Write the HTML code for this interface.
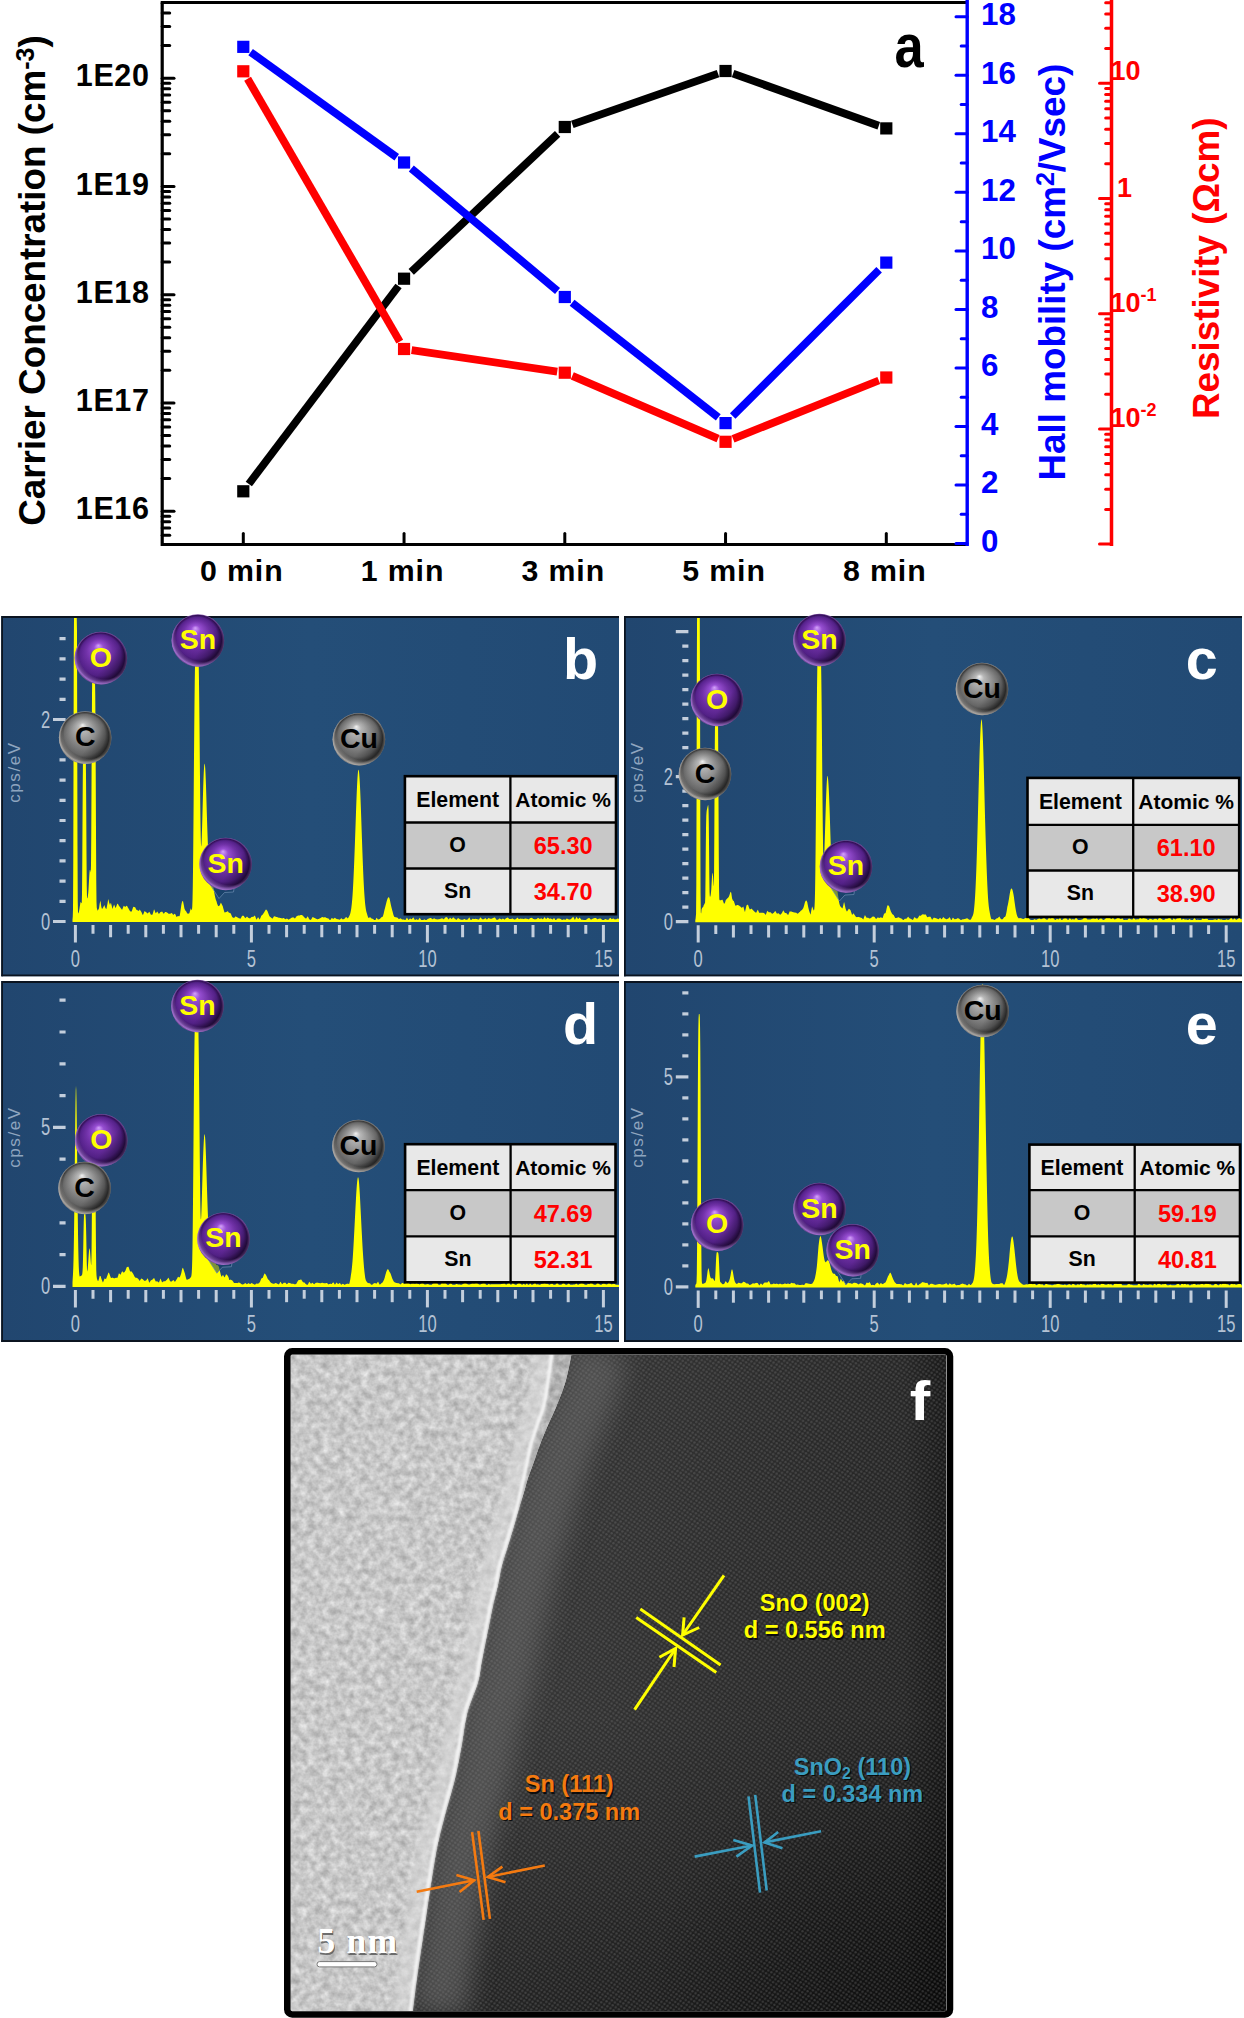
<!DOCTYPE html>
<html><head><meta charset="utf-8"><style>
html,body{margin:0;padding:0;background:#fff;overflow:hidden;}
svg{display:block;font-family:"Liberation Sans",sans-serif;}
</style></head><body>
<svg width="1244" height="2018" viewBox="0 0 1244 2018">
<defs>
<radialGradient id="gp" cx="0.5" cy="0.5" r="0.5" fx="0.45" fy="0.26">
 <stop offset="0" stop-color="#d8a4ff"/>
 <stop offset="0.18" stop-color="#9a50d6"/>
 <stop offset="0.5" stop-color="#7232aa"/>
 <stop offset="0.78" stop-color="#56228c"/>
 <stop offset="0.91" stop-color="#331058"/>
 <stop offset="1" stop-color="#8656ac"/>
</radialGradient>
<radialGradient id="gg" cx="0.5" cy="0.5" r="0.5" fx="0.45" fy="0.26">
 <stop offset="0" stop-color="#f6f6f6"/>
 <stop offset="0.16" stop-color="#bcbcbc"/>
 <stop offset="0.5" stop-color="#8e8e8e"/>
 <stop offset="0.78" stop-color="#6a6a6a"/>
 <stop offset="0.91" stop-color="#3c3c3c"/>
 <stop offset="1" stop-color="#9c9894"/>
</radialGradient>
<linearGradient id="gshade" x1="0.25" y1="0.2" x2="1" y2="0.75">
 <stop offset="0" stop-color="#000" stop-opacity="0"/>
 <stop offset="0.55" stop-color="#000" stop-opacity="0.05"/>
 <stop offset="1" stop-color="#000" stop-opacity="0.5"/>
</linearGradient>
<radialGradient id="grimp" cx="0.58" cy="0.4" r="0.62">
 <stop offset="0.8" stop-color="#b07ee0" stop-opacity="0"/>
 <stop offset="0.97" stop-color="#b07ee0" stop-opacity="0.75"/>
 <stop offset="1" stop-color="#b07ee0" stop-opacity="0"/>
</radialGradient>
<radialGradient id="grimg" cx="0.58" cy="0.4" r="0.62">
 <stop offset="0.8" stop-color="#c0bcb8" stop-opacity="0"/>
 <stop offset="0.97" stop-color="#c0bcb8" stop-opacity="0.7"/>
 <stop offset="1" stop-color="#c0bcb8" stop-opacity="0"/>
</radialGradient>
<linearGradient id="gbg" x1="0" y1="0" x2="1" y2="0">
 <stop offset="0" stop-color="#21466f"/>
 <stop offset="0.5" stop-color="#244e78"/>
 <stop offset="1" stop-color="#224a74"/>
</linearGradient>
<linearGradient id="gdark" gradientUnits="userSpaceOnUse" x1="420" y1="0" x2="946" y2="0">
 <stop offset="0" stop-color="#404040"/>
 <stop offset="0.3" stop-color="#353535"/>
 <stop offset="0.6" stop-color="#2d2d2d"/>
 <stop offset="0.92" stop-color="#262626"/>
 <stop offset="1" stop-color="#181818"/>
</linearGradient>
<linearGradient id="gdark2" gradientUnits="userSpaceOnUse" x1="0" y1="1354" x2="0" y2="2011">
 <stop offset="0" stop-color="#000" stop-opacity="0"/>
 <stop offset="0.55" stop-color="#000" stop-opacity="0.06"/>
 <stop offset="0.8" stop-color="#000" stop-opacity="0.25"/>
 <stop offset="1" stop-color="#000" stop-opacity="0.42"/>
</linearGradient>
<radialGradient id="gcorner" gradientUnits="userSpaceOnUse" cx="946" cy="2011" r="300">
 <stop offset="0" stop-color="#000" stop-opacity="0.45"/>
 <stop offset="1" stop-color="#000" stop-opacity="0"/>
</radialGradient>
<filter id="blur2" x="-50%" y="-50%" width="200%" height="200%"><feGaussianBlur stdDeviation="2.5"/></filter>
<filter id="blur3" x="-50%" y="-50%" width="200%" height="200%"><feGaussianBlur stdDeviation="3"/></filter>
<pattern id="lat" patternUnits="userSpaceOnUse" width="5.4" height="5.0" patternTransform="rotate(-10)">
 <circle cx="1.35" cy="1.25" r="1.2" fill="#8c8c8c"/><circle cx="4.05" cy="3.75" r="1.2" fill="#8c8c8c"/>
</pattern>
<filter id="blur07" x="-20%" y="-20%" width="140%" height="140%"><feGaussianBlur stdDeviation="0.8"/></filter>
<filter id="blur12" x="-50%" y="-50%" width="200%" height="200%"><feGaussianBlur stdDeviation="12"/></filter>
<filter id="noise" x="0" y="0" width="100%" height="100%" color-interpolation-filters="sRGB">
 <feTurbulence type="fractalNoise" baseFrequency="0.13" numOctaves="3" seed="7" result="t"/>
 <feColorMatrix in="t" type="matrix" values="1 0 0 0 0  1 0 0 0 0  1 0 0 0 0  0 0 0 0 1" result="g"/>
 <feComponentTransfer in="g" result="g2">
  <feFuncR type="linear" slope="0.34" intercept="0.615"/>
  <feFuncG type="linear" slope="0.34" intercept="0.615"/>
  <feFuncB type="linear" slope="0.34" intercept="0.615"/>
 </feComponentTransfer>
 <feComposite in="g2" in2="SourceGraphic" operator="in"/>
</filter>
<clipPath id="cp_tem"><rect x="290.5" y="1354.5" width="656" height="656.5"/></clipPath><clipPath id="cp_b"><rect x="1.2" y="616" width="617.8" height="360.5"/></clipPath><clipPath id="cp_c"><rect x="624" y="616" width="618" height="360.5"/></clipPath><clipPath id="cp_d"><rect x="1.2" y="981" width="617.8" height="361"/></clipPath><clipPath id="cp_e"><rect x="624" y="981" width="618" height="361"/></clipPath>
</defs>
<path d="M162.2,2.5 L162.2,544.5 L967.2,544.5" fill="none" stroke="#000" stroke-width="3.2"/>
<line x1="160.7" y1="2.5" x2="967.2" y2="2.5" stroke="#000" stroke-width="3.2"/>
<line x1="162.2" y1="535.22" x2="169.7" y2="535.22" stroke="#000" stroke-width="3" stroke-linecap="round"/>
<line x1="162.2" y1="527.97" x2="169.7" y2="527.97" stroke="#000" stroke-width="3" stroke-linecap="round"/>
<line x1="162.2" y1="521.69" x2="169.7" y2="521.69" stroke="#000" stroke-width="3" stroke-linecap="round"/>
<line x1="162.2" y1="516.15" x2="169.7" y2="516.15" stroke="#000" stroke-width="3" stroke-linecap="round"/>
<line x1="162.2" y1="511.2" x2="174" y2="511.2" stroke="#000" stroke-width="3" stroke-linecap="round"/>
<line x1="162.2" y1="478.61" x2="169.7" y2="478.61" stroke="#000" stroke-width="3" stroke-linecap="round"/>
<line x1="162.2" y1="459.55" x2="169.7" y2="459.55" stroke="#000" stroke-width="3" stroke-linecap="round"/>
<line x1="162.2" y1="446.03" x2="169.7" y2="446.03" stroke="#000" stroke-width="3" stroke-linecap="round"/>
<line x1="162.2" y1="435.54" x2="169.7" y2="435.54" stroke="#000" stroke-width="3" stroke-linecap="round"/>
<line x1="162.2" y1="426.97" x2="169.7" y2="426.97" stroke="#000" stroke-width="3" stroke-linecap="round"/>
<line x1="162.2" y1="419.72" x2="169.7" y2="419.72" stroke="#000" stroke-width="3" stroke-linecap="round"/>
<line x1="162.2" y1="413.44" x2="169.7" y2="413.44" stroke="#000" stroke-width="3" stroke-linecap="round"/>
<line x1="162.2" y1="407.9" x2="169.7" y2="407.9" stroke="#000" stroke-width="3" stroke-linecap="round"/>
<line x1="162.2" y1="402.95" x2="174" y2="402.95" stroke="#000" stroke-width="3" stroke-linecap="round"/>
<line x1="162.2" y1="370.36" x2="169.7" y2="370.36" stroke="#000" stroke-width="3" stroke-linecap="round"/>
<line x1="162.2" y1="351.3" x2="169.7" y2="351.3" stroke="#000" stroke-width="3" stroke-linecap="round"/>
<line x1="162.2" y1="337.78" x2="169.7" y2="337.78" stroke="#000" stroke-width="3" stroke-linecap="round"/>
<line x1="162.2" y1="327.29" x2="169.7" y2="327.29" stroke="#000" stroke-width="3" stroke-linecap="round"/>
<line x1="162.2" y1="318.72" x2="169.7" y2="318.72" stroke="#000" stroke-width="3" stroke-linecap="round"/>
<line x1="162.2" y1="311.47" x2="169.7" y2="311.47" stroke="#000" stroke-width="3" stroke-linecap="round"/>
<line x1="162.2" y1="305.19" x2="169.7" y2="305.19" stroke="#000" stroke-width="3" stroke-linecap="round"/>
<line x1="162.2" y1="299.65" x2="169.7" y2="299.65" stroke="#000" stroke-width="3" stroke-linecap="round"/>
<line x1="162.2" y1="294.7" x2="174" y2="294.7" stroke="#000" stroke-width="3" stroke-linecap="round"/>
<line x1="162.2" y1="262.11" x2="169.7" y2="262.11" stroke="#000" stroke-width="3" stroke-linecap="round"/>
<line x1="162.2" y1="243.05" x2="169.7" y2="243.05" stroke="#000" stroke-width="3" stroke-linecap="round"/>
<line x1="162.2" y1="229.53" x2="169.7" y2="229.53" stroke="#000" stroke-width="3" stroke-linecap="round"/>
<line x1="162.2" y1="219.04" x2="169.7" y2="219.04" stroke="#000" stroke-width="3" stroke-linecap="round"/>
<line x1="162.2" y1="210.47" x2="169.7" y2="210.47" stroke="#000" stroke-width="3" stroke-linecap="round"/>
<line x1="162.2" y1="203.22" x2="169.7" y2="203.22" stroke="#000" stroke-width="3" stroke-linecap="round"/>
<line x1="162.2" y1="196.94" x2="169.7" y2="196.94" stroke="#000" stroke-width="3" stroke-linecap="round"/>
<line x1="162.2" y1="191.4" x2="169.7" y2="191.4" stroke="#000" stroke-width="3" stroke-linecap="round"/>
<line x1="162.2" y1="186.45" x2="174" y2="186.45" stroke="#000" stroke-width="3" stroke-linecap="round"/>
<line x1="162.2" y1="153.86" x2="169.7" y2="153.86" stroke="#000" stroke-width="3" stroke-linecap="round"/>
<line x1="162.2" y1="134.8" x2="169.7" y2="134.8" stroke="#000" stroke-width="3" stroke-linecap="round"/>
<line x1="162.2" y1="121.28" x2="169.7" y2="121.28" stroke="#000" stroke-width="3" stroke-linecap="round"/>
<line x1="162.2" y1="110.79" x2="169.7" y2="110.79" stroke="#000" stroke-width="3" stroke-linecap="round"/>
<line x1="162.2" y1="102.22" x2="169.7" y2="102.22" stroke="#000" stroke-width="3" stroke-linecap="round"/>
<line x1="162.2" y1="94.97" x2="169.7" y2="94.97" stroke="#000" stroke-width="3" stroke-linecap="round"/>
<line x1="162.2" y1="88.69" x2="169.7" y2="88.69" stroke="#000" stroke-width="3" stroke-linecap="round"/>
<line x1="162.2" y1="83.15" x2="169.7" y2="83.15" stroke="#000" stroke-width="3" stroke-linecap="round"/>
<line x1="162.2" y1="78.2" x2="174" y2="78.2" stroke="#000" stroke-width="3" stroke-linecap="round"/>
<line x1="162.2" y1="45.61" x2="169.7" y2="45.61" stroke="#000" stroke-width="3" stroke-linecap="round"/>
<line x1="162.2" y1="26.55" x2="169.7" y2="26.55" stroke="#000" stroke-width="3" stroke-linecap="round"/>
<line x1="162.2" y1="13.03" x2="169.7" y2="13.03" stroke="#000" stroke-width="3" stroke-linecap="round"/>
<text x="149.5" y="519.4" font-size="30.5" font-weight="bold" text-anchor="end" letter-spacing="0.6">1E16</text>
<text x="149.5" y="411.15" font-size="30.5" font-weight="bold" text-anchor="end" letter-spacing="0.6">1E17</text>
<text x="149.5" y="302.9" font-size="30.5" font-weight="bold" text-anchor="end" letter-spacing="0.6">1E18</text>
<text x="149.5" y="194.65" font-size="30.5" font-weight="bold" text-anchor="end" letter-spacing="0.6">1E19</text>
<text x="149.5" y="86.4" font-size="30.5" font-weight="bold" text-anchor="end" letter-spacing="0.6">1E20</text>
<line x1="243.3" y1="544.5" x2="243.3" y2="533.5" stroke="#000" stroke-width="3" stroke-linecap="round"/>
<text x="241.8" y="580.6" font-size="30.3" font-weight="bold" text-anchor="middle" letter-spacing="0.9">0 min</text>
<line x1="404.05" y1="544.5" x2="404.05" y2="533.5" stroke="#000" stroke-width="3" stroke-linecap="round"/>
<text x="402.55" y="580.6" font-size="30.3" font-weight="bold" text-anchor="middle" letter-spacing="0.9">1 min</text>
<line x1="564.8" y1="544.5" x2="564.8" y2="533.5" stroke="#000" stroke-width="3" stroke-linecap="round"/>
<text x="563.3" y="580.6" font-size="30.3" font-weight="bold" text-anchor="middle" letter-spacing="0.9">3 min</text>
<line x1="725.55" y1="544.5" x2="725.55" y2="533.5" stroke="#000" stroke-width="3" stroke-linecap="round"/>
<text x="724.05" y="580.6" font-size="30.3" font-weight="bold" text-anchor="middle" letter-spacing="0.9">5 min</text>
<line x1="886.3" y1="544.5" x2="886.3" y2="533.5" stroke="#000" stroke-width="3" stroke-linecap="round"/>
<text x="884.8" y="580.6" font-size="30.3" font-weight="bold" text-anchor="middle" letter-spacing="0.9">8 min</text>
<line x1="967.2" y1="0" x2="967.2" y2="546.0" stroke="#0000ff" stroke-width="3.4"/>
<line x1="967.2" y1="543.6" x2="956" y2="543.6" stroke="#0000ff" stroke-width="3" stroke-linecap="round"/>
<text x="981" y="552" font-size="31.3" font-weight="bold" fill="#0000ff">0</text>
<line x1="967.2" y1="514.33" x2="961.2" y2="514.33" stroke="#0000ff" stroke-width="3" stroke-linecap="round"/>
<line x1="967.2" y1="485.06" x2="956" y2="485.06" stroke="#0000ff" stroke-width="3" stroke-linecap="round"/>
<text x="981" y="493.46" font-size="31.3" font-weight="bold" fill="#0000ff">2</text>
<line x1="967.2" y1="455.79" x2="961.2" y2="455.79" stroke="#0000ff" stroke-width="3" stroke-linecap="round"/>
<line x1="967.2" y1="426.52" x2="956" y2="426.52" stroke="#0000ff" stroke-width="3" stroke-linecap="round"/>
<text x="981" y="434.92" font-size="31.3" font-weight="bold" fill="#0000ff">4</text>
<line x1="967.2" y1="397.25" x2="961.2" y2="397.25" stroke="#0000ff" stroke-width="3" stroke-linecap="round"/>
<line x1="967.2" y1="367.98" x2="956" y2="367.98" stroke="#0000ff" stroke-width="3" stroke-linecap="round"/>
<text x="981" y="376.38" font-size="31.3" font-weight="bold" fill="#0000ff">6</text>
<line x1="967.2" y1="338.71" x2="961.2" y2="338.71" stroke="#0000ff" stroke-width="3" stroke-linecap="round"/>
<line x1="967.2" y1="309.44" x2="956" y2="309.44" stroke="#0000ff" stroke-width="3" stroke-linecap="round"/>
<text x="981" y="317.84" font-size="31.3" font-weight="bold" fill="#0000ff">8</text>
<line x1="967.2" y1="280.17" x2="961.2" y2="280.17" stroke="#0000ff" stroke-width="3" stroke-linecap="round"/>
<line x1="967.2" y1="250.9" x2="956" y2="250.9" stroke="#0000ff" stroke-width="3" stroke-linecap="round"/>
<text x="981" y="259.3" font-size="31.3" font-weight="bold" fill="#0000ff">10</text>
<line x1="967.2" y1="221.63" x2="961.2" y2="221.63" stroke="#0000ff" stroke-width="3" stroke-linecap="round"/>
<line x1="967.2" y1="192.36" x2="956" y2="192.36" stroke="#0000ff" stroke-width="3" stroke-linecap="round"/>
<text x="981" y="200.76" font-size="31.3" font-weight="bold" fill="#0000ff">12</text>
<line x1="967.2" y1="163.09" x2="961.2" y2="163.09" stroke="#0000ff" stroke-width="3" stroke-linecap="round"/>
<line x1="967.2" y1="133.82" x2="956" y2="133.82" stroke="#0000ff" stroke-width="3" stroke-linecap="round"/>
<text x="981" y="142.22" font-size="31.3" font-weight="bold" fill="#0000ff">14</text>
<line x1="967.2" y1="104.55" x2="961.2" y2="104.55" stroke="#0000ff" stroke-width="3" stroke-linecap="round"/>
<line x1="967.2" y1="75.28" x2="956" y2="75.28" stroke="#0000ff" stroke-width="3" stroke-linecap="round"/>
<text x="981" y="83.68" font-size="31.3" font-weight="bold" fill="#0000ff">16</text>
<line x1="967.2" y1="46.01" x2="961.2" y2="46.01" stroke="#0000ff" stroke-width="3" stroke-linecap="round"/>
<line x1="967.2" y1="16.74" x2="956" y2="16.74" stroke="#0000ff" stroke-width="3" stroke-linecap="round"/>
<text x="981" y="25.14" font-size="31.3" font-weight="bold" fill="#0000ff">18</text>
<line x1="1111.5" y1="0" x2="1111.5" y2="546.0" stroke="#ff0000" stroke-width="3.5"/>
<line x1="1111.5" y1="544.1" x2="1099.5" y2="544.1" stroke="#ff0000" stroke-width="3" stroke-linecap="round"/>
<line x1="1111.5" y1="509.42" x2="1105.7" y2="509.42" stroke="#ff0000" stroke-width="3" stroke-linecap="round"/>
<line x1="1111.5" y1="489.14" x2="1105.7" y2="489.14" stroke="#ff0000" stroke-width="3" stroke-linecap="round"/>
<line x1="1111.5" y1="474.74" x2="1105.7" y2="474.74" stroke="#ff0000" stroke-width="3" stroke-linecap="round"/>
<line x1="1111.5" y1="463.58" x2="1105.7" y2="463.58" stroke="#ff0000" stroke-width="3" stroke-linecap="round"/>
<line x1="1111.5" y1="454.46" x2="1105.7" y2="454.46" stroke="#ff0000" stroke-width="3" stroke-linecap="round"/>
<line x1="1111.5" y1="446.74" x2="1105.7" y2="446.74" stroke="#ff0000" stroke-width="3" stroke-linecap="round"/>
<line x1="1111.5" y1="440.06" x2="1105.7" y2="440.06" stroke="#ff0000" stroke-width="3" stroke-linecap="round"/>
<line x1="1111.5" y1="434.17" x2="1105.7" y2="434.17" stroke="#ff0000" stroke-width="3" stroke-linecap="round"/>
<line x1="1111.5" y1="428.9" x2="1099.5" y2="428.9" stroke="#ff0000" stroke-width="3" stroke-linecap="round"/>
<line x1="1111.5" y1="394.22" x2="1105.7" y2="394.22" stroke="#ff0000" stroke-width="3" stroke-linecap="round"/>
<line x1="1111.5" y1="373.94" x2="1105.7" y2="373.94" stroke="#ff0000" stroke-width="3" stroke-linecap="round"/>
<line x1="1111.5" y1="359.54" x2="1105.7" y2="359.54" stroke="#ff0000" stroke-width="3" stroke-linecap="round"/>
<line x1="1111.5" y1="348.38" x2="1105.7" y2="348.38" stroke="#ff0000" stroke-width="3" stroke-linecap="round"/>
<line x1="1111.5" y1="339.26" x2="1105.7" y2="339.26" stroke="#ff0000" stroke-width="3" stroke-linecap="round"/>
<line x1="1111.5" y1="331.54" x2="1105.7" y2="331.54" stroke="#ff0000" stroke-width="3" stroke-linecap="round"/>
<line x1="1111.5" y1="324.86" x2="1105.7" y2="324.86" stroke="#ff0000" stroke-width="3" stroke-linecap="round"/>
<line x1="1111.5" y1="318.97" x2="1105.7" y2="318.97" stroke="#ff0000" stroke-width="3" stroke-linecap="round"/>
<line x1="1111.5" y1="313.7" x2="1099.5" y2="313.7" stroke="#ff0000" stroke-width="3" stroke-linecap="round"/>
<line x1="1111.5" y1="279.02" x2="1105.7" y2="279.02" stroke="#ff0000" stroke-width="3" stroke-linecap="round"/>
<line x1="1111.5" y1="258.74" x2="1105.7" y2="258.74" stroke="#ff0000" stroke-width="3" stroke-linecap="round"/>
<line x1="1111.5" y1="244.34" x2="1105.7" y2="244.34" stroke="#ff0000" stroke-width="3" stroke-linecap="round"/>
<line x1="1111.5" y1="233.18" x2="1105.7" y2="233.18" stroke="#ff0000" stroke-width="3" stroke-linecap="round"/>
<line x1="1111.5" y1="224.06" x2="1105.7" y2="224.06" stroke="#ff0000" stroke-width="3" stroke-linecap="round"/>
<line x1="1111.5" y1="216.34" x2="1105.7" y2="216.34" stroke="#ff0000" stroke-width="3" stroke-linecap="round"/>
<line x1="1111.5" y1="209.66" x2="1105.7" y2="209.66" stroke="#ff0000" stroke-width="3" stroke-linecap="round"/>
<line x1="1111.5" y1="203.77" x2="1105.7" y2="203.77" stroke="#ff0000" stroke-width="3" stroke-linecap="round"/>
<line x1="1111.5" y1="198.5" x2="1099.5" y2="198.5" stroke="#ff0000" stroke-width="3" stroke-linecap="round"/>
<line x1="1111.5" y1="163.82" x2="1105.7" y2="163.82" stroke="#ff0000" stroke-width="3" stroke-linecap="round"/>
<line x1="1111.5" y1="143.54" x2="1105.7" y2="143.54" stroke="#ff0000" stroke-width="3" stroke-linecap="round"/>
<line x1="1111.5" y1="129.14" x2="1105.7" y2="129.14" stroke="#ff0000" stroke-width="3" stroke-linecap="round"/>
<line x1="1111.5" y1="117.98" x2="1105.7" y2="117.98" stroke="#ff0000" stroke-width="3" stroke-linecap="round"/>
<line x1="1111.5" y1="108.86" x2="1105.7" y2="108.86" stroke="#ff0000" stroke-width="3" stroke-linecap="round"/>
<line x1="1111.5" y1="101.14" x2="1105.7" y2="101.14" stroke="#ff0000" stroke-width="3" stroke-linecap="round"/>
<line x1="1111.5" y1="94.46" x2="1105.7" y2="94.46" stroke="#ff0000" stroke-width="3" stroke-linecap="round"/>
<line x1="1111.5" y1="88.57" x2="1105.7" y2="88.57" stroke="#ff0000" stroke-width="3" stroke-linecap="round"/>
<line x1="1111.5" y1="83.3" x2="1099.5" y2="83.3" stroke="#ff0000" stroke-width="3" stroke-linecap="round"/>
<line x1="1111.5" y1="48.62" x2="1105.7" y2="48.62" stroke="#ff0000" stroke-width="3" stroke-linecap="round"/>
<line x1="1111.5" y1="28.34" x2="1105.7" y2="28.34" stroke="#ff0000" stroke-width="3" stroke-linecap="round"/>
<line x1="1111.5" y1="13.94" x2="1105.7" y2="13.94" stroke="#ff0000" stroke-width="3" stroke-linecap="round"/>
<line x1="1111.5" y1="2.78" x2="1105.7" y2="2.78" stroke="#ff0000" stroke-width="3" stroke-linecap="round"/>
<text x="1110.5" y="80.3" font-size="27" font-weight="bold" fill="#ff0000">10</text>
<text x="1117" y="196.5" font-size="27" font-weight="bold" fill="#ff0000">1</text>
<text x="1110.5" y="311.7" font-size="27" font-weight="bold" fill="#ff0000">10<tspan font-size="18" dy="-11">-1</tspan></text>
<text x="1110.5" y="426.9" font-size="27" font-weight="bold" fill="#ff0000">10<tspan font-size="18" dy="-11">-2</tspan></text>
<text transform="translate(45,525.8) rotate(-90)" font-size="36.8" font-weight="bold">Carrier Concentration (cm<tspan font-size="25" dy="-11.5">-3</tspan><tspan dy="11.5">)</tspan></text>
<text transform="translate(1065,480.5) rotate(-90)" font-size="36.8" font-weight="bold" fill="#0000ff">Hall mobility (cm<tspan font-size="25" dy="-11.5">2</tspan><tspan dy="11.5">/Vsec)</tspan></text>
<text transform="translate(1219.4,419) rotate(-90)" font-size="36.8" font-weight="bold" fill="#ff0000">Resistivity (&#937;cm)</text>
<text transform="translate(894.5,67.4) scale(0.86,1)" font-size="61" font-weight="bold">a</text>
<line x1="248.82" y1="484" x2="398.53" y2="286" stroke="#000000" stroke-width="7.8"/>
<line x1="411.24" y1="271.91" x2="557.61" y2="133.79" stroke="#000000" stroke-width="7.8"/>
<line x1="572.32" y1="124.38" x2="718.03" y2="73.62" stroke="#000000" stroke-width="7.8"/>
<line x1="733.06" y1="73.68" x2="878.79" y2="125.72" stroke="#000000" stroke-width="7.8"/>
<rect x="237.2" y="485.2" width="12.2" height="12.2" fill="#000000"/>
<rect x="397.95" y="272.6" width="12.2" height="12.2" fill="#000000"/>
<rect x="558.7" y="120.9" width="12.2" height="12.2" fill="#000000"/>
<rect x="719.45" y="64.9" width="12.2" height="12.2" fill="#000000"/>
<rect x="880.2" y="122.3" width="12.2" height="12.2" fill="#000000"/>
<line x1="250.62" y1="52.11" x2="396.73" y2="157.24" stroke="#0000ff" stroke-width="7.8"/>
<line x1="411.3" y1="168.57" x2="557.55" y2="290.93" stroke="#0000ff" stroke-width="7.8"/>
<line x1="572.08" y1="302.71" x2="718.27" y2="417.39" stroke="#0000ff" stroke-width="7.8"/>
<line x1="732.71" y1="415.95" x2="879.14" y2="269.75" stroke="#0000ff" stroke-width="7.8"/>
<rect x="237.2" y="40.75" width="12.2" height="12.2" fill="#0000ff"/>
<rect x="397.95" y="156.4" width="12.2" height="12.2" fill="#0000ff"/>
<rect x="558.7" y="290.9" width="12.2" height="12.2" fill="#0000ff"/>
<rect x="719.45" y="417" width="12.2" height="12.2" fill="#0000ff"/>
<rect x="880.2" y="256.5" width="12.2" height="12.2" fill="#0000ff"/>
<line x1="247.58" y1="78.7" x2="399.77" y2="341.6" stroke="#ff0000" stroke-width="7.8"/>
<line x1="411.63" y1="350.12" x2="557.22" y2="371.58" stroke="#ff0000" stroke-width="7.8"/>
<line x1="572.28" y1="375.91" x2="718.07" y2="438.59" stroke="#ff0000" stroke-width="7.8"/>
<line x1="733.04" y1="438.8" x2="878.81" y2="380.5" stroke="#ff0000" stroke-width="7.8"/>
<rect x="237.2" y="65.2" width="12.2" height="12.2" fill="#ff0000"/>
<rect x="397.95" y="342.9" width="12.2" height="12.2" fill="#ff0000"/>
<rect x="558.7" y="366.6" width="12.2" height="12.2" fill="#ff0000"/>
<rect x="719.45" y="435.7" width="12.2" height="12.2" fill="#ff0000"/>
<rect x="880.2" y="371.4" width="12.2" height="12.2" fill="#ff0000"/>
<g clip-path="url(#cp_b)"><rect x="1.2" y="616" width="617.8" height="360.5" fill="url(#gbg)"/>
<line x1="53" y1="921.5" x2="65.6" y2="921.5" stroke="#c3cedc" stroke-width="3.2"/>
<line x1="59.5" y1="901.3" x2="65.6" y2="901.3" stroke="#c3cedc" stroke-width="3.2"/>
<line x1="59.5" y1="881.1" x2="65.6" y2="881.1" stroke="#c3cedc" stroke-width="3.2"/>
<line x1="59.5" y1="860.9" x2="65.6" y2="860.9" stroke="#c3cedc" stroke-width="3.2"/>
<line x1="59.5" y1="840.7" x2="65.6" y2="840.7" stroke="#c3cedc" stroke-width="3.2"/>
<line x1="59.5" y1="820.5" x2="65.6" y2="820.5" stroke="#c3cedc" stroke-width="3.2"/>
<line x1="59.5" y1="800.3" x2="65.6" y2="800.3" stroke="#c3cedc" stroke-width="3.2"/>
<line x1="59.5" y1="780.1" x2="65.6" y2="780.1" stroke="#c3cedc" stroke-width="3.2"/>
<line x1="59.5" y1="759.9" x2="65.6" y2="759.9" stroke="#c3cedc" stroke-width="3.2"/>
<line x1="59.5" y1="739.7" x2="65.6" y2="739.7" stroke="#c3cedc" stroke-width="3.2"/>
<line x1="53" y1="719.5" x2="65.6" y2="719.5" stroke="#c3cedc" stroke-width="3.2"/>
<line x1="59.5" y1="699.3" x2="65.6" y2="699.3" stroke="#c3cedc" stroke-width="3.2"/>
<line x1="59.5" y1="679.1" x2="65.6" y2="679.1" stroke="#c3cedc" stroke-width="3.2"/>
<line x1="59.5" y1="658.9" x2="65.6" y2="658.9" stroke="#c3cedc" stroke-width="3.2"/>
<line x1="59.5" y1="638.7" x2="65.6" y2="638.7" stroke="#c3cedc" stroke-width="3.2"/>
<text transform="translate(50.2,929.5) scale(0.72,1)" font-size="23" fill="#b4c2d4" text-anchor="end">0</text>
<text transform="translate(50.2,727.5) scale(0.72,1)" font-size="23" fill="#b4c2d4" text-anchor="end">2</text>
<text transform="translate(20.4,772) rotate(-90)" font-size="17" letter-spacing="1.6" fill="#8fa5bf" text-anchor="middle">cps/eV</text>
<line x1="75.4" y1="925.1" x2="75.4" y2="942.5" stroke="#c3cedc" stroke-width="3"/>
<line x1="93" y1="925.1" x2="93" y2="933.8" stroke="#c3cedc" stroke-width="3"/>
<line x1="110.6" y1="925.1" x2="110.6" y2="937.3" stroke="#c3cedc" stroke-width="3"/>
<line x1="128.2" y1="925.1" x2="128.2" y2="933.8" stroke="#c3cedc" stroke-width="3"/>
<line x1="145.8" y1="925.1" x2="145.8" y2="937.3" stroke="#c3cedc" stroke-width="3"/>
<line x1="163.4" y1="925.1" x2="163.4" y2="933.8" stroke="#c3cedc" stroke-width="3"/>
<line x1="181" y1="925.1" x2="181" y2="937.3" stroke="#c3cedc" stroke-width="3"/>
<line x1="198.6" y1="925.1" x2="198.6" y2="933.8" stroke="#c3cedc" stroke-width="3"/>
<line x1="216.2" y1="925.1" x2="216.2" y2="937.3" stroke="#c3cedc" stroke-width="3"/>
<line x1="233.8" y1="925.1" x2="233.8" y2="933.8" stroke="#c3cedc" stroke-width="3"/>
<line x1="251.4" y1="925.1" x2="251.4" y2="942.5" stroke="#c3cedc" stroke-width="3"/>
<line x1="269" y1="925.1" x2="269" y2="933.8" stroke="#c3cedc" stroke-width="3"/>
<line x1="286.6" y1="925.1" x2="286.6" y2="937.3" stroke="#c3cedc" stroke-width="3"/>
<line x1="304.2" y1="925.1" x2="304.2" y2="933.8" stroke="#c3cedc" stroke-width="3"/>
<line x1="321.8" y1="925.1" x2="321.8" y2="937.3" stroke="#c3cedc" stroke-width="3"/>
<line x1="339.4" y1="925.1" x2="339.4" y2="933.8" stroke="#c3cedc" stroke-width="3"/>
<line x1="357" y1="925.1" x2="357" y2="937.3" stroke="#c3cedc" stroke-width="3"/>
<line x1="374.6" y1="925.1" x2="374.6" y2="933.8" stroke="#c3cedc" stroke-width="3"/>
<line x1="392.2" y1="925.1" x2="392.2" y2="937.3" stroke="#c3cedc" stroke-width="3"/>
<line x1="409.8" y1="925.1" x2="409.8" y2="933.8" stroke="#c3cedc" stroke-width="3"/>
<line x1="427.4" y1="925.1" x2="427.4" y2="942.5" stroke="#c3cedc" stroke-width="3"/>
<line x1="445" y1="925.1" x2="445" y2="933.8" stroke="#c3cedc" stroke-width="3"/>
<line x1="462.6" y1="925.1" x2="462.6" y2="937.3" stroke="#c3cedc" stroke-width="3"/>
<line x1="480.2" y1="925.1" x2="480.2" y2="933.8" stroke="#c3cedc" stroke-width="3"/>
<line x1="497.8" y1="925.1" x2="497.8" y2="937.3" stroke="#c3cedc" stroke-width="3"/>
<line x1="515.4" y1="925.1" x2="515.4" y2="933.8" stroke="#c3cedc" stroke-width="3"/>
<line x1="533" y1="925.1" x2="533" y2="937.3" stroke="#c3cedc" stroke-width="3"/>
<line x1="550.6" y1="925.1" x2="550.6" y2="933.8" stroke="#c3cedc" stroke-width="3"/>
<line x1="568.2" y1="925.1" x2="568.2" y2="937.3" stroke="#c3cedc" stroke-width="3"/>
<line x1="585.8" y1="925.1" x2="585.8" y2="933.8" stroke="#c3cedc" stroke-width="3"/>
<line x1="603.4" y1="925.1" x2="603.4" y2="942.5" stroke="#c3cedc" stroke-width="3"/>
<text transform="translate(75.4,967.2) scale(0.72,1)" font-size="23" fill="#b4c2d4" text-anchor="middle">0</text>
<text transform="translate(251.4,967.2) scale(0.72,1)" font-size="23" fill="#b4c2d4" text-anchor="middle">5</text>
<text transform="translate(427.4,967.2) scale(0.72,1)" font-size="23" fill="#b4c2d4" text-anchor="middle">10</text>
<text transform="translate(603.4,967.2) scale(0.72,1)" font-size="23" fill="#b4c2d4" text-anchor="middle">15</text>
<path d="M72.5,922.1 L72.5,919.5 L72.75,916.69 L73,908.76 L73.25,864.55 L73.5,765.17 L73.75,652.64 L74,617.5 L74.25,617.5 L74.5,617.5 L74.75,617.5 L75,617.5 L75.25,617.5 L75.5,617.5 L75.75,617.5 L76,617.5 L76.25,617.5 L76.5,617.5 L76.75,617.5 L77,631.64 L77.25,739.73 L77.5,846.25 L77.75,901.59 L78,913 L78.25,913.52 L78.5,912.41 L78.75,912.54 L79,911.44 L79.25,909.93 L79.5,908.39 L79.75,906.82 L80,905.23 L80.25,903.61 L80.5,901.98 L80.75,902.28 L81,902.58 L81.25,902.88 L81.5,903.15 L81.75,902.46 L82,893.89 L82.25,865.52 L82.5,821.83 L82.75,782.1 L83,757.23 L83.25,745.57 L83.5,741.4 L83.75,740.38 L84,740.38 L84.25,740.54 L84.5,740.72 L84.75,740.89 L85,741.17 L85.25,742.14 L85.5,744.71 L85.75,753.49 L86,774.41 L86.25,810.62 L86.5,854.11 L86.75,885.75 L87,897.32 L87.25,898.61 L87.5,897.97 L87.75,896.84 L88,895.1 L88.25,892.64 L88.5,889.44 L88.75,885.09 L89,880.46 L89.25,876.07 L89.5,872.49 L89.75,870.26 L90,869.71 L90.25,870.13 L90.5,871.43 L90.75,872.38 L91,864.93 L91.25,836.54 L91.5,786.06 L91.75,732.69 L92,694.22 L92.25,672.82 L92.5,663.8 L92.75,661.38 L93,661.68 L93.25,662.76 L93.5,664.02 L93.75,665.26 L94,666.47 L94.25,667.71 L94.5,669.3 L94.75,672.42 L95,679.43 L95.25,695.07 L95.5,726 L95.75,774.79 L96,832.7 L96.25,879.44 L96.5,901.67 L96.75,907.51 L97,908.76 L97.25,909.6 L97.5,910.42 L97.75,910.53 L98,910.16 L98.25,909.72 L98.5,909.24 L98.75,908.75 L99,908.26 L99.25,906.53 L99.5,904.79 L99.75,903.19 L100,902.27 L100.25,901.4 L100.5,900.58 L100.75,902.64 L101,904.65 L101.25,906.62 L101.5,907.55 L101.75,908.28 L102,909.05 L102.25,908.71 L102.5,908.38 L102.75,908.06 L103,907.67 L103.25,907.21 L103.5,906.75 L103.75,906.3 L104,905.87 L104.25,905.44 L104.5,905.02 L104.75,906.1 L105,907.16 L105.25,907.56 L105.5,907.98 L105.75,908.44 L106,908.91 L106.25,908.92 L106.5,908.6 L106.75,907.3 L107,906.01 L107.25,904.72 L107.5,903.42 L107.75,902.04 L108,900.28 L108.25,899.04 L108.5,899.98 L108.75,900.94 L109,901.93 L109.25,902.94 L109.5,903.61 L109.75,904.25 L110,904.95 L110.25,904.29 L110.5,903.62 L110.75,902.96 L111,902.98 L111.25,904 L111.5,905.02 L111.75,906.04 L112,907.05 L112.25,908.06 L112.5,909.07 L112.75,908.33 L113,907.59 L113.25,906.85 L113.5,906.12 L113.75,905.39 L114,904.66 L114.25,904.77 L114.5,905.44 L114.75,906.1 L115,906.77 L115.25,907.21 L115.5,907.66 L115.75,907.89 L116,907.22 L116.25,906.54 L116.5,905.86 L116.75,905.17 L117,904.48 L117.25,903.78 L117.5,903.74 L117.75,903.86 L118,904 L118.25,904.5 L118.5,904.99 L118.75,905.49 L119,905.91 L119.25,906.23 L119.5,906.55 L119.75,906.86 L120,907.18 L120.25,907.49 L120.5,907.8 L120.75,908.15 L121,908.5 L121.25,908.85 L121.5,909.19 L121.75,909.53 L122,909.87 L122.25,909.5 L122.5,908.87 L122.75,908.22 L123,907.58 L123.25,906.92 L123.5,906.27 L123.75,905.77 L124,905.97 L124.25,906.17 L124.5,906.37 L124.75,906.58 L125,906.79 L125.25,907 L125.5,906.75 L125.75,906.39 L126,906.02 L126.25,905.94 L126.5,905.86 L126.75,905.78 L127,905.92 L127.25,906.36 L127.5,906.8 L127.75,907.24 L128,907.68 L128.25,908.11 L128.5,908.54 L128.75,908.99 L129,909.43 L129.25,909.87 L129.5,910.31 L129.75,910.74 L130,911.17 L130.25,911.34 L130.5,911.38 L130.75,911.42 L131,911.46 L131.25,911.5 L131.5,911.54 L131.75,911.41 L132,910.61 L132.25,909.82 L132.5,909.04 L132.75,908.27 L133,907.5 L133.25,906.74 L133.5,906.81 L133.75,907.09 L134,907.37 L134.25,907.23 L134.5,907.1 L134.75,906.97 L135,907.08 L135.25,907.55 L135.5,908.04 L135.75,908.54 L136,909.06 L136.25,909.6 L136.5,910.15 L136.75,909.69 L137,909.77 L137.25,909.98 L137.5,910.21 L137.75,910.44 L138,910.67 L138.25,910.73 L138.5,910.68 L138.75,910.65 L139,910.64 L139.25,910.19 L139.5,909.75 L139.75,909.47 L140,909.87 L140.25,910.26 L140.5,910.65 L140.75,911.04 L141,911.43 L141.25,911.82 L141.5,912.32 L141.75,912.85 L142,913.38 L142.25,913.91 L142.5,914.44 L142.75,914.97 L143,915.02 L143.25,914.36 L143.5,913.7 L143.75,913.04 L144,912.38 L144.25,911.73 L144.5,911.08 L144.75,911.25 L145,911.42 L145.25,911.6 L145.5,911.77 L145.75,911.94 L146,912.11 L146.25,912.3 L146.5,912.51 L146.75,912.72 L147,912.92 L147.25,913.13 L147.5,913.34 L147.75,913.45 L148,913.18 L148.25,912.9 L148.5,912.62 L148.75,912.33 L149,912.05 L149.25,911.77 L149.5,912.09 L149.75,912.56 L150,913.04 L150.25,913.51 L150.5,913.98 L150.75,914.45 L151,914.72 L151.25,914.71 L151.5,914.69 L151.75,914.67 L152,914.66 L152.25,914.64 L152.5,914.62 L152.75,913.76 L153,912.9 L153.25,912.05 L153.5,911.19 L153.75,910.33 L154,909.48 L154.25,909.54 L154.5,910.2 L154.75,910.87 L155,911.54 L155.25,912.21 L155.5,912.87 L155.75,913.34 L156,913.03 L156.25,912.71 L156.5,912.4 L156.75,912.09 L157,911.78 L157.25,911.47 L157.5,911.74 L157.75,912.15 L158,912.57 L158.25,912.98 L158.5,913.4 L158.75,913.81 L159,913.94 L159.25,913.62 L159.5,913.3 L159.75,912.99 L160,912.67 L160.25,912.36 L160.5,912.05 L160.75,911.97 L161,911.89 L161.25,911.81 L161.5,911.72 L161.75,911.64 L162,911.56 L162.25,911.75 L162.5,912.11 L162.75,912.47 L163,912.84 L163.25,913.2 L163.5,913.56 L163.75,913.78 L164,913.47 L164.25,913.17 L164.5,912.86 L164.75,912.55 L165,912.25 L165.25,911.94 L165.5,911.94 L165.75,912.02 L166,912.09 L166.25,912.17 L166.5,912.24 L166.75,912.31 L167,912.45 L167.25,912.66 L167.5,912.87 L167.75,913.08 L168,913.3 L168.25,913.51 L168.5,913.72 L168.75,913.74 L169,913.75 L169.25,913.77 L169.5,913.79 L169.75,913.8 L170,913.82 L170.25,913.74 L170.5,913.6 L170.75,913.46 L171,913.32 L171.25,913.18 L171.5,913.03 L171.75,912.99 L172,913.3 L172.25,913.61 L172.5,913.92 L172.75,914.26 L173,914.59 L173.25,914.92 L173.5,914.8 L173.75,914.57 L174,914.34 L174.25,914.11 L174.5,913.88 L174.75,913.66 L175,913.74 L175.25,914.27 L175.5,914.8 L175.75,915.33 L176,915.86 L176.25,916.38 L176.5,916.89 L176.75,916.77 L177,916.64 L177.25,916.5 L177.5,916.35 L177.75,916.18 L178,915.98 L178.25,916.01 L178.5,916.17 L178.75,916.25 L179,916.25 L179.25,916.15 L179.5,915.94 L179.75,915.42 L180,914.06 L180.25,912.46 L180.5,910.75 L180.75,908.98 L181,907.19 L181.25,905.43 L181.5,904.1 L181.75,903.01 L182,902.12 L182.25,901.47 L182.5,901.08 L182.75,900.95 L183,901.33 L183.25,902.31 L183.5,903.46 L183.75,904.74 L184,906.07 L184.25,907.41 L184.5,908.71 L184.75,909.32 L185,909.82 L185.25,910.33 L185.5,910.72 L185.75,911 L186,911.17 L186.25,911.56 L186.5,912.07 L186.75,912.52 L187,912.94 L187.25,913.24 L187.5,913.52 L187.75,913.73 L188,913.68 L188.25,913.63 L188.5,913.57 L188.75,913.5 L189,913.44 L189.25,913.37 L189.5,912.69 L189.75,911.85 L190,911 L190.25,910.18 L190.5,909.36 L190.75,908.53 L191,908.39 L191.25,909.24 L191.5,909.96 L191.75,910.24 L192,909.47 L192.25,906.64 L192.5,900.36 L192.75,888.17 L193,870.16 L193.25,846.34 L193.5,817.86 L193.75,786.8 L194,755.66 L194.25,726.6 L194.5,701.38 L194.75,681.03 L195,665.68 L195.25,654.9 L195.5,647.86 L195.75,643.72 L196,641.86 L196.25,641.1 L196.5,640.86 L196.75,640.75 L197,640.6 L197.25,640.44 L197.5,640.39 L197.75,641.03 L198,643.07 L198.25,647.33 L198.5,654.72 L198.75,666.04 L199,681.71 L199.25,701.72 L199.5,725.64 L199.75,752.01 L200,778.63 L200.25,803.04 L200.5,822.82 L200.75,837.18 L201,844.89 L201.25,846.6 L201.5,843.66 L201.75,837.64 L202,829.86 L202.25,820.98 L202.5,811.67 L202.75,802.53 L203,793.83 L203.25,785.81 L203.5,778.7 L203.75,772.76 L204,768.3 L204.25,765.27 L204.5,763.77 L204.75,763.83 L205,765.45 L205.25,768.55 L205.5,773.23 L205.75,779.17 L206,786.12 L206.25,793.85 L206.5,802.13 L206.75,810.72 L207,819.06 L207.25,826.81 L207.5,834.21 L207.75,841.11 L208,847.4 L208.25,852.97 L208.5,857.79 L208.75,862.17 L209,865.8 L209.25,868.72 L209.5,871.01 L209.75,872.76 L210,874.04 L210.25,874.95 L210.5,875.58 L210.75,876.05 L211,876.45 L211.25,876.84 L211.5,877.29 L211.75,877.92 L212,878.98 L212.25,880.09 L212.5,881.37 L212.75,882.79 L213,884.36 L213.25,886.05 L213.5,887.59 L213.75,889.13 L214,890.69 L214.25,892.25 L214.5,893.77 L214.75,895.22 L215,896.51 L215.25,897.59 L215.5,898.55 L215.75,899.39 L216,900.1 L216.25,900.69 L216.5,901.15 L216.75,902.28 L217,903.13 L217.25,903.9 L217.5,904.6 L217.75,905.23 L218,905.81 L218.25,906.09 L218.5,906.15 L218.75,906.05 L219,905.92 L219.25,905.77 L219.5,905.61 L219.75,905.35 L220,904.73 L220.25,904.09 L220.5,903.44 L220.75,902.77 L221,902.65 L221.25,903.36 L221.5,903.83 L221.75,904.26 L222,904.73 L222.25,905.22 L222.5,905.75 L222.75,906.32 L223,907.35 L223.25,908.23 L223.5,909.1 L223.75,909.96 L224,910.8 L224.25,911.63 L224.5,912.45 L224.75,912.39 L225,912.35 L225.25,912.31 L225.5,912.27 L225.75,912.25 L226,912.23 L226.25,912.01 L226.5,911.88 L226.75,911.75 L227,911.61 L227.25,911.48 L227.5,911.34 L227.75,911.29 L228,911.58 L228.25,911.86 L228.5,912.15 L228.75,912.44 L229,912.74 L229.25,913.04 L229.5,912.85 L229.75,912.82 L230,912.99 L230.25,913.17 L230.5,913.36 L230.75,913.56 L231,913.97 L231.25,914.65 L231.5,915.32 L231.75,915.97 L232,916.61 L232.25,916.96 L232.5,917.32 L232.75,917.42 L233,917.53 L233.25,917.63 L233.5,917.73 L233.75,917.84 L234,917.94 L234.25,917.8 L234.5,917.51 L234.75,917.23 L235,916.96 L235.25,916.7 L235.5,916.46 L235.75,916.33 L236,916.62 L236.25,916.75 L236.5,916.88 L236.75,917 L237,917.13 L237.25,917.26 L237.5,917.4 L237.75,917.55 L238,917.7 L238.25,917.84 L238.5,917.99 L238.75,918.14 L239,918.26 L239.25,918.35 L239.5,918.43 L239.75,918.52 L240,918.61 L240.25,918.69 L240.5,918.78 L240.75,918.32 L241,917.86 L241.25,917.39 L241.5,916.93 L241.75,916.47 L242,916.01 L242.25,915.83 L242.5,915.82 L242.75,915.82 L243,915.82 L243.25,915.81 L243.5,915.81 L243.75,915.89 L244,916.27 L244.25,916.66 L244.5,917.04 L244.75,917.43 L245,917.81 L245.25,918.2 L245.5,918.05 L245.75,917.77 L246,917.48 L246.25,917.2 L246.5,916.92 L246.75,916.64 L247,916.57 L247.25,916.81 L247.5,917.05 L247.75,917.29 L248,917.53 L248.25,917.77 L248.5,918.01 L248.75,918.08 L249,918.15 L249.25,918.22 L249.5,918.28 L249.75,918.35 L250,918.42 L250.25,918.3 L250.5,918.06 L250.75,917.83 L251,917.59 L251.25,917.35 L251.5,917.11 L251.75,916.92 L252,916.9 L252.25,916.88 L252.5,916.86 L252.75,916.84 L253,916.83 L253.25,916.81 L253.5,916.64 L253.75,916.43 L254,916.22 L254.25,916.02 L254.5,915.81 L254.75,915.6 L255,915.75 L255.25,916.42 L255.5,917.1 L255.75,917.77 L256,918.44 L256.25,919.11 L256.5,919.78 L256.75,919.36 L257,918.93 L257.25,918.5 L257.5,918.08 L257.75,917.64 L258,917.21 L258.25,917.29 L258.5,917.71 L258.75,918.12 L259,918.52 L259.25,918.91 L259.5,919.28 L259.75,919.46 L260,918.93 L260.25,918.37 L260.5,917.78 L260.75,917.16 L261,916.51 L261.25,915.83 L261.5,915.58 L261.75,915.41 L262,915.2 L262.25,914.96 L262.5,914.69 L262.75,914.4 L263,914.05 L263.25,913.66 L263.5,913.26 L263.75,912.88 L264,912.51 L264.25,912.17 L264.5,911.87 L264.75,911.32 L265,910.83 L265.25,910.4 L265.5,910.06 L265.75,909.79 L266,909.59 L266.25,909.63 L266.5,909.84 L266.75,910.12 L267,910.46 L267.25,910.86 L267.5,911.3 L267.75,911.81 L268,912.48 L268.25,913.16 L268.5,913.84 L268.75,914.51 L269,915.17 L269.25,915.81 L269.5,916.19 L269.75,916.48 L270,916.74 L270.25,916.96 L270.5,917.15 L270.75,917.3 L271,917.49 L271.25,917.74 L271.5,917.97 L271.75,918.17 L272,918.35 L272.25,918.51 L272.5,918.65 L272.75,918.28 L273,917.91 L273.25,917.52 L273.5,917.12 L273.75,916.72 L274,916.32 L274.25,916.22 L274.5,916.31 L274.75,916.41 L275,916.5 L275.25,916.59 L275.5,916.68 L275.75,916.77 L276,916.84 L276.25,916.9 L276.5,916.97 L276.75,917.03 L277,917.1 L277.25,917.16 L277.5,917.25 L277.75,917.35 L278,917.45 L278.25,917.56 L278.5,917.66 L278.75,917.76 L279,917.82 L279.25,917.84 L279.5,917.86 L279.75,917.87 L280,917.89 L280.25,917.9 L280.5,917.92 L280.75,918.01 L281,918.1 L281.25,918.19 L281.5,918.28 L281.75,918.37 L282,918.46 L282.25,918.44 L282.5,918.36 L282.75,918.27 L283,918.18 L283.25,918.1 L283.5,918.01 L283.75,917.99 L284,918.19 L284.25,918.39 L284.5,918.6 L284.75,918.8 L285,919.01 L285.25,919.21 L285.5,919.16 L285.75,919.04 L286,918.92 L286.25,918.8 L286.5,918.68 L286.75,918.56 L287,918.56 L287.25,918.75 L287.5,918.93 L287.75,919.12 L288,919.3 L288.25,919.49 L288.5,919.67 L288.75,919.53 L289,919.39 L289.25,919.25 L289.5,919.11 L289.75,918.97 L290,918.82 L290.25,918.66 L290.5,918.49 L290.75,918.32 L291,918.15 L291.25,917.97 L291.5,917.8 L291.75,917.65 L292,917.59 L292.25,917.53 L292.5,917.47 L292.75,917.4 L293,917.34 L293.25,917.27 L293.5,917.43 L293.75,917.65 L294,917.86 L294.25,918.06 L294.5,918.26 L294.75,918.45 L295,918.42 L295.25,918.1 L295.5,917.75 L295.75,917.4 L296,917.02 L296.25,916.63 L296.5,916.23 L296.75,916.14 L297,916.04 L297.25,915.92 L297.5,915.79 L297.75,915.64 L298,915.49 L298.25,915.42 L298.5,915.42 L298.75,915.42 L299,915.43 L299.25,915.45 L299.5,915.5 L299.75,915.52 L300,915.34 L300.25,915.2 L300.5,915.09 L300.75,915.02 L301,914.99 L301.25,915 L301.5,915.02 L301.75,915.08 L302,915.16 L302.25,915.27 L302.5,915.4 L302.75,915.54 L303,915.76 L303.25,916.07 L303.5,916.38 L303.75,916.69 L304,916.99 L304.25,917.27 L304.5,917.54 L304.75,917.76 L305,917.97 L305.25,918.15 L305.5,918.32 L305.75,918.47 L306,918.6 L306.25,918.45 L306.5,918.1 L306.75,917.73 L307,917.36 L307.25,916.97 L307.5,916.58 L307.75,916.36 L308,916.86 L308.25,917.36 L308.5,917.85 L308.75,918.34 L309,918.82 L309.25,919.31 L309.5,919.48 L309.75,919.58 L310,919.67 L310.25,919.77 L310.5,919.86 L310.75,919.9 L311,919.83 L311.25,919.36 L311.5,918.89 L311.75,918.43 L312,917.96 L312.25,917.5 L312.5,917.03 L312.75,917.13 L313,917.24 L313.25,917.34 L313.5,917.44 L313.75,917.54 L314,917.65 L314.25,917.77 L314.5,917.9 L314.75,918.03 L315,918.16 L315.25,918.3 L315.5,918.43 L315.75,918.56 L316,918.69 L316.25,918.82 L316.5,918.95 L316.75,919.08 L317,919.21 L317.25,919.34 L317.5,919.31 L317.75,919.24 L318,919.17 L318.25,919.1 L318.5,919.03 L318.75,918.97 L319,918.87 L319.25,918.74 L319.5,918.61 L319.75,918.48 L320,918.34 L320.25,918.21 L320.5,918.08 L320.75,917.91 L321,917.73 L321.25,917.56 L321.5,917.38 L321.75,917.21 L322,917.03 L322.25,917.01 L322.5,917.08 L322.75,917.15 L323,917.23 L323.25,917.3 L323.5,917.38 L323.75,917.43 L324,917.39 L324.25,917.35 L324.5,917.31 L324.75,917.27 L325,917.23 L325.25,917.18 L325.5,917.31 L325.75,917.47 L326,917.63 L326.25,917.79 L326.5,917.95 L326.75,918.11 L327,918.23 L327.25,918.27 L327.5,918.32 L327.75,918.36 L328,918.41 L328.25,918.45 L328.5,918.5 L328.75,918.81 L329,919.12 L329.25,919.44 L329.5,919.75 L329.75,919.9 L330,919.9 L330.25,919.9 L330.5,919.85 L330.75,919.45 L331,919.05 L331.25,918.64 L331.5,918.24 L331.75,917.95 L332,918.11 L332.25,918.26 L332.5,918.42 L332.75,918.57 L333,918.73 L333.25,918.88 L333.5,918.76 L333.75,918.56 L334,918.37 L334.25,918.17 L334.5,917.98 L334.75,917.78 L335,917.75 L335.25,917.97 L335.5,918.19 L335.75,918.4 L336,918.62 L336.25,918.84 L336.5,919.05 L336.75,919.08 L337,919.1 L337.25,919.12 L337.5,919.14 L337.75,919.16 L338,919.18 L338.25,919.24 L338.5,919.32 L338.75,919.41 L339,919.49 L339.25,919.57 L339.5,919.66 L339.75,919.68 L340,919.43 L340.25,919.19 L340.5,918.95 L340.75,918.7 L341,918.46 L341.25,918.22 L341.5,918.33 L341.75,918.54 L342,918.74 L342.25,918.95 L342.5,919.15 L342.75,919.36 L343,919.43 L343.25,919.32 L343.5,919.21 L343.75,919.09 L344,918.98 L344.25,918.86 L344.5,918.75 L344.75,918.46 L345,918.18 L345.25,917.89 L345.5,917.6 L345.75,917.31 L346,917.01 L346.25,917.06 L346.5,917.32 L346.75,917.58 L347,917.83 L347.25,918.06 L347.5,918.28 L347.75,918.39 L348,918.1 L348.25,917.78 L348.5,917.41 L348.75,917 L349,916.53 L349.25,915.98 L349.5,915.51 L349.75,914.97 L350,914.31 L350.25,913.51 L350.5,912.53 L350.75,911.36 L351,909.98 L351.25,908.39 L351.5,906.52 L351.75,904.33 L352,901.82 L352.25,898.94 L352.5,895.67 L352.75,891.89 L353,887.69 L353.25,883.07 L353.5,878.02 L353.75,872.54 L354,866.67 L354.25,860.53 L354.5,854.12 L354.75,847.44 L355,840.54 L355.25,833.51 L355.5,826.42 L355.75,819.3 L356,812.07 L356.25,805.08 L356.5,798.45 L356.75,792.27 L357,786.64 L357.25,781.68 L357.5,777.53 L357.75,774.21 L358,771.78 L358.25,770.27 L358.5,769.71 L358.75,770.11 L359,771.55 L359.25,774.03 L359.5,777.39 L359.75,781.56 L360,786.48 L360.25,792.05 L360.5,798.18 L360.75,804.67 L361,811.51 L361.25,818.6 L361.5,825.82 L361.75,833.08 L362,840.29 L362.25,847.39 L362.5,854.31 L362.75,860.96 L363,867.27 L363.25,873.21 L363.5,878.75 L363.75,883.84 L364,888.35 L364.25,892.43 L364.5,896.09 L364.75,899.35 L365,902.22 L365.25,904.72 L365.5,906.79 L365.75,908.52 L366,909.97 L366.25,911.17 L366.5,912.15 L366.75,912.94 L367,913.75 L367.25,914.7 L367.5,915.53 L367.75,916.25 L368,916.88 L368.25,917.44 L368.5,917.93 L368.75,917.88 L369,917.79 L369.25,917.67 L369.5,917.52 L369.75,917.36 L370,917.17 L370.25,917.24 L370.5,917.49 L370.75,917.72 L371,917.95 L371.25,918.18 L371.5,918.4 L371.75,918.59 L372,918.66 L372.25,918.72 L372.5,918.79 L372.75,918.85 L373,918.92 L373.25,918.98 L373.5,919.28 L373.75,919.63 L374,919.9 L374.25,919.9 L374.5,919.9 L374.75,919.9 L375,919.9 L375.25,919.9 L375.5,919.9 L375.75,919.38 L376,918.83 L376.25,918.27 L376.5,917.72 L376.75,918.02 L377,918.32 L377.25,918.62 L377.5,918.92 L377.75,919.22 L378,919.52 L378.25,919.58 L378.5,919.48 L378.75,919.37 L379,919.27 L379.25,919.16 L379.5,919.04 L379.75,918.89 L380,918.68 L380.25,918.45 L380.5,918.2 L380.75,917.93 L381,917.64 L381.25,917.32 L381.5,917.23 L381.75,917.16 L382,917.05 L382.25,916.88 L382.5,916.67 L382.75,916.39 L383,915.88 L383.25,915.04 L383.5,914.14 L383.75,913.16 L384,912.11 L384.25,910.98 L384.5,909.79 L384.75,908.92 L385,908.01 L385.25,907.04 L385.5,906.05 L385.75,905.05 L386,904.05 L386.25,903.02 L386.5,902 L386.75,901.05 L387,900.18 L387.25,899.41 L387.5,898.77 L387.75,898.24 L388,897.77 L388.25,897.45 L388.5,897.31 L388.75,897.33 L389,897.51 L389.25,897.86 L389.5,898.6 L389.75,899.54 L390,900.61 L390.25,901.77 L390.5,903.02 L390.75,904.34 L391,905.54 L391.25,906.55 L391.5,907.56 L391.75,908.55 L392,909.52 L392.25,910.44 L392.5,911.31 L392.75,912.32 L393,913.26 L393.25,914.13 L393.5,914.92 L393.75,915.64 L394,916.28 L394.25,916.67 L394.5,916.88 L394.75,917.03 L395,917.12 L395.25,917.17 L395.5,917.17 L395.75,917.16 L396,917.27 L396.25,917.35 L396.5,917.41 L396.75,917.44 L397,917.46 L397.25,917.47 L397.5,917.68 L397.75,917.94 L398,918.19 L398.25,918.43 L398.5,918.67 L398.75,918.91 L399,919 L399.25,918.88 L399.5,918.77 L399.75,918.65 L400,918.53 L400.25,918.4 L400.5,918.28 L400.75,918.47 L401,918.65 L401.25,918.84 L401.5,919.02 L401.75,919.21 L402,919.39 L402.25,919.46 L402.5,919.44 L402.75,919.43 L403,919.42 L403.25,919.41 L403.5,919.39 L403.75,919.41 L404,919.55 L404.25,919.68 L404.5,919.82 L404.75,919.9 L405,919.9 L405.25,919.9 L405.5,919.9 L405.75,919.5 L406,919.08 L406.25,918.67 L406.5,918.25 L406.75,917.84 L407,917.74 L407.25,918.12 L407.5,918.5 L407.75,918.89 L408,919.27 L408.25,919.65 L408.5,919.9 L408.75,919.79 L409,919.56 L409.25,919.32 L409.5,919.08 L409.75,918.85 L410,918.61 L410.25,918.59 L410.5,918.7 L410.75,918.82 L411,918.93 L411.25,919.05 L411.5,919.16 L411.75,919.19 L412,918.89 L412.25,918.58 L412.5,918.28 L412.75,917.97 L413,917.67 L413.25,917.36 L413.5,917.65 L413.75,918.08 L414,918.52 L414.25,918.95 L414.5,919.38 L414.75,919.82 L415,919.9 L415.25,919.88 L415.5,919.74 L415.75,919.61 L416,919.47 L416.25,919.33 L416.5,919.19 L416.75,919.33 L417,919.46 L417.25,919.6 L417.5,919.74 L417.75,919.88 L418,919.9 L418.25,919.85 L418.5,919.49 L418.75,919.13 L419,918.77 L419.25,918.41 L419.5,918.05 L419.75,917.83 L420,918.2 L420.25,918.57 L420.5,918.94 L420.75,919.31 L421,919.68 L421.25,919.9 L421.5,919.9 L421.75,919.9 L422,919.9 L422.25,919.9 L422.5,919.9 L422.75,919.9 L423,919.9 L423.25,919.9 L423.5,919.78 L423.75,919.67 L424,919.55 L424.25,919.43 L424.5,919.32 L424.75,919.47 L425,919.63 L425.25,919.78 L425.5,919.9 L425.75,919.9 L426,919.9 L426.25,919.9 L426.5,919.9 L426.75,919.77 L427,919.56 L427.25,919.35 L427.5,919.15 L427.75,918.96 L428,918.85 L428.25,918.75 L428.5,918.64 L428.75,918.54 L429,918.43 L429.25,918.32 L429.5,918.25 L429.75,918.19 L430,918.12 L430.25,918.06 L430.5,918 L430.75,917.93 L431,917.98 L431.25,918.2 L431.5,918.42 L431.75,918.64 L432,918.86 L432.25,919.08 L432.5,919.29 L432.75,919.13 L433,918.97 L433.25,918.81 L433.5,918.65 L433.75,918.48 L434,918.32 L434.25,918.35 L434.5,918.49 L434.75,918.64 L435,918.79 L435.25,918.94 L435.5,919.09 L435.75,919.21 L436,919.24 L436.25,919.28 L436.5,919.31 L436.75,919.34 L437,919.37 L437.25,919.41 L437.5,919.39 L437.75,919.36 L438,919.33 L438.25,919.3 L438.5,919.27 L438.75,919.24 L439,919.19 L439.25,919.13 L439.5,919.06 L439.75,919 L440,918.94 L440.25,918.87 L440.5,918.81 L440.75,918.72 L441,918.63 L441.25,918.54 L441.5,918.46 L441.75,918.37 L442,918.28 L442.25,918.34 L442.5,918.51 L442.75,918.67 L443,918.83 L443.25,919 L443.5,919.16 L443.75,919.23 L444,918.95 L444.25,918.66 L444.5,918.38 L444.75,918.1 L445,917.81 L445.25,917.53 L445.5,917.41 L445.75,917.34 L446,917.27 L446.25,917.2 L446.5,917.13 L446.75,917.06 L447,917.17 L447.25,917.56 L447.5,917.95 L447.75,918.34 L448,918.73 L448.25,919.12 L448.5,919.51 L448.75,919.22 L449,918.94 L449.25,918.65 L449.5,918.37 L449.75,918.08 L450,917.79 L450.25,917.8 L450.5,918.01 L450.75,918.22 L451,918.43 L451.25,918.64 L451.5,918.85 L451.75,918.96 L452,918.67 L452.25,918.39 L452.5,918.11 L452.75,917.83 L453,917.55 L453.25,917.26 L453.5,917.41 L453.75,917.65 L454,917.9 L454.25,918.15 L454.5,918.4 L454.75,918.65 L455,918.86 L455.25,919.04 L455.5,919.21 L455.75,919.38 L456,919.55 L456.25,919.72 L456.5,919.9 L456.75,919.59 L457,919.28 L457.25,918.97 L457.5,918.67 L457.75,918.36 L458,918.05 L458.25,918.05 L458.5,918.25 L458.75,918.45 L459,918.65 L459.25,918.85 L459.5,919.05 L459.75,919.23 L460,919.33 L460.25,919.42 L460.5,919.52 L460.75,919.62 L461,919.72 L461.25,919.82 L461.5,919.83 L461.75,919.81 L462,919.8 L462.25,919.78 L462.5,919.77 L462.75,919.76 L463,919.7 L463.25,919.58 L463.5,919.46 L463.75,919.35 L464,919.23 L464.25,919.11 L464.5,918.99 L464.75,919.12 L465,919.25 L465.25,919.38 L465.5,919.5 L465.75,919.63 L466,919.76 L466.25,919.78 L466.5,919.74 L466.75,919.7 L467,919.66 L467.25,919.62 L467.5,919.58 L467.75,919.48 L468,919.12 L468.25,918.77 L468.5,918.42 L468.75,918.07 L469,917.72 L469.25,917.36 L469.5,917.7 L469.75,918.21 L470,918.72 L470.25,919.23 L470.5,919.74 L470.75,919.9 L471,919.9 L471.25,919.9 L471.5,919.87 L471.75,919.58 L472,919.28 L472.25,918.99 L472.5,918.7 L472.75,918.75 L473,918.8 L473.25,918.84 L473.5,918.89 L473.75,918.93 L474,918.98 L474.25,918.98 L474.5,918.95 L474.75,918.92 L475,918.9 L475.25,918.87 L475.5,918.84 L475.75,918.83 L476,918.89 L476.25,918.95 L476.5,919.01 L476.75,919.07 L477,919.13 L477.25,919.19 L477.5,919.25 L477.75,919.3 L478,919.36 L478.25,919.41 L478.5,919.47 L478.75,919.52 L479,919.41 L479.25,919.06 L479.5,918.71 L479.75,918.37 L480,918.02 L480.25,917.67 L480.5,917.32 L480.75,917.62 L481,917.93 L481.25,918.24 L481.5,918.54 L481.75,918.85 L482,919.16 L482.25,919.28 L482.5,919.29 L482.75,919.3 L483,919.3 L483.25,919.31 L483.5,919.31 L483.75,919.28 L484,919.08 L484.25,918.88 L484.5,918.69 L484.75,918.49 L485,918.29 L485.25,918.1 L485.5,918.25 L485.75,918.5 L486,918.75 L486.25,918.99 L486.5,919.24 L486.75,919.48 L487,919.53 L487.25,919.28 L487.5,919.02 L487.75,918.77 L488,918.51 L488.25,918.26 L488.5,918 L488.75,918.11 L489,918.22 L489.25,918.34 L489.5,918.45 L489.75,918.56 L490,918.67 L490.25,918.71 L490.5,918.71 L490.75,918.72 L491,918.72 L491.25,918.72 L491.5,918.72 L491.75,918.7 L492,918.57 L492.25,918.44 L492.5,918.31 L492.75,918.18 L493,918.05 L493.25,917.92 L493.5,917.83 L493.75,917.76 L494,917.68 L494.25,917.6 L494.5,917.53 L494.75,917.45 L495,917.56 L495.25,917.94 L495.5,918.32 L495.75,918.71 L496,919.09 L496.25,919.47 L496.5,919.85 L496.75,919.82 L497,919.78 L497.25,919.74 L497.5,919.71 L497.75,919.67 L498,919.64 L498.25,919.5 L498.5,919.29 L498.75,919.08 L499,918.87 L499.25,918.67 L499.5,918.46 L499.75,918.33 L500,918.52 L500.25,918.71 L500.5,918.9 L500.75,919.09 L501,919.28 L501.25,919.47 L501.5,919.38 L501.75,919.22 L502,919.06 L502.25,918.9 L502.5,918.74 L502.75,918.58 L503,918.56 L503.25,918.73 L503.5,918.9 L503.75,919.08 L504,919.25 L504.25,919.42 L504.5,919.59 L504.75,919.38 L505,919.16 L505.25,918.94 L505.5,918.72 L505.75,918.51 L506,918.29 L506.25,918.14 L506.5,918.02 L506.75,917.91 L507,917.8 L507.25,917.69 L507.5,917.57 L507.75,917.53 L508,917.79 L508.25,918.04 L508.5,918.3 L508.75,918.55 L509,918.81 L509.25,919.06 L509.5,919.11 L509.75,919.11 L510,919.1 L510.25,919.1 L510.5,919.1 L510.75,919.09 L511,919.05 L511.25,918.94 L511.5,918.84 L511.75,918.73 L512,918.62 L512.25,918.52 L512.5,918.41 L512.75,918.59 L513,918.76 L513.25,918.93 L513.5,919.11 L513.75,919.28 L514,919.46 L514.25,919.49 L514.5,919.44 L514.75,919.39 L515,919.34 L515.25,919.29 L515.5,919.24 L515.75,919.15 L516,918.89 L516.25,918.64 L516.5,918.38 L516.75,918.13 L517,917.88 L517.25,917.62 L517.5,917.76 L517.75,917.99 L518,918.22 L518.25,918.45 L518.5,918.68 L518.75,918.91 L519,919.02 L519.25,918.95 L519.5,918.88 L519.75,918.8 L520,918.73 L520.25,918.66 L520.5,918.59 L520.75,918.62 L521,918.64 L521.25,918.67 L521.5,918.7 L521.75,918.72 L522,918.75 L522.25,918.78 L522.5,918.8 L522.75,918.83 L523,918.85 L523.25,918.88 L523.5,918.91 L523.75,918.91 L524,918.86 L524.25,918.8 L524.5,918.74 L524.75,918.69 L525,918.63 L525.25,918.57 L525.5,918.58 L525.75,918.6 L526,918.62 L526.25,918.64 L526.5,918.66 L526.75,918.68 L527,918.73 L527.25,918.84 L527.5,918.95 L527.75,919.05 L528,919.16 L528.25,919.27 L528.5,919.37 L528.75,919.19 L529,919.01 L529.25,918.83 L529.5,918.65 L529.75,918.47 L530,918.28 L530.25,918.17 L530.5,918.1 L530.75,918.04 L531,917.97 L531.25,917.9 L531.5,917.84 L531.75,917.82 L532,918 L532.25,918.18 L532.5,918.37 L532.75,918.55 L533,918.73 L533.25,918.91 L533.5,919.01 L533.75,919.08 L534,919.15 L534.25,919.22 L534.5,919.29 L534.75,919.36 L535,919.39 L535.25,919.34 L535.5,919.29 L535.75,919.24 L536,919.19 L536.25,919.14 L536.5,919.09 L536.75,918.89 L537,918.69 L537.25,918.5 L537.5,918.3 L537.75,918.1 L538,917.9 L538.25,917.93 L538.5,918.11 L538.75,918.29 L539,918.47 L539.25,918.65 L539.5,918.83 L539.75,918.95 L540,918.84 L540.25,918.74 L540.5,918.63 L540.75,918.52 L541,918.41 L541.25,918.3 L541.5,918.42 L541.75,918.6 L542,918.77 L542.25,918.95 L542.5,919.12 L542.75,919.3 L543,919.26 L543.25,918.9 L543.5,918.54 L543.75,918.18 L544,917.82 L544.25,917.46 L544.5,917.1 L544.75,917.43 L545,917.76 L545.25,918.09 L545.5,918.42 L545.75,918.76 L546,919.09 L546.25,919.06 L546.5,918.78 L546.75,918.51 L547,918.24 L547.25,917.97 L547.5,917.7 L547.75,917.52 L548,917.72 L548.25,917.92 L548.5,918.12 L548.75,918.32 L549,918.52 L549.25,918.72 L549.5,918.73 L549.75,918.69 L550,918.65 L550.25,918.61 L550.5,918.58 L550.75,918.54 L551,918.58 L551.25,918.74 L551.5,918.91 L551.75,919.07 L552,919.24 L552.25,919.4 L552.5,919.57 L552.75,919.32 L553,919.08 L553.25,918.83 L553.5,918.59 L553.75,918.34 L554,918.1 L554.25,918.22 L554.5,918.57 L554.75,918.93 L555,919.29 L555.25,919.65 L555.5,919.9 L555.75,919.9 L556,919.9 L556.25,919.72 L556.5,919.46 L556.75,919.21 L557,918.95 L557.25,918.69 L557.5,918.62 L557.75,918.59 L558,918.56 L558.25,918.53 L558.5,918.5 L558.75,918.48 L559,918.49 L559.25,918.55 L559.5,918.62 L559.75,918.69 L560,918.75 L560.25,918.82 L560.5,918.89 L560.75,919.07 L561,919.25 L561.25,919.43 L561.5,919.61 L561.75,919.79 L562,919.9 L562.25,919.9 L562.5,919.85 L562.75,919.73 L563,919.62 L563.25,919.5 L563.5,919.38 L563.75,919.3 L564,919.38 L564.25,919.46 L564.5,919.54 L564.75,919.62 L565,919.7 L565.25,919.78 L565.5,919.64 L565.75,919.43 L566,919.23 L566.25,919.03 L566.5,918.82 L566.75,918.62 L567,918.55 L567.25,918.69 L567.5,918.83 L567.75,918.96 L568,919.1 L568.25,919.24 L568.5,919.37 L568.75,919.4 L569,919.43 L569.25,919.46 L569.5,919.48 L569.75,919.51 L570,919.54 L570.25,919.44 L570.5,919.25 L570.75,919.06 L571,918.88 L571.25,918.69 L571.5,918.51 L571.75,918.31 L572,918.07 L572.25,917.83 L572.5,917.59 L572.75,917.35 L573,917.1 L573.25,916.86 L573.5,917.21 L573.75,917.71 L574,918.21 L574.25,918.7 L574.5,919.2 L574.75,919.69 L575,919.79 L575.25,919.3 L575.5,918.8 L575.75,918.31 L576,917.81 L576.25,917.32 L576.5,916.82 L576.75,917.19 L577,917.55 L577.25,917.91 L577.5,918.27 L577.75,918.64 L578,919 L578.25,918.99 L578.5,918.73 L578.75,918.48 L579,918.22 L579.25,917.96 L579.5,917.71 L579.75,917.57 L580,917.92 L580.25,918.28 L580.5,918.63 L580.75,918.98 L581,919.33 L581.25,919.69 L581.5,919.74 L581.75,919.72 L582,919.7 L582.25,919.68 L582.5,919.65 L582.75,919.63 L583,919.66 L583.25,919.77 L583.5,919.88 L583.75,919.9 L584,919.9 L584.25,919.9 L584.5,919.9 L584.75,919.9 L585,919.9 L585.25,919.9 L585.5,919.9 L585.75,919.89 L586,919.8 L586.25,919.65 L586.5,919.45 L586.75,919.25 L587,919.06 L587.25,918.86 L587.5,918.66 L587.75,918.49 L588,918.4 L588.25,918.31 L588.5,918.21 L588.75,918.12 L589,918.03 L589.25,917.94 L589.5,918.15 L589.75,918.43 L590,918.71 L590.25,919 L590.5,919.28 L590.75,919.56 L591,919.67 L591.25,919.53 L591.5,919.39 L591.75,919.25 L592,919.1 L592.25,918.96 L592.5,918.82 L592.75,918.72 L593,918.61 L593.25,918.51 L593.5,918.4 L593.75,918.3 L594,918.2 L594.25,918.13 L594.5,918.09 L594.75,918.04 L595,918 L595.25,917.96 L595.5,917.92 L595.75,917.93 L596,918.15 L596.25,918.37 L596.5,918.59 L596.75,918.81 L597,919.03 L597.25,919.25 L597.5,919.23 L597.75,919.14 L598,919.05 L598.25,918.96 L598.5,918.87 L598.75,918.78 L599,918.71 L599.25,918.66 L599.5,918.62 L599.75,918.58 L600,918.53 L600.25,918.49 L600.5,918.45 L600.75,918.66 L601,918.87 L601.25,919.09 L601.5,919.3 L601.75,919.52 L602,919.73 L602.25,919.84 L602.5,919.89 L602.75,919.9 L603,919.9 L603.25,919.9 L603.5,919.9 L603.75,919.9 L604,919.9 L604.25,919.71 L604.5,919.52 L604.75,919.34 L605,919.15 L605.25,918.96 L605.5,919.02 L605.75,919.14 L606,919.26 L606.25,919.38 L606.5,919.5 L606.75,919.62 L607,919.69 L607.25,919.68 L607.5,919.68 L607.75,919.68 L608,919.68 L608.25,919.68 L608.5,919.68 L608.75,919.38 L609,919.07 L609.25,918.77 L609.5,918.47 L609.75,918.17 L610,917.87 L610.25,917.89 L610.5,918.11 L610.75,918.33 L611,918.55 L611.25,918.78 L611.5,919 L611.75,919.15 L612,919.03 L612.25,918.92 L612.5,918.8 L612.75,918.68 L613,918.56 L613.25,918.44 L613.5,918.55 L613.75,918.72 L614,918.89 L614.25,919.06 L614.5,919.23 L614.75,919.39 L615,919.47 L615.25,919.42 L615.5,919.37 L615.75,919.32 L616,919.27 L616.25,919.22 L616.5,919.17 L616.75,919.03 L617,918.89 L617.25,918.76 L617.5,918.62 L617.75,918.48 L618,918.34 L618.25,918.43 L618.5,918.69 L618.75,918.94 L619,919.2 L619,922.1 Z" fill="#ffff00"/>
<rect x="404.9" y="776.2" width="211.1" height="46.3" fill="#e8e8e8"/>
<rect x="404.9" y="822.5" width="211.1" height="46" fill="#c8c8c8"/>
<rect x="404.9" y="868.5" width="211.1" height="45.7" fill="#e8e8e8"/>
<rect x="404.9" y="776.2" width="211.1" height="138" fill="none" stroke="#000" stroke-width="2.6"/>
<line x1="510.4" y1="776.2" x2="510.4" y2="914.2" stroke="#000" stroke-width="2.3"/>
<line x1="404.9" y1="822.5" x2="616" y2="822.5" stroke="#000" stroke-width="2.3"/>
<line x1="404.9" y1="868.5" x2="616" y2="868.5" stroke="#000" stroke-width="2.3"/>
<text x="457.65" y="807.15" font-size="21.3" font-weight="bold" text-anchor="middle">Element</text>
<text x="563.2" y="807.15" font-size="21" font-weight="bold" text-anchor="middle">Atomic %</text>
<text x="457.65" y="851.9" font-size="21.3" font-weight="bold" text-anchor="middle">O</text>
<text x="457.65" y="897.95" font-size="21.3" font-weight="bold" text-anchor="middle">Sn</text>
<text x="563.2" y="854" font-size="23.5" font-weight="bold" fill="#ff0000" text-anchor="middle">65.30</text>
<text x="563.2" y="899.85" font-size="23.5" font-weight="bold" fill="#ff0000" text-anchor="middle">34.70</text>
<text x="563" y="679.1" font-size="57.5" font-weight="bold" fill="#fff">b</text>
<path d="M2,976.5 L2,617 L619,617" fill="none" stroke="#0b1420" stroke-width="2"/>
<line x1="1.2" y1="975.5" x2="619" y2="975.5" stroke="#0b1420" stroke-width="2"/></g><circle cx="100.9" cy="658.1" r="26.3" fill="url(#gp)"/>
<circle cx="100.9" cy="658.1" r="26.3" fill="url(#gshade)"/>
<circle cx="100.9" cy="658.1" r="26.3" fill="url(#grimp)"/>
<text x="100.9" y="666.7" font-size="28.5" font-weight="bold" fill="#ffff00" text-anchor="middle">O</text>
<circle cx="85.2" cy="737.6" r="26.3" fill="url(#gg)"/>
<circle cx="85.2" cy="737.6" r="26.3" fill="url(#gshade)"/>
<circle cx="85.2" cy="737.6" r="26.3" fill="url(#grimg)"/>
<text x="85.2" y="746.2" font-size="28.5" font-weight="bold" fill="#000" text-anchor="middle">C</text>
<circle cx="197.9" cy="640.5" r="26.3" fill="url(#gp)"/>
<circle cx="197.9" cy="640.5" r="26.3" fill="url(#gshade)"/>
<circle cx="197.9" cy="640.5" r="26.3" fill="url(#grimp)"/>
<text x="197.9" y="649.1" font-size="28.5" font-weight="bold" fill="#ffff00" text-anchor="middle">Sn</text>
<polygon points="209.1,883 219,898.5 224.5,892.5 233.5,892 234.2,887" fill="#123a62" fill-opacity="0.55" stroke="#6a8cb0" stroke-width="0.9" stroke-opacity="0.8"/>
<circle cx="225.6" cy="864" r="26.3" fill="url(#gp)"/>
<circle cx="225.6" cy="864" r="26.3" fill="url(#gshade)"/>
<circle cx="225.6" cy="864" r="26.3" fill="url(#grimp)"/>
<text x="225.6" y="872.6" font-size="28.5" font-weight="bold" fill="#ffff00" text-anchor="middle">Sn</text>
<circle cx="358.9" cy="739.2" r="26.3" fill="url(#gg)"/>
<circle cx="358.9" cy="739.2" r="26.3" fill="url(#gshade)"/>
<circle cx="358.9" cy="739.2" r="26.3" fill="url(#grimg)"/>
<text x="358.9" y="747.8" font-size="28.5" font-weight="bold" fill="#000" text-anchor="middle">Cu</text>
<g clip-path="url(#cp_c)"><rect x="624" y="616" width="618" height="360.5" fill="url(#gbg)"/>
<line x1="675.8" y1="921.6" x2="688.4" y2="921.6" stroke="#c3cedc" stroke-width="3.2"/>
<line x1="682.3" y1="907.1" x2="688.4" y2="907.1" stroke="#c3cedc" stroke-width="3.2"/>
<line x1="682.3" y1="892.6" x2="688.4" y2="892.6" stroke="#c3cedc" stroke-width="3.2"/>
<line x1="682.3" y1="878.1" x2="688.4" y2="878.1" stroke="#c3cedc" stroke-width="3.2"/>
<line x1="682.3" y1="863.6" x2="688.4" y2="863.6" stroke="#c3cedc" stroke-width="3.2"/>
<line x1="682.3" y1="849.1" x2="688.4" y2="849.1" stroke="#c3cedc" stroke-width="3.2"/>
<line x1="682.3" y1="834.6" x2="688.4" y2="834.6" stroke="#c3cedc" stroke-width="3.2"/>
<line x1="682.3" y1="820.1" x2="688.4" y2="820.1" stroke="#c3cedc" stroke-width="3.2"/>
<line x1="682.3" y1="805.6" x2="688.4" y2="805.6" stroke="#c3cedc" stroke-width="3.2"/>
<line x1="682.3" y1="791.1" x2="688.4" y2="791.1" stroke="#c3cedc" stroke-width="3.2"/>
<line x1="675.8" y1="776.6" x2="688.4" y2="776.6" stroke="#c3cedc" stroke-width="3.2"/>
<line x1="682.3" y1="762.1" x2="688.4" y2="762.1" stroke="#c3cedc" stroke-width="3.2"/>
<line x1="682.3" y1="747.6" x2="688.4" y2="747.6" stroke="#c3cedc" stroke-width="3.2"/>
<line x1="682.3" y1="733.1" x2="688.4" y2="733.1" stroke="#c3cedc" stroke-width="3.2"/>
<line x1="682.3" y1="718.6" x2="688.4" y2="718.6" stroke="#c3cedc" stroke-width="3.2"/>
<line x1="682.3" y1="704.1" x2="688.4" y2="704.1" stroke="#c3cedc" stroke-width="3.2"/>
<line x1="682.3" y1="689.6" x2="688.4" y2="689.6" stroke="#c3cedc" stroke-width="3.2"/>
<line x1="682.3" y1="675.1" x2="688.4" y2="675.1" stroke="#c3cedc" stroke-width="3.2"/>
<line x1="682.3" y1="660.6" x2="688.4" y2="660.6" stroke="#c3cedc" stroke-width="3.2"/>
<line x1="682.3" y1="646.1" x2="688.4" y2="646.1" stroke="#c3cedc" stroke-width="3.2"/>
<line x1="675.8" y1="631.6" x2="688.4" y2="631.6" stroke="#c3cedc" stroke-width="3.2"/>
<text transform="translate(673,929.6) scale(0.72,1)" font-size="23" fill="#b4c2d4" text-anchor="end">0</text>
<text transform="translate(673,784.6) scale(0.72,1)" font-size="23" fill="#b4c2d4" text-anchor="end">2</text>
<text transform="translate(643.2,772) rotate(-90)" font-size="17" letter-spacing="1.6" fill="#8fa5bf" text-anchor="middle">cps/eV</text>
<line x1="698.2" y1="925.2" x2="698.2" y2="942.6" stroke="#c3cedc" stroke-width="3"/>
<line x1="715.8" y1="925.2" x2="715.8" y2="933.9" stroke="#c3cedc" stroke-width="3"/>
<line x1="733.4" y1="925.2" x2="733.4" y2="937.4" stroke="#c3cedc" stroke-width="3"/>
<line x1="751" y1="925.2" x2="751" y2="933.9" stroke="#c3cedc" stroke-width="3"/>
<line x1="768.6" y1="925.2" x2="768.6" y2="937.4" stroke="#c3cedc" stroke-width="3"/>
<line x1="786.2" y1="925.2" x2="786.2" y2="933.9" stroke="#c3cedc" stroke-width="3"/>
<line x1="803.8" y1="925.2" x2="803.8" y2="937.4" stroke="#c3cedc" stroke-width="3"/>
<line x1="821.4" y1="925.2" x2="821.4" y2="933.9" stroke="#c3cedc" stroke-width="3"/>
<line x1="839" y1="925.2" x2="839" y2="937.4" stroke="#c3cedc" stroke-width="3"/>
<line x1="856.6" y1="925.2" x2="856.6" y2="933.9" stroke="#c3cedc" stroke-width="3"/>
<line x1="874.2" y1="925.2" x2="874.2" y2="942.6" stroke="#c3cedc" stroke-width="3"/>
<line x1="891.8" y1="925.2" x2="891.8" y2="933.9" stroke="#c3cedc" stroke-width="3"/>
<line x1="909.4" y1="925.2" x2="909.4" y2="937.4" stroke="#c3cedc" stroke-width="3"/>
<line x1="927" y1="925.2" x2="927" y2="933.9" stroke="#c3cedc" stroke-width="3"/>
<line x1="944.6" y1="925.2" x2="944.6" y2="937.4" stroke="#c3cedc" stroke-width="3"/>
<line x1="962.2" y1="925.2" x2="962.2" y2="933.9" stroke="#c3cedc" stroke-width="3"/>
<line x1="979.8" y1="925.2" x2="979.8" y2="937.4" stroke="#c3cedc" stroke-width="3"/>
<line x1="997.4" y1="925.2" x2="997.4" y2="933.9" stroke="#c3cedc" stroke-width="3"/>
<line x1="1015" y1="925.2" x2="1015" y2="937.4" stroke="#c3cedc" stroke-width="3"/>
<line x1="1032.6" y1="925.2" x2="1032.6" y2="933.9" stroke="#c3cedc" stroke-width="3"/>
<line x1="1050.2" y1="925.2" x2="1050.2" y2="942.6" stroke="#c3cedc" stroke-width="3"/>
<line x1="1067.8" y1="925.2" x2="1067.8" y2="933.9" stroke="#c3cedc" stroke-width="3"/>
<line x1="1085.4" y1="925.2" x2="1085.4" y2="937.4" stroke="#c3cedc" stroke-width="3"/>
<line x1="1103" y1="925.2" x2="1103" y2="933.9" stroke="#c3cedc" stroke-width="3"/>
<line x1="1120.6" y1="925.2" x2="1120.6" y2="937.4" stroke="#c3cedc" stroke-width="3"/>
<line x1="1138.2" y1="925.2" x2="1138.2" y2="933.9" stroke="#c3cedc" stroke-width="3"/>
<line x1="1155.8" y1="925.2" x2="1155.8" y2="937.4" stroke="#c3cedc" stroke-width="3"/>
<line x1="1173.4" y1="925.2" x2="1173.4" y2="933.9" stroke="#c3cedc" stroke-width="3"/>
<line x1="1191" y1="925.2" x2="1191" y2="937.4" stroke="#c3cedc" stroke-width="3"/>
<line x1="1208.6" y1="925.2" x2="1208.6" y2="933.9" stroke="#c3cedc" stroke-width="3"/>
<line x1="1226.2" y1="925.2" x2="1226.2" y2="942.6" stroke="#c3cedc" stroke-width="3"/>
<text transform="translate(698.2,967.2) scale(0.72,1)" font-size="23" fill="#b4c2d4" text-anchor="middle">0</text>
<text transform="translate(874.2,967.2) scale(0.72,1)" font-size="23" fill="#b4c2d4" text-anchor="middle">5</text>
<text transform="translate(1050.2,967.2) scale(0.72,1)" font-size="23" fill="#b4c2d4" text-anchor="middle">10</text>
<text transform="translate(1226.2,967.2) scale(0.72,1)" font-size="23" fill="#b4c2d4" text-anchor="middle">15</text>
<path d="M695.3,922.2 L695.3,920 L695.55,919.1 L695.8,916.56 L696.05,913.81 L696.3,885.27 L696.55,795.06 L696.8,673.41 L697.05,617.5 L697.3,617.5 L697.55,617.5 L697.8,617.5 L698.05,617.5 L698.3,617.5 L698.55,617.5 L698.8,617.5 L699.05,617.5 L699.3,617.5 L699.55,617.5 L699.8,617.5 L700.05,694.93 L700.3,815.57 L700.55,892.79 L700.8,912.37 L701.05,913.39 L701.3,912.4 L701.55,909.56 L701.8,908.63 L702.05,908.19 L702.3,907.8 L702.55,907.47 L702.8,907.18 L703.05,906.93 L703.3,906.74 L703.55,905.62 L703.8,905.13 L704.05,904.63 L704.3,904.14 L704.55,903.64 L704.8,903.13 L705.05,902.68 L705.3,896.5 L705.55,875.53 L705.8,847.02 L706.05,825.75 L706.3,815.5 L706.55,811.97 L706.8,810.02 L707.05,808.88 L707.3,807.85 L707.55,806.82 L707.8,805.79 L708.05,804.95 L708.3,805.62 L708.55,809.98 L708.8,822.35 L709.05,845.87 L709.3,874.23 L709.55,892.05 L709.8,896.36 L710.05,896.76 L710.3,896.42 L710.55,895.49 L710.8,893.9 L711.05,891.65 L711.3,888.9 L711.55,884.17 L711.8,879.74 L712.05,876.13 L712.3,873.79 L712.55,872.96 L712.8,873.61 L713.05,876.46 L713.3,880.72 L713.55,885.01 L713.8,886.16 L714.05,873.06 L714.3,836.43 L714.55,787.11 L714.8,744.31 L715.05,717.89 L715.3,705.08 L715.55,699.96 L715.8,698.13 L716.05,697.33 L716.3,696.94 L716.55,696.61 L716.8,696.28 L717.05,696.01 L717.3,696.18 L717.55,698.12 L717.8,705.41 L718.05,723.6 L718.3,757.65 L718.55,806.87 L718.8,857.05 L719.05,888.54 L719.3,898.9 L719.55,900.09 L719.8,900.17 L720.05,900.2 L720.3,900.24 L720.55,900.28 L720.8,900.32 L721.05,900.24 L721.3,900.11 L721.55,899.99 L721.8,899.87 L722.05,899.76 L722.3,899.64 L722.55,899.7 L722.8,900.4 L723.05,901.09 L723.3,901.78 L723.55,902.47 L723.8,903.15 L724.05,903.83 L724.3,903.68 L724.55,903.33 L724.8,902.98 L725.05,902.53 L725.3,901.65 L725.55,900.77 L725.8,900.11 L726.05,899.81 L726.3,899.52 L726.55,899.22 L726.8,898.93 L727.05,898.64 L727.3,898.35 L727.55,898.15 L727.8,897.96 L728.05,897.74 L728.3,897.41 L728.55,897.09 L728.8,896.77 L729.05,896.19 L729.3,895.44 L729.55,894.69 L729.8,893.93 L730.05,893.16 L730.3,892.39 L730.55,891.81 L730.8,891.98 L731.05,892.16 L731.3,893 L731.55,894.78 L731.8,896.54 L732.05,898.28 L732.3,899.04 L732.55,899.6 L732.8,900.18 L733.05,900.67 L733.3,900.67 L733.55,900.69 L733.8,901.01 L734.05,901.77 L734.3,902.52 L734.55,903.26 L734.8,904 L735.05,904.73 L735.3,905.45 L735.55,905.62 L735.8,905.79 L736.05,905.89 L736.3,905.62 L736.55,905.35 L736.8,905.08 L737.05,905 L737.3,905.04 L737.55,905.07 L737.8,905.11 L738.05,905.15 L738.3,905.18 L738.55,905.25 L738.8,905.43 L739.05,905.61 L739.3,905.78 L739.55,905.96 L739.8,906.14 L740.05,906.3 L740.3,906.53 L740.55,906.78 L740.8,907.03 L741.05,907.29 L741.3,907.54 L741.55,907.79 L741.8,907.85 L742.05,907.62 L742.3,907.39 L742.55,907.16 L742.8,906.93 L743.05,906.69 L743.3,906.46 L743.55,907.36 L743.8,908.25 L744.05,909.15 L744.3,910.04 L744.55,910.94 L744.8,911.83 L745.05,911.65 L745.3,910.6 L745.55,909.55 L745.8,908.48 L746.05,907.39 L746.3,906.29 L746.55,905.37 L746.8,905.22 L747.05,905.06 L747.3,904.91 L747.55,904.75 L747.8,904.6 L748.05,904.85 L748.3,905.53 L748.55,906.25 L748.8,906.96 L749.05,907.66 L749.3,908.35 L749.55,909.03 L749.8,909.5 L750.05,909.57 L750.3,909.36 L750.55,909.15 L750.8,908.94 L751.05,908.73 L751.3,908.52 L751.55,908.75 L751.8,908.97 L752.05,909.2 L752.3,909.42 L752.55,909.65 L752.8,909.87 L753.05,910.12 L753.3,910.38 L753.55,910.63 L753.8,910.89 L754.05,911.15 L754.3,911.4 L754.55,911.65 L754.8,911.83 L755.05,912.02 L755.3,912.23 L755.55,912.44 L755.8,912.65 L756.05,912.85 L756.3,912.47 L756.55,911.95 L756.8,911.43 L757.05,910.92 L757.3,910.41 L757.55,909.91 L757.8,909.82 L758.05,910.34 L758.3,910.86 L758.55,911.37 L758.8,911.89 L759.05,912.39 L759.3,912.9 L759.55,912.85 L759.8,912.81 L760.05,912.77 L760.3,912.72 L760.55,912.68 L760.8,912.64 L761.05,912.64 L761.3,912.65 L761.55,912.67 L761.8,912.68 L762.05,912.7 L762.3,912.72 L762.55,912.68 L762.8,912.74 L763.05,912.8 L763.3,912.87 L763.55,912.93 L763.8,912.99 L764.05,913.05 L764.3,913.3 L764.55,913.6 L764.8,913.9 L765.05,914.2 L765.3,914.5 L765.55,914.8 L765.8,914.72 L766.05,914.06 L766.3,913.41 L766.55,912.75 L766.8,912.1 L767.05,911.45 L767.3,910.79 L767.55,911.02 L767.8,911.24 L768.05,911.46 L768.3,911.69 L768.55,911.91 L768.8,912.13 L769.05,912.23 L769.3,912.25 L769.55,912.26 L769.8,912.28 L770.05,912.29 L770.3,912.31 L770.55,912.37 L770.8,912.62 L771.05,912.87 L771.3,913.12 L771.55,913.37 L771.8,913.62 L772.05,913.88 L772.3,913.79 L772.55,913.62 L772.8,913.45 L773.05,913.28 L773.3,913.11 L773.55,912.94 L773.8,912.72 L774.05,912.42 L774.3,912.12 L774.55,911.82 L774.8,911.52 L775.05,911.22 L775.3,910.92 L775.55,911.36 L775.8,911.8 L776.05,912.24 L776.3,912.68 L776.55,913.12 L776.8,913.56 L777.05,913.69 L777.3,913.61 L777.55,913.53 L777.8,913.45 L778.05,913.36 L778.3,913.28 L778.55,913.27 L778.8,913.53 L779.05,913.8 L779.3,914.06 L779.55,914.33 L779.8,914.59 L780.05,914.85 L780.3,914.72 L780.55,914.49 L780.8,914.25 L781.05,914.02 L781.3,913.79 L781.55,913.55 L781.8,913.22 L782.05,912.74 L782.3,912.26 L782.55,911.79 L782.8,911.31 L783.05,910.83 L783.3,910.35 L783.55,910.76 L783.8,911.17 L784.05,911.58 L784.3,911.99 L784.55,912.4 L784.8,912.8 L785.05,912.99 L785.3,913.03 L785.55,913.07 L785.8,913.11 L786.05,913.15 L786.3,913.19 L786.55,913.28 L786.8,913.58 L787.05,913.87 L787.3,914.17 L787.55,914.47 L787.8,914.77 L788.05,915.07 L788.3,914.66 L788.55,914.07 L788.8,913.48 L789.05,912.89 L789.3,912.3 L789.55,911.71 L789.8,911.36 L790.05,911.38 L790.3,911.39 L790.55,911.41 L790.8,911.42 L791.05,911.44 L791.3,911.45 L791.55,911.56 L791.8,911.67 L792.05,911.78 L792.3,911.88 L792.55,911.99 L792.8,912.1 L793.05,912.18 L793.3,912.24 L793.55,912.3 L793.8,912.36 L794.05,912.41 L794.3,912.47 L794.55,912.53 L794.8,912.55 L795.05,912.58 L795.3,912.61 L795.55,912.64 L795.8,912.67 L796.05,912.7 L796.3,912.83 L796.55,912.99 L796.8,913.15 L797.05,913.31 L797.3,913.47 L797.55,913.63 L797.8,913.64 L798.05,913.42 L798.3,913.2 L798.55,912.98 L798.8,912.76 L799.05,912.54 L799.3,912.31 L799.55,912.1 L799.8,911.88 L800.05,911.64 L800.3,911.33 L800.55,911.02 L800.8,910.71 L801.05,910.51 L801.3,910.39 L801.55,910.25 L801.8,910.07 L802.05,909.85 L802.3,909.55 L802.55,909.21 L802.8,908.85 L803.05,908.41 L803.3,907.93 L803.55,907.33 L803.8,906.62 L804.05,905.82 L804.3,904.84 L804.55,903.82 L804.8,902.86 L805.05,902.03 L805.3,901.38 L805.55,900.96 L805.8,900.66 L806.05,900.41 L806.3,900.43 L806.55,900.68 L806.8,901.12 L807.05,901.67 L807.3,902.29 L807.55,903.7 L807.8,905.07 L808.05,906.34 L808.3,907.5 L808.55,908.53 L808.8,909.45 L809.05,910.41 L809.3,911.27 L809.55,912.06 L809.8,912.8 L810.05,913.5 L810.3,914.17 L810.55,914.46 L810.8,913.2 L811.05,911.93 L811.3,910.62 L811.55,909.3 L811.8,907.95 L812.05,906.59 L812.3,906.79 L812.55,907.39 L812.8,907.99 L813.05,908.64 L813.3,909.42 L813.55,910.18 L813.8,910.54 L814.05,910.15 L814.3,909.02 L814.55,906.27 L814.8,900.64 L815.05,890.67 L815.3,875.17 L815.55,853.51 L815.8,826.6 L816.05,796.19 L816.3,764.63 L816.55,734.44 L816.8,707.61 L817.05,685.4 L817.3,668.22 L817.55,655.84 L817.8,647.56 L818.05,642.48 L818.3,639.66 L818.55,638.4 L818.8,638.44 L819.05,638.76 L819.3,639.11 L819.55,639.46 L819.8,640 L820.05,641.11 L820.3,642.7 L820.55,646.07 L820.8,652.29 L821.05,662.26 L821.3,676.68 L821.55,695.86 L821.8,719.6 L822.05,746.85 L822.3,775.46 L822.55,802.98 L822.8,826.88 L823.05,845.19 L823.3,856.96 L823.55,862.58 L823.8,862.93 L824.05,859.49 L824.3,853.69 L824.55,846.51 L824.8,838.59 L825.05,830.36 L825.3,822.08 L825.55,813.91 L825.8,806.09 L826.05,798.82 L826.3,792.31 L826.55,786.69 L826.8,781.95 L827.05,778.48 L827.3,776.4 L827.55,775.76 L827.8,776.56 L828.05,778.77 L828.3,781.47 L828.55,785.15 L828.8,789.83 L829.05,795.32 L829.3,801.41 L829.55,807.86 L829.8,815.19 L830.05,823.58 L830.3,831.72 L830.55,839.44 L830.8,846.62 L831.05,853.15 L831.3,858.99 L831.55,863.11 L831.8,866.52 L832.05,869.24 L832.3,871.34 L832.55,872.88 L832.8,873.96 L833.05,874.84 L833.3,875.56 L833.55,876.1 L833.8,876.55 L834.05,876.98 L834.3,877.46 L834.55,877.92 L834.8,878.09 L835.05,878.42 L835.3,878.92 L835.55,879.6 L835.8,880.44 L836.05,881.42 L836.3,882.93 L836.55,884.64 L836.8,886.4 L837.05,888.18 L837.3,889.94 L837.55,891.67 L837.8,893.4 L838.05,895.2 L838.3,897.06 L838.55,898.8 L838.8,900.42 L839.05,901.91 L839.3,903.27 L839.55,904.2 L839.8,905.01 L840.05,905.72 L840.3,906.34 L840.55,906.76 L840.8,906.66 L841.05,906.88 L841.3,907.3 L841.55,907.7 L841.8,908.07 L842.05,908.36 L842.3,908.35 L842.55,908.16 L842.8,907.18 L843.05,906.18 L843.3,905.15 L843.55,904.1 L843.8,903.02 L844.05,901.94 L844.3,902.68 L844.55,903.87 L844.8,905.04 L845.05,906.19 L845.3,907.32 L845.55,908.43 L845.8,909.31 L846.05,909.85 L846.3,910.41 L846.55,910.98 L846.8,911.56 L847.05,911.35 L847.3,911.14 L847.55,910.75 L847.8,910.35 L848.05,909.95 L848.3,909.56 L848.55,909.16 L848.8,908.77 L849.05,908.79 L849.3,909.03 L849.55,909.27 L849.8,909.52 L850.05,909.77 L850.3,910.02 L850.55,910.37 L850.8,911.1 L851.05,911.83 L851.3,912.57 L851.55,913.32 L851.8,914.07 L852.05,914.93 L852.3,914.84 L852.55,914.45 L852.8,914.1 L853.05,913.8 L853.3,913.56 L853.55,913.38 L853.8,913.55 L854.05,914.14 L854.3,914.49 L854.55,914.84 L854.8,915.18 L855.05,915.53 L855.3,915.88 L855.55,916.28 L855.8,916.68 L856.05,917.01 L856.3,917.05 L856.55,917.1 L856.8,917.15 L857.05,917.14 L857.3,917.09 L857.55,917.03 L857.8,916.98 L858.05,916.93 L858.3,916.88 L858.55,916.85 L858.8,916.94 L859.05,917.04 L859.3,917.13 L859.55,917.22 L859.8,917.31 L860.05,917.41 L860.3,917.5 L860.55,917.59 L860.8,917.68 L861.05,917.77 L861.3,917.86 L861.55,917.95 L861.8,918.1 L862.05,918.32 L862.3,918.55 L862.55,918.78 L862.8,919.01 L863.05,919.24 L863.3,919.46 L863.55,918.76 L863.8,918.06 L864.05,917.36 L864.3,916.66 L864.55,915.96 L864.8,915.26 L865.05,915.23 L865.3,915.65 L865.55,916.07 L865.8,916.49 L866.05,916.91 L866.3,917.33 L866.55,917.67 L866.8,917.68 L867.05,917.68 L867.3,917.69 L867.55,917.7 L867.8,917.71 L868.05,917.72 L868.3,917.84 L868.55,917.98 L868.8,918.13 L869.05,918.27 L869.3,918.41 L869.55,918.56 L869.8,918.58 L870.05,918.43 L870.3,918.28 L870.55,918.13 L870.8,917.98 L871.05,917.83 L871.3,917.68 L871.55,917.47 L871.8,917.26 L872.05,917.06 L872.3,916.85 L872.55,916.64 L872.8,916.44 L873.05,916.4 L873.3,916.49 L873.55,916.57 L873.8,916.66 L874.05,916.74 L874.3,916.82 L874.55,916.96 L874.8,917.31 L875.05,917.65 L875.3,918 L875.55,918.35 L875.8,918.69 L876.05,919.04 L876.3,918.89 L876.55,918.62 L876.8,918.34 L877.05,918.07 L877.3,917.8 L877.55,917.53 L877.8,917.4 L878.05,917.5 L878.3,917.6 L878.55,917.69 L878.8,917.79 L879.05,917.88 L879.3,917.97 L879.55,917.87 L879.8,917.76 L880.05,917.64 L880.3,917.53 L880.55,917.41 L880.8,917.28 L881.05,917.34 L881.3,917.51 L881.55,917.68 L881.8,917.82 L882.05,917.95 L882.3,918.06 L882.55,918 L882.8,917.39 L883.05,916.75 L883.3,916.06 L883.55,915.33 L883.8,914.56 L884.05,913.73 L884.3,913.57 L884.55,913.54 L884.8,913.45 L885.05,913.32 L885.3,913.14 L885.55,912.92 L885.8,912.32 L886.05,911.17 L886.3,910.01 L886.55,908.87 L886.8,907.76 L887.05,906.69 L887.3,905.68 L887.55,905.47 L887.8,905.34 L888.05,905.32 L888.3,905.4 L888.55,905.61 L888.8,905.93 L889.05,906.34 L889.3,906.84 L889.55,907.44 L889.8,908.15 L890.05,908.93 L890.3,909.78 L890.55,910.6 L890.8,911.13 L891.05,911.67 L891.3,912.22 L891.55,912.76 L891.8,913.28 L892.05,913.76 L892.3,914.1 L892.55,914.37 L892.8,914.59 L893.05,914.76 L893.3,914.87 L893.55,914.93 L893.8,915.18 L894.05,915.75 L894.3,916.27 L894.55,916.76 L894.8,917.21 L895.05,917.64 L895.3,918.04 L895.55,918.04 L895.8,918.03 L896.05,918.01 L896.3,917.97 L896.55,917.92 L896.8,917.87 L897.05,917.79 L897.3,917.69 L897.55,917.59 L897.8,917.49 L898.05,917.38 L898.3,917.28 L898.55,917.22 L898.8,917.36 L899.05,917.5 L899.3,917.63 L899.55,917.77 L899.8,917.91 L900.05,918.04 L900.3,918.15 L900.55,918.26 L900.8,918.36 L901.05,918.47 L901.3,918.57 L901.55,918.68 L901.8,918.83 L902.05,919.05 L902.3,919.28 L902.55,919.5 L902.8,919.73 L903.05,919.95 L903.3,920 L903.55,919.94 L903.8,919.71 L904.05,919.48 L904.3,919.25 L904.55,919.02 L904.8,918.79 L905.05,918.69 L905.3,918.68 L905.55,918.68 L905.8,918.67 L906.05,918.66 L906.3,918.66 L906.55,918.59 L906.8,918.27 L907.05,917.95 L907.3,917.63 L907.55,917.32 L907.8,917 L908.05,916.68 L908.3,916.84 L908.55,917.12 L908.8,917.4 L909.05,917.68 L909.3,917.96 L909.55,918.24 L909.8,918.45 L910.05,918.55 L910.3,918.65 L910.55,918.75 L910.8,918.85 L911.05,918.95 L911.3,919.05 L911.55,919.22 L911.8,919.38 L912.05,919.54 L912.3,919.71 L912.55,919.87 L912.8,920 L913.05,919.81 L913.3,919.32 L913.55,918.84 L913.8,918.36 L914.05,917.88 L914.3,917.4 L914.55,917.07 L914.8,917.32 L915.05,917.58 L915.3,917.83 L915.55,918.09 L915.8,918.34 L916.05,918.59 L916.3,918.61 L916.55,918.57 L916.8,918.53 L917.05,918.49 L917.3,918.43 L917.55,918.37 L917.8,918.17 L918.05,917.77 L918.3,917.35 L918.55,916.92 L918.8,916.48 L919.05,916.01 L919.3,915.54 L919.55,915.6 L919.8,915.66 L920.05,915.69 L920.3,915.71 L920.55,915.71 L920.8,915.71 L921.05,915.56 L921.3,915.33 L921.55,915.1 L921.8,914.87 L922.05,914.66 L922.3,914.47 L922.55,914.32 L922.8,914.29 L923.05,914.29 L923.3,914.32 L923.55,914.4 L923.8,914.51 L924.05,914.67 L924.3,914.6 L924.55,914.51 L924.8,914.45 L925.05,914.42 L925.3,914.41 L925.55,914.43 L925.8,914.62 L926.05,915.07 L926.3,915.51 L926.55,915.96 L926.8,916.4 L927.05,916.83 L927.3,917.25 L927.55,917.18 L927.8,917.11 L928.05,917.01 L928.3,916.9 L928.55,916.77 L928.8,916.63 L929.05,916.59 L929.3,916.63 L929.55,916.65 L929.8,916.67 L930.05,916.67 L930.3,916.66 L930.55,916.75 L930.8,917.26 L931.05,917.75 L931.3,918.25 L931.55,918.74 L931.8,919.22 L932.05,919.71 L932.3,919.53 L932.55,919.19 L932.8,918.86 L933.05,918.52 L933.3,918.18 L933.55,917.84 L933.8,917.66 L934.05,917.71 L934.3,917.75 L934.55,917.8 L934.8,917.85 L935.05,917.9 L935.3,917.95 L935.55,918.05 L935.8,918.14 L936.05,918.24 L936.3,918.33 L936.55,918.43 L936.8,918.52 L937.05,918.63 L937.3,918.73 L937.55,918.84 L937.8,918.94 L938.05,919.05 L938.3,919.15 L938.55,919.19 L938.8,918.96 L939.05,918.74 L939.3,918.51 L939.55,918.28 L939.8,918.06 L940.05,917.83 L940.3,917.99 L940.55,918.24 L940.8,918.49 L941.05,918.74 L941.3,918.99 L941.55,919.24 L941.8,919.24 L942.05,918.87 L942.3,918.5 L942.55,918.12 L942.8,917.75 L943.05,917.38 L943.3,917.01 L943.55,917.26 L943.8,917.5 L944.05,917.74 L944.3,917.98 L944.55,918.22 L944.8,918.46 L945.05,918.62 L945.3,918.74 L945.55,918.85 L945.8,918.96 L946.05,919.07 L946.3,919.18 L946.55,919.25 L946.8,919.15 L947.05,919.05 L947.3,918.95 L947.55,918.85 L947.8,918.75 L948.05,918.65 L948.3,918.44 L948.55,918.2 L948.8,917.97 L949.05,917.73 L949.3,917.49 L949.55,917.26 L949.8,917.32 L950.05,917.85 L950.3,918.37 L950.55,918.89 L950.8,919.41 L951.05,919.93 L951.3,920 L951.55,919.99 L951.8,919.53 L952.05,919.06 L952.3,918.6 L952.55,918.14 L952.8,917.67 L953.05,917.66 L953.3,917.93 L953.55,918.21 L953.8,918.49 L954.05,918.77 L954.3,919.05 L954.55,919.26 L954.8,919.23 L955.05,919.19 L955.3,919.16 L955.55,919.12 L955.8,919.09 L956.05,919.06 L956.3,918.93 L956.55,918.78 L956.8,918.63 L957.05,918.49 L957.3,918.34 L957.55,918.19 L957.8,918.14 L958.05,918.25 L958.3,918.36 L958.55,918.47 L958.8,918.58 L959.05,918.69 L959.3,918.8 L959.55,919.01 L959.8,919.23 L960.05,919.44 L960.3,919.66 L960.55,919.87 L960.8,920 L961.05,920 L961.3,919.97 L961.55,919.84 L961.8,919.72 L962.05,919.59 L962.3,919.47 L962.55,919.36 L962.8,919.33 L963.05,919.3 L963.3,919.27 L963.55,919.24 L963.8,919.21 L964.05,919.18 L964.3,919.11 L964.55,919.03 L964.8,918.96 L965.05,918.88 L965.3,918.81 L965.55,918.73 L965.8,918.65 L966.05,918.58 L966.3,918.51 L966.55,918.44 L966.8,918.37 L967.05,918.3 L967.3,918.23 L967.55,918.44 L967.8,918.64 L968.05,918.85 L968.3,919.05 L968.55,919.26 L968.8,919.45 L969.05,919.58 L969.3,919.66 L969.55,919.72 L969.8,919.78 L970.05,919.82 L970.3,919.85 L970.55,919.79 L970.8,919.44 L971.05,919.06 L971.3,918.63 L971.55,918.14 L971.8,917.58 L972.05,916.94 L972.3,916.57 L972.55,916.15 L972.8,915.6 L973.05,914.87 L973.3,913.94 L973.55,912.77 L973.8,911.18 L974.05,909.05 L974.3,906.58 L974.55,903.73 L974.8,900.45 L975.05,896.72 L975.3,892.5 L975.55,887.71 L975.8,882.37 L976.05,876.47 L976.3,869.99 L976.55,862.95 L976.8,855.34 L977.05,847.18 L977.3,838.51 L977.55,829.41 L977.8,819.95 L978.05,810.23 L978.3,800.35 L978.55,790.5 L978.8,781.06 L979.05,771.85 L979.3,762.98 L979.55,754.61 L979.8,746.88 L980.05,739.93 L980.3,733.71 L980.55,728.48 L980.8,724.35 L981.05,721.41 L981.3,719.72 L981.55,719.3 L981.8,720.25 L982.05,722.59 L982.3,726.15 L982.55,730.87 L982.8,736.67 L983.05,743.44 L983.3,751.05 L983.55,759.64 L983.8,768.81 L984.05,778.42 L984.3,788.32 L984.55,798.39 L984.8,808.48 L985.05,817.93 L985.3,826.82 L985.55,835.41 L985.8,843.61 L986.05,851.35 L986.3,858.6 L986.55,865.44 L986.8,872.28 L987.05,878.54 L987.3,884.24 L987.55,889.37 L987.8,893.97 L988.05,898.06 L988.3,901.32 L988.55,904.06 L988.8,906.39 L989.05,908.36 L989.3,910 L989.55,911.35 L989.8,912.67 L990.05,914.12 L990.3,915.37 L990.55,916.46 L990.8,917.42 L991.05,918.26 L991.3,919.01 L991.55,919.16 L991.8,919.25 L992.05,919.28 L992.3,919.28 L992.55,919.24 L992.8,919.17 L993.05,919.25 L993.3,919.41 L993.55,919.57 L993.8,919.71 L994.05,919.84 L994.3,919.97 L994.55,920 L994.8,919.82 L995.05,919.6 L995.3,919.38 L995.55,919.16 L995.8,918.94 L996.05,918.72 L996.3,918.6 L996.55,918.51 L996.8,918.42 L997.05,918.33 L997.3,918.24 L997.55,918.15 L997.8,917.99 L998.05,917.73 L998.3,917.46 L998.55,917.2 L998.8,916.93 L999.05,916.66 L999.3,916.4 L999.55,916.83 L999.8,917.25 L1000.05,917.68 L1000.3,918.11 L1000.55,918.53 L1000.8,918.96 L1001.05,919.15 L1001.3,919.18 L1001.55,919.21 L1001.8,919.23 L1002.05,919.25 L1002.3,919.26 L1002.55,919.2 L1002.8,918.93 L1003.05,918.64 L1003.3,918.33 L1003.55,918 L1003.8,917.63 L1004.05,917.22 L1004.3,917.11 L1004.55,917.02 L1004.8,916.88 L1005.05,916.67 L1005.3,916.38 L1005.55,916.01 L1005.8,915.33 L1006.05,914.23 L1006.3,913.02 L1006.55,911.7 L1006.8,910.27 L1007.05,908.74 L1007.3,907.1 L1007.55,906.05 L1007.8,904.91 L1008.05,903.69 L1008.3,902.41 L1008.55,901.1 L1008.8,899.77 L1009.05,898.24 L1009.3,896.61 L1009.55,895.05 L1009.8,893.59 L1010.05,892.25 L1010.3,891.08 L1010.55,890.1 L1010.8,889.34 L1011.05,888.8 L1011.3,888.51 L1011.55,888.46 L1011.8,888.65 L1012.05,889.09 L1012.3,889.6 L1012.55,890.28 L1012.8,891.16 L1013.05,892.21 L1013.3,893.41 L1013.55,894.73 L1013.8,896.27 L1014.05,898.06 L1014.3,899.88 L1014.55,901.7 L1014.8,903.49 L1015.05,905.23 L1015.3,906.91 L1015.55,908.47 L1015.8,909.94 L1016.05,911.3 L1016.3,912.56 L1016.55,913.71 L1016.8,914.74 L1017.05,915.56 L1017.3,916.21 L1017.55,916.76 L1017.8,917.23 L1018.05,917.61 L1018.3,917.92 L1018.55,918.15 L1018.8,918.22 L1019.05,918.24 L1019.3,918.23 L1019.55,918.17 L1019.8,918.09 L1020.05,917.99 L1020.3,918.05 L1020.55,918.15 L1020.8,918.23 L1021.05,918.3 L1021.3,918.37 L1021.55,918.43 L1021.8,918.5 L1022.05,918.61 L1022.3,918.71 L1022.55,918.82 L1022.8,918.92 L1023.05,919.01 L1023.3,919.11 L1023.55,918.97 L1023.8,918.83 L1024.05,918.69 L1024.3,918.55 L1024.55,918.41 L1024.8,918.26 L1025.05,918.16 L1025.3,918.08 L1025.55,918.01 L1025.8,917.93 L1026.05,917.85 L1026.3,917.78 L1026.55,917.69 L1026.8,917.55 L1027.05,917.42 L1027.3,917.29 L1027.55,917.15 L1027.8,917.02 L1028.05,916.88 L1028.3,917.17 L1028.55,917.55 L1028.8,917.94 L1029.05,918.32 L1029.3,918.71 L1029.55,919.09 L1029.8,919.38 L1030.05,919.54 L1030.3,919.69 L1030.55,919.85 L1030.8,920 L1031.05,920 L1031.3,920 L1031.55,920 L1031.8,920 L1032.05,920 L1032.3,920 L1032.55,920 L1032.8,920 L1033.05,920 L1033.3,920 L1033.55,919.8 L1033.8,919.59 L1034.05,919.38 L1034.3,919.17 L1034.55,919.04 L1034.8,919.19 L1035.05,919.34 L1035.3,919.5 L1035.55,919.65 L1035.8,919.8 L1036.05,919.95 L1036.3,919.87 L1036.55,919.73 L1036.8,919.59 L1037.05,919.45 L1037.3,919.32 L1037.55,919.18 L1037.8,919.04 L1038.05,918.91 L1038.3,918.78 L1038.55,918.65 L1038.8,918.52 L1039.05,918.38 L1039.3,918.25 L1039.55,918.42 L1039.8,918.58 L1040.05,918.74 L1040.3,918.91 L1040.55,919.07 L1040.8,919.23 L1041.05,919.24 L1041.3,919.13 L1041.55,919.03 L1041.8,918.93 L1042.05,918.82 L1042.3,918.72 L1042.55,918.62 L1042.8,918.5 L1043.05,918.39 L1043.3,918.28 L1043.55,918.17 L1043.8,918.06 L1044.05,917.94 L1044.3,918.07 L1044.55,918.25 L1044.8,918.44 L1045.05,918.62 L1045.3,918.8 L1045.55,918.99 L1045.8,919.14 L1046.05,919.26 L1046.3,919.38 L1046.55,919.51 L1046.8,919.63 L1047.05,919.75 L1047.3,919.87 L1047.55,919.55 L1047.8,919.24 L1048.05,918.93 L1048.3,918.61 L1048.55,918.3 L1048.8,917.99 L1049.05,917.92 L1049.3,918.01 L1049.55,918.1 L1049.8,918.2 L1050.05,918.29 L1050.3,918.38 L1050.55,918.43 L1050.8,918.3 L1051.05,918.18 L1051.3,918.05 L1051.55,917.92 L1051.8,917.79 L1052.05,917.67 L1052.3,917.74 L1052.55,917.86 L1052.8,917.98 L1053.05,918.1 L1053.3,918.22 L1053.55,918.34 L1053.8,918.53 L1054.05,918.82 L1054.3,919.12 L1054.55,919.41 L1054.8,919.71 L1055.05,920 L1055.3,920 L1055.55,920 L1055.8,919.81 L1056.05,919.57 L1056.3,919.32 L1056.55,919.08 L1056.8,918.84 L1057.05,918.81 L1057.3,918.92 L1057.55,919.04 L1057.8,919.15 L1058.05,919.27 L1058.3,919.38 L1058.55,919.42 L1058.8,919.16 L1059.05,918.9 L1059.3,918.63 L1059.55,918.37 L1059.8,918.1 L1060.05,917.84 L1060.3,918.13 L1060.55,918.55 L1060.8,918.97 L1061.05,919.39 L1061.3,919.82 L1061.55,920 L1061.8,920 L1062.05,920 L1062.3,919.88 L1062.55,919.62 L1062.8,919.36 L1063.05,919.11 L1063.3,918.85 L1063.55,918.73 L1063.8,918.62 L1064.05,918.5 L1064.3,918.39 L1064.55,918.27 L1064.8,918.16 L1065.05,918.14 L1065.3,918.19 L1065.55,918.24 L1065.8,918.29 L1066.05,918.34 L1066.3,918.39 L1066.55,918.48 L1066.8,918.78 L1067.05,919.07 L1067.3,919.36 L1067.55,919.65 L1067.8,919.94 L1068.05,920 L1068.3,920 L1068.55,919.63 L1068.8,919.25 L1069.05,918.88 L1069.3,918.51 L1069.55,918.14 L1069.8,918.02 L1070.05,918.3 L1070.3,918.57 L1070.55,918.84 L1070.8,919.12 L1071.05,919.39 L1071.3,919.67 L1071.55,919.57 L1071.8,919.48 L1072.05,919.39 L1072.3,919.3 L1072.55,919.21 L1072.8,919.12 L1073.05,919.13 L1073.3,919.21 L1073.55,919.29 L1073.8,919.38 L1074.05,919.46 L1074.3,919.54 L1074.55,919.53 L1074.8,919.14 L1075.05,918.75 L1075.3,918.35 L1075.55,917.96 L1075.8,917.57 L1076.05,917.18 L1076.3,917.44 L1076.55,917.86 L1076.8,918.28 L1077.05,918.7 L1077.3,919.12 L1077.55,919.54 L1077.8,919.82 L1078.05,919.9 L1078.3,919.97 L1078.55,920 L1078.8,920 L1079.05,920 L1079.3,920 L1079.55,920 L1079.8,920 L1080.05,920 L1080.3,919.97 L1080.55,919.9 L1080.8,919.82 L1081.05,919.76 L1081.3,919.69 L1081.55,919.63 L1081.8,919.56 L1082.05,919.5 L1082.3,919.43 L1082.55,919.33 L1082.8,919.07 L1083.05,918.81 L1083.3,918.55 L1083.55,918.3 L1083.8,918.04 L1084.05,917.78 L1084.3,917.67 L1084.55,917.6 L1084.8,917.52 L1085.05,917.45 L1085.3,917.38 L1085.55,917.31 L1085.8,917.4 L1086.05,917.74 L1086.3,918.08 L1086.55,918.42 L1086.8,918.76 L1087.05,919.1 L1087.3,919.44 L1087.55,919.45 L1087.8,919.45 L1088.05,919.46 L1088.3,919.47 L1088.55,919.48 L1088.8,919.49 L1089.05,919.49 L1089.3,919.48 L1089.55,919.47 L1089.8,919.47 L1090.05,919.46 L1090.3,919.46 L1090.55,919.43 L1090.8,919.31 L1091.05,919.18 L1091.3,919.06 L1091.55,918.94 L1091.8,918.82 L1092.05,918.69 L1092.3,918.65 L1092.55,918.62 L1092.8,918.59 L1093.05,918.57 L1093.3,918.54 L1093.55,918.51 L1093.8,918.53 L1094.05,918.61 L1094.3,918.69 L1094.55,918.77 L1094.8,918.85 L1095.05,918.93 L1095.3,919.01 L1095.55,918.86 L1095.8,918.71 L1096.05,918.56 L1096.3,918.42 L1096.55,918.27 L1096.8,918.12 L1097.05,918.24 L1097.3,918.54 L1097.55,918.84 L1097.8,919.13 L1098.05,919.43 L1098.3,919.73 L1098.55,919.92 L1098.8,919.7 L1099.05,919.48 L1099.3,919.26 L1099.55,919.04 L1099.8,918.82 L1100.05,918.6 L1100.3,918.56 L1100.55,918.56 L1100.8,918.56 L1101.05,918.55 L1101.3,918.55 L1101.55,918.55 L1101.8,918.65 L1102.05,918.9 L1102.3,919.14 L1102.55,919.39 L1102.8,919.63 L1103.05,919.88 L1103.3,920 L1103.55,919.98 L1103.8,919.84 L1104.05,919.69 L1104.3,919.55 L1104.55,919.41 L1104.8,919.27 L1105.05,919.06 L1105.3,918.81 L1105.55,918.57 L1105.8,918.32 L1106.05,918.07 L1106.3,917.82 L1106.55,917.63 L1106.8,917.66 L1107.05,917.69 L1107.3,917.72 L1107.55,917.75 L1107.8,917.78 L1108.05,917.81 L1108.3,917.8 L1108.55,917.78 L1108.8,917.76 L1109.05,917.74 L1109.3,917.72 L1109.55,917.7 L1109.8,917.77 L1110.05,917.99 L1110.3,918.2 L1110.55,918.42 L1110.8,918.64 L1111.05,918.86 L1111.3,919.07 L1111.55,918.88 L1111.8,918.7 L1112.05,918.51 L1112.3,918.32 L1112.55,918.13 L1112.8,917.94 L1113.05,918.02 L1113.3,918.28 L1113.55,918.54 L1113.8,918.79 L1114.05,919.05 L1114.3,919.31 L1114.55,919.5 L1114.8,919.42 L1115.05,919.35 L1115.3,919.27 L1115.55,919.19 L1115.8,919.11 L1116.05,919.04 L1116.3,918.8 L1116.55,918.52 L1116.8,918.25 L1117.05,917.97 L1117.3,917.69 L1117.55,917.41 L1117.8,917.31 L1118.05,917.46 L1118.3,917.61 L1118.55,917.76 L1118.8,917.91 L1119.05,918.07 L1119.3,918.22 L1119.55,918.36 L1119.8,918.5 L1120.05,918.64 L1120.3,918.78 L1120.55,918.92 L1120.8,919.07 L1121.05,919.03 L1121.3,918.87 L1121.55,918.72 L1121.8,918.56 L1122.05,918.41 L1122.3,918.25 L1122.55,918.22 L1122.8,918.64 L1123.05,919.06 L1123.3,919.48 L1123.55,919.9 L1123.8,920 L1124.05,920 L1124.3,920 L1124.55,920 L1124.8,920 L1125.05,920 L1125.3,919.93 L1125.55,919.74 L1125.8,919.65 L1126.05,919.73 L1126.3,919.8 L1126.55,919.88 L1126.8,919.95 L1127.05,920 L1127.3,920 L1127.55,919.82 L1127.8,919.53 L1128.05,919.24 L1128.3,918.95 L1128.55,918.67 L1128.8,918.38 L1129.05,918.35 L1129.3,918.48 L1129.55,918.62 L1129.8,918.75 L1130.05,918.89 L1130.3,919.03 L1130.55,919.15 L1130.8,919.24 L1131.05,919.33 L1131.3,919.42 L1131.55,919.51 L1131.8,919.6 L1132.05,919.69 L1132.3,919.48 L1132.55,919.2 L1132.8,918.92 L1133.05,918.64 L1133.3,918.36 L1133.55,918.08 L1133.8,918.02 L1134.05,918.28 L1134.3,918.55 L1134.55,918.81 L1134.8,919.07 L1135.05,919.34 L1135.3,919.6 L1135.55,919.55 L1135.8,919.51 L1136.05,919.46 L1136.3,919.42 L1136.55,919.37 L1136.8,919.33 L1137.05,919.32 L1137.3,919.34 L1137.55,919.35 L1137.8,919.37 L1138.05,919.38 L1138.3,919.4 L1138.55,919.35 L1138.8,919.05 L1139.05,918.75 L1139.3,918.44 L1139.55,918.14 L1139.8,917.84 L1140.05,917.54 L1140.3,917.65 L1140.55,917.85 L1140.8,918.06 L1141.05,918.26 L1141.3,918.47 L1141.55,918.67 L1141.8,918.74 L1142.05,918.59 L1142.3,918.44 L1142.55,918.29 L1142.8,918.15 L1143.05,918 L1143.3,917.85 L1143.55,917.93 L1143.8,918 L1144.05,918.07 L1144.3,918.15 L1144.55,918.22 L1144.8,918.29 L1145.05,918.37 L1145.3,918.44 L1145.55,918.51 L1145.8,918.58 L1146.05,918.65 L1146.3,918.72 L1146.55,918.82 L1146.8,919.08 L1147.05,919.34 L1147.3,919.61 L1147.55,919.87 L1147.8,920 L1148.05,920 L1148.3,920 L1148.55,919.95 L1148.8,919.68 L1149.05,919.41 L1149.3,919.14 L1149.55,918.87 L1149.8,918.72 L1150.05,918.77 L1150.3,918.82 L1150.55,918.87 L1150.8,918.92 L1151.05,918.97 L1151.3,919.02 L1151.55,919.15 L1151.8,919.28 L1152.05,919.41 L1152.3,919.54 L1152.55,919.67 L1152.8,919.8 L1153.05,919.76 L1153.3,919.61 L1153.55,919.45 L1153.8,919.3 L1154.05,919.15 L1154.3,918.99 L1154.55,918.86 L1154.8,918.83 L1155.05,918.79 L1155.3,918.75 L1155.55,918.72 L1155.8,918.68 L1156.05,918.64 L1156.3,918.8 L1156.55,919.01 L1156.8,919.22 L1157.05,919.42 L1157.3,919.63 L1157.55,919.84 L1157.8,919.79 L1158.05,919.34 L1158.3,918.9 L1158.55,918.45 L1158.8,918.01 L1159.05,917.56 L1159.3,917.12 L1159.55,917.32 L1159.8,917.53 L1160.05,917.73 L1160.3,917.93 L1160.55,918.14 L1160.8,918.34 L1161.05,918.53 L1161.3,918.71 L1161.55,918.89 L1161.8,919.07 L1162.05,919.25 L1162.3,919.43 L1162.55,919.59 L1162.8,919.65 L1163.05,919.71 L1163.3,919.78 L1163.55,919.84 L1163.8,919.91 L1164.05,919.97 L1164.3,919.81 L1164.55,919.59 L1164.8,919.36 L1165.05,919.14 L1165.3,918.92 L1165.55,918.7 L1165.8,918.58 L1166.05,918.61 L1166.3,918.63 L1166.55,918.66 L1166.8,918.69 L1167.05,918.71 L1167.3,918.74 L1167.55,918.62 L1167.8,918.49 L1168.05,918.37 L1168.3,918.25 L1168.55,918.12 L1168.8,918 L1169.05,917.98 L1169.3,918.02 L1169.55,918.07 L1169.8,918.11 L1170.05,918.15 L1170.3,918.2 L1170.55,918.3 L1170.8,918.64 L1171.05,918.98 L1171.3,919.33 L1171.55,919.67 L1171.8,920 L1172.05,920 L1172.3,920 L1172.55,919.78 L1172.8,919.43 L1173.05,919.08 L1173.3,918.72 L1173.55,918.37 L1173.8,918.25 L1174.05,918.47 L1174.3,918.69 L1174.55,918.92 L1174.8,919.14 L1175.05,919.36 L1175.3,919.58 L1175.55,919.4 L1175.8,919.22 L1176.05,919.04 L1176.3,918.86 L1176.55,918.68 L1176.8,918.5 L1177.05,918.4 L1177.3,918.37 L1177.55,918.34 L1177.8,918.31 L1178.05,918.28 L1178.3,918.25 L1178.55,918.17 L1178.8,917.9 L1179.05,917.63 L1179.3,917.36 L1179.55,917.09 L1179.8,916.82 L1180.05,916.55 L1180.3,916.94 L1180.55,917.49 L1180.8,918.05 L1181.05,918.6 L1181.3,919.16 L1181.55,919.71 L1181.8,919.96 L1182.05,919.74 L1182.3,919.52 L1182.55,919.31 L1182.8,919.09 L1183.05,918.88 L1183.3,918.66 L1183.55,918.82 L1183.8,918.98 L1184.05,919.14 L1184.3,919.29 L1184.55,919.45 L1184.8,919.61 L1185.05,919.65 L1185.3,919.61 L1185.55,919.56 L1185.8,919.52 L1186.05,919.48 L1186.3,919.44 L1186.55,919.43 L1186.8,919.56 L1187.05,919.7 L1187.3,919.83 L1187.55,919.96 L1187.8,920 L1188.05,920 L1188.3,920 L1188.55,919.84 L1188.8,919.61 L1189.05,919.38 L1189.3,919.16 L1189.55,918.93 L1189.8,918.89 L1190.05,919.14 L1190.3,919.4 L1190.55,919.65 L1190.8,919.9 L1191.05,920 L1191.3,920 L1191.55,920 L1191.8,920 L1192.05,920 L1192.3,920 L1192.55,920 L1192.8,920 L1193.05,919.84 L1193.3,919.48 L1193.55,919.12 L1193.8,918.77 L1194.05,918.41 L1194.3,918.05 L1194.55,917.84 L1194.8,918.2 L1195.05,918.56 L1195.3,918.91 L1195.55,919.27 L1195.8,919.63 L1196.05,919.98 L1196.3,920 L1196.55,919.94 L1196.8,919.88 L1197.05,919.81 L1197.3,919.75 L1197.55,919.68 L1197.8,919.67 L1198.05,919.74 L1198.3,919.81 L1198.55,919.88 L1198.8,919.95 L1199.05,920 L1199.3,920 L1199.55,920 L1199.8,920 L1200.05,920 L1200.3,920 L1200.55,920 L1200.8,920 L1201.05,920 L1201.3,920 L1201.55,919.69 L1201.8,919.37 L1202.05,919.06 L1202.3,918.75 L1202.55,918.52 L1202.8,918.62 L1203.05,918.71 L1203.3,918.81 L1203.55,918.91 L1203.8,919.01 L1204.05,919.11 L1204.3,919.07 L1204.55,919.01 L1204.8,918.94 L1205.05,918.88 L1205.3,918.81 L1205.55,918.75 L1205.8,918.71 L1206.05,918.71 L1206.3,918.71 L1206.55,918.71 L1206.8,918.71 L1207.05,918.71 L1207.3,918.7 L1207.55,919.03 L1207.8,919.36 L1208.05,919.69 L1208.3,920 L1208.55,920 L1208.8,920 L1209.05,920 L1209.3,920 L1209.55,920 L1209.8,920 L1210.05,920 L1210.3,920 L1210.55,920 L1210.8,920 L1211.05,920 L1211.3,920 L1211.55,920 L1211.8,920 L1212.05,920 L1212.3,920 L1212.55,920 L1212.8,919.97 L1213.05,919.89 L1213.3,919.8 L1213.55,919.71 L1213.8,919.64 L1214.05,919.58 L1214.3,919.53 L1214.55,919.48 L1214.8,919.42 L1215.05,919.37 L1215.3,919.32 L1215.55,919.44 L1215.8,919.56 L1216.05,919.68 L1216.3,919.8 L1216.55,919.92 L1216.8,920 L1217.05,919.96 L1217.3,919.74 L1217.55,919.52 L1217.8,919.31 L1218.05,919.09 L1218.3,918.87 L1218.55,918.72 L1218.8,918.85 L1219.05,918.98 L1219.3,919.12 L1219.55,919.25 L1219.8,919.38 L1220.05,919.51 L1220.3,919.51 L1220.55,919.48 L1220.8,919.44 L1221.05,919.41 L1221.3,919.38 L1221.55,919.34 L1221.8,919.39 L1222.05,919.56 L1222.3,919.73 L1222.55,919.9 L1222.8,920 L1223.05,920 L1223.3,920 L1223.55,920 L1223.8,920 L1224.05,920 L1224.3,920 L1224.55,920 L1224.8,920 L1225.05,920 L1225.3,920 L1225.55,919.87 L1225.8,919.73 L1226.05,919.59 L1226.3,919.44 L1226.55,919.35 L1226.8,919.46 L1227.05,919.58 L1227.3,919.69 L1227.55,919.8 L1227.8,919.92 L1228.05,920 L1228.3,919.96 L1228.55,919.83 L1228.8,919.71 L1229.05,919.59 L1229.3,919.46 L1229.55,919.34 L1229.8,919.14 L1230.05,918.84 L1230.3,918.54 L1230.55,918.24 L1230.8,917.94 L1231.05,917.64 L1231.3,917.34 L1231.55,917.72 L1231.8,918.11 L1232.05,918.49 L1232.3,918.87 L1232.55,919.26 L1232.8,919.64 L1233.05,919.64 L1233.3,919.38 L1233.55,919.12 L1233.8,918.86 L1234.05,918.61 L1234.3,918.35 L1234.55,918.2 L1234.8,918.48 L1235.05,918.76 L1235.3,919.04 L1235.55,919.32 L1235.8,919.6 L1236.05,919.88 L1236.3,919.82 L1236.55,919.68 L1236.8,919.54 L1237.05,919.4 L1237.3,919.26 L1237.55,919.12 L1237.8,918.94 L1238.05,918.71 L1238.3,918.48 L1238.55,918.25 L1238.8,918.02 L1239.05,917.79 L1239.3,917.56 L1239.55,917.84 L1239.8,918.12 L1240.05,918.4 L1240.3,918.68 L1240.55,918.96 L1240.8,919.24 L1241.05,919.23 L1241.3,919.02 L1241.55,918.81 L1241.8,918.6 L1242,922.2 Z" fill="#ffff00"/>
<rect x="1027.5" y="777.9" width="211.7" height="46.9" fill="#e8e8e8"/>
<rect x="1027.5" y="824.8" width="211.7" height="45.7" fill="#c8c8c8"/>
<rect x="1027.5" y="870.5" width="211.7" height="46.4" fill="#e8e8e8"/>
<rect x="1027.5" y="777.9" width="211.7" height="139" fill="none" stroke="#000" stroke-width="2.6"/>
<line x1="1133.2" y1="777.9" x2="1133.2" y2="916.9" stroke="#000" stroke-width="2.3"/>
<line x1="1027.5" y1="824.8" x2="1239.2" y2="824.8" stroke="#000" stroke-width="2.3"/>
<line x1="1027.5" y1="870.5" x2="1239.2" y2="870.5" stroke="#000" stroke-width="2.3"/>
<text x="1080.35" y="809.15" font-size="21.3" font-weight="bold" text-anchor="middle">Element</text>
<text x="1186.2" y="809.15" font-size="21" font-weight="bold" text-anchor="middle">Atomic %</text>
<text x="1080.35" y="854.05" font-size="21.3" font-weight="bold" text-anchor="middle">O</text>
<text x="1080.35" y="900.3" font-size="21.3" font-weight="bold" text-anchor="middle">Sn</text>
<text x="1186.2" y="856.15" font-size="23.5" font-weight="bold" fill="#ff0000" text-anchor="middle">61.10</text>
<text x="1186.2" y="902.2" font-size="23.5" font-weight="bold" fill="#ff0000" text-anchor="middle">38.90</text>
<text x="1185.8" y="679.1" font-size="57.5" font-weight="bold" fill="#fff">c</text>
<path d="M624.8,976.5 L624.8,617 L1242,617" fill="none" stroke="#0b1420" stroke-width="2"/>
<line x1="624" y1="975.5" x2="1242" y2="975.5" stroke="#0b1420" stroke-width="2"/></g><circle cx="717" cy="700" r="26.3" fill="url(#gp)"/>
<circle cx="717" cy="700" r="26.3" fill="url(#gshade)"/>
<circle cx="717" cy="700" r="26.3" fill="url(#grimp)"/>
<text x="717" y="708.6" font-size="28.5" font-weight="bold" fill="#ffff00" text-anchor="middle">O</text>
<circle cx="705" cy="774" r="26.3" fill="url(#gg)"/>
<circle cx="705" cy="774" r="26.3" fill="url(#gshade)"/>
<circle cx="705" cy="774" r="26.3" fill="url(#grimg)"/>
<text x="705" y="782.6" font-size="28.5" font-weight="bold" fill="#000" text-anchor="middle">C</text>
<circle cx="819.5" cy="640" r="26.3" fill="url(#gp)"/>
<circle cx="819.5" cy="640" r="26.3" fill="url(#gshade)"/>
<circle cx="819.5" cy="640" r="26.3" fill="url(#grimp)"/>
<text x="819.5" y="648.6" font-size="28.5" font-weight="bold" fill="#ffff00" text-anchor="middle">Sn</text>
<polygon points="829.5,885.5 839.4,901 844.9,895 853.9,894.5 854.6,889.5" fill="#123a62" fill-opacity="0.55" stroke="#6a8cb0" stroke-width="0.9" stroke-opacity="0.8"/>
<circle cx="846" cy="866.5" r="26.3" fill="url(#gp)"/>
<circle cx="846" cy="866.5" r="26.3" fill="url(#gshade)"/>
<circle cx="846" cy="866.5" r="26.3" fill="url(#grimp)"/>
<text x="846" y="875.1" font-size="28.5" font-weight="bold" fill="#ffff00" text-anchor="middle">Sn</text>
<circle cx="982" cy="689" r="26.3" fill="url(#gg)"/>
<circle cx="982" cy="689" r="26.3" fill="url(#gshade)"/>
<circle cx="982" cy="689" r="26.3" fill="url(#grimg)"/>
<text x="982" y="697.6" font-size="28.5" font-weight="bold" fill="#000" text-anchor="middle">Cu</text>
<g clip-path="url(#cp_d)"><rect x="1.2" y="981" width="617.8" height="361" fill="url(#gbg)"/>
<line x1="53" y1="1286.4" x2="65.6" y2="1286.4" stroke="#c3cedc" stroke-width="3.2"/>
<line x1="59.5" y1="1254.6" x2="65.6" y2="1254.6" stroke="#c3cedc" stroke-width="3.2"/>
<line x1="59.5" y1="1222.8" x2="65.6" y2="1222.8" stroke="#c3cedc" stroke-width="3.2"/>
<line x1="59.5" y1="1191" x2="65.6" y2="1191" stroke="#c3cedc" stroke-width="3.2"/>
<line x1="59.5" y1="1159.2" x2="65.6" y2="1159.2" stroke="#c3cedc" stroke-width="3.2"/>
<line x1="53" y1="1127.4" x2="65.6" y2="1127.4" stroke="#c3cedc" stroke-width="3.2"/>
<line x1="59.5" y1="1095.6" x2="65.6" y2="1095.6" stroke="#c3cedc" stroke-width="3.2"/>
<line x1="59.5" y1="1063.8" x2="65.6" y2="1063.8" stroke="#c3cedc" stroke-width="3.2"/>
<line x1="59.5" y1="1032" x2="65.6" y2="1032" stroke="#c3cedc" stroke-width="3.2"/>
<line x1="59.5" y1="1000.2" x2="65.6" y2="1000.2" stroke="#c3cedc" stroke-width="3.2"/>
<text transform="translate(50.2,1294.4) scale(0.72,1)" font-size="23" fill="#b4c2d4" text-anchor="end">0</text>
<text transform="translate(50.2,1135.4) scale(0.72,1)" font-size="23" fill="#b4c2d4" text-anchor="end">5</text>
<text transform="translate(20.4,1137) rotate(-90)" font-size="17" letter-spacing="1.6" fill="#8fa5bf" text-anchor="middle">cps/eV</text>
<line x1="75.4" y1="1290" x2="75.4" y2="1307.4" stroke="#c3cedc" stroke-width="3"/>
<line x1="93" y1="1290" x2="93" y2="1298.7" stroke="#c3cedc" stroke-width="3"/>
<line x1="110.6" y1="1290" x2="110.6" y2="1302.2" stroke="#c3cedc" stroke-width="3"/>
<line x1="128.2" y1="1290" x2="128.2" y2="1298.7" stroke="#c3cedc" stroke-width="3"/>
<line x1="145.8" y1="1290" x2="145.8" y2="1302.2" stroke="#c3cedc" stroke-width="3"/>
<line x1="163.4" y1="1290" x2="163.4" y2="1298.7" stroke="#c3cedc" stroke-width="3"/>
<line x1="181" y1="1290" x2="181" y2="1302.2" stroke="#c3cedc" stroke-width="3"/>
<line x1="198.6" y1="1290" x2="198.6" y2="1298.7" stroke="#c3cedc" stroke-width="3"/>
<line x1="216.2" y1="1290" x2="216.2" y2="1302.2" stroke="#c3cedc" stroke-width="3"/>
<line x1="233.8" y1="1290" x2="233.8" y2="1298.7" stroke="#c3cedc" stroke-width="3"/>
<line x1="251.4" y1="1290" x2="251.4" y2="1307.4" stroke="#c3cedc" stroke-width="3"/>
<line x1="269" y1="1290" x2="269" y2="1298.7" stroke="#c3cedc" stroke-width="3"/>
<line x1="286.6" y1="1290" x2="286.6" y2="1302.2" stroke="#c3cedc" stroke-width="3"/>
<line x1="304.2" y1="1290" x2="304.2" y2="1298.7" stroke="#c3cedc" stroke-width="3"/>
<line x1="321.8" y1="1290" x2="321.8" y2="1302.2" stroke="#c3cedc" stroke-width="3"/>
<line x1="339.4" y1="1290" x2="339.4" y2="1298.7" stroke="#c3cedc" stroke-width="3"/>
<line x1="357" y1="1290" x2="357" y2="1302.2" stroke="#c3cedc" stroke-width="3"/>
<line x1="374.6" y1="1290" x2="374.6" y2="1298.7" stroke="#c3cedc" stroke-width="3"/>
<line x1="392.2" y1="1290" x2="392.2" y2="1302.2" stroke="#c3cedc" stroke-width="3"/>
<line x1="409.8" y1="1290" x2="409.8" y2="1298.7" stroke="#c3cedc" stroke-width="3"/>
<line x1="427.4" y1="1290" x2="427.4" y2="1307.4" stroke="#c3cedc" stroke-width="3"/>
<line x1="445" y1="1290" x2="445" y2="1298.7" stroke="#c3cedc" stroke-width="3"/>
<line x1="462.6" y1="1290" x2="462.6" y2="1302.2" stroke="#c3cedc" stroke-width="3"/>
<line x1="480.2" y1="1290" x2="480.2" y2="1298.7" stroke="#c3cedc" stroke-width="3"/>
<line x1="497.8" y1="1290" x2="497.8" y2="1302.2" stroke="#c3cedc" stroke-width="3"/>
<line x1="515.4" y1="1290" x2="515.4" y2="1298.7" stroke="#c3cedc" stroke-width="3"/>
<line x1="533" y1="1290" x2="533" y2="1302.2" stroke="#c3cedc" stroke-width="3"/>
<line x1="550.6" y1="1290" x2="550.6" y2="1298.7" stroke="#c3cedc" stroke-width="3"/>
<line x1="568.2" y1="1290" x2="568.2" y2="1302.2" stroke="#c3cedc" stroke-width="3"/>
<line x1="585.8" y1="1290" x2="585.8" y2="1298.7" stroke="#c3cedc" stroke-width="3"/>
<line x1="603.4" y1="1290" x2="603.4" y2="1307.4" stroke="#c3cedc" stroke-width="3"/>
<text transform="translate(75.4,1332.2) scale(0.72,1)" font-size="23" fill="#b4c2d4" text-anchor="middle">0</text>
<text transform="translate(251.4,1332.2) scale(0.72,1)" font-size="23" fill="#b4c2d4" text-anchor="middle">5</text>
<text transform="translate(427.4,1332.2) scale(0.72,1)" font-size="23" fill="#b4c2d4" text-anchor="middle">10</text>
<text transform="translate(603.4,1332.2) scale(0.72,1)" font-size="23" fill="#b4c2d4" text-anchor="middle">15</text>
<path d="M72.5,1287 L72.5,1282.01 L72.75,1277.79 L73,1273.75 L73.25,1268.13 L73.5,1259.89 L73.75,1248.42 L74,1233.3 L74.25,1214.44 L74.5,1192.34 L74.75,1168.1 L75,1143.47 L75.25,1120.7 L75.5,1102.18 L75.75,1090.04 L76,1085.78 L76.25,1089.94 L76.5,1101.98 L76.75,1120.42 L77,1143.09 L77.25,1167.61 L77.5,1191.76 L77.75,1213.77 L78,1232.53 L78.25,1247.19 L78.5,1258.19 L78.75,1266.14 L79,1271.06 L79.25,1274.09 L79.5,1275.72 L79.75,1276.42 L80,1276.54 L80.25,1276.32 L80.5,1275.89 L80.75,1275.97 L81,1276.01 L81.25,1275.71 L81.5,1275.43 L81.75,1275.18 L82,1274.95 L82.25,1273.93 L82.5,1271.8 L82.75,1267.48 L83,1258.91 L83.25,1246.8 L83.5,1233.09 L83.75,1221.7 L84,1215.29 L84.25,1212.51 L84.5,1212.01 L84.75,1212.46 L85,1213.09 L85.25,1213.82 L85.5,1215.25 L85.75,1218.64 L86,1225.42 L86.25,1236.18 L86.5,1249.49 L86.75,1261.8 L87,1269.46 L87.25,1271.53 L87.5,1270.53 L87.75,1268.14 L88,1265.02 L88.25,1261.4 L88.5,1257.57 L88.75,1253.94 L89,1250.94 L89.25,1248.99 L89.5,1248.35 L89.75,1249.04 L90,1250.85 L90.25,1253.94 L90.5,1257.67 L90.75,1261.26 L91,1264.31 L91.25,1265.2 L91.5,1255.5 L91.75,1229.15 L92,1195.57 L92.25,1169.49 L92.5,1154.98 L92.75,1148.82 L93,1146.81 L93.25,1146.32 L93.5,1146.53 L93.75,1146.88 L94,1147.22 L94.25,1147.57 L94.5,1148.12 L94.75,1149.59 L95,1153.82 L95.25,1164.44 L95.5,1185.93 L95.75,1218.1 L96,1250.42 L96.25,1269.63 L96.5,1275.15 L96.75,1277.38 L97,1279.11 L97.25,1279.62 L97.5,1280.16 L97.75,1280.72 L98,1281.3 L98.25,1281.1 L98.5,1280.35 L98.75,1279.6 L99,1278.82 L99.25,1277.8 L99.5,1276.74 L99.75,1275.87 L100,1275.88 L100.25,1275.91 L100.5,1275.96 L100.75,1276.52 L101,1277.39 L101.25,1278.24 L101.5,1278.97 L101.75,1279.65 L102,1280.33 L102.25,1280.98 L102.5,1281.62 L102.75,1282.25 L103,1282.5 L103.25,1281.86 L103.5,1281.2 L103.75,1280.55 L104,1279.88 L104.25,1279.21 L104.5,1278.53 L104.75,1278.61 L105,1278.68 L105.25,1278.76 L105.5,1278.83 L105.75,1278.91 L106,1278.99 L106.25,1278.48 L106.5,1277.84 L106.75,1277.18 L107,1276.52 L107.25,1275.84 L107.5,1275.16 L107.75,1274.47 L108,1273.8 L108.25,1273.11 L108.5,1272.42 L108.75,1272.76 L109,1273.12 L109.25,1273.48 L109.5,1274.11 L109.75,1274.81 L110,1275.5 L110.25,1276.18 L110.5,1276.86 L110.75,1277.52 L111,1278.09 L111.25,1278 L111.5,1277.91 L111.75,1277.82 L112,1277.74 L112.25,1277.65 L112.5,1277.56 L112.75,1277.67 L113,1277.79 L113.25,1277.9 L113.5,1278.01 L113.75,1278.13 L114,1278.24 L114.25,1278.26 L114.5,1278.22 L114.75,1278.17 L115,1278.13 L115.25,1278 L115.5,1277.88 L115.75,1277.78 L116,1277.8 L116.25,1277.82 L116.5,1277.84 L116.75,1277.87 L117,1277.89 L117.25,1277.92 L117.5,1277.45 L117.75,1276.86 L118,1276.27 L118.25,1275.42 L118.5,1274.55 L118.75,1273.67 L119,1273.21 L119.25,1273.42 L119.5,1273.65 L119.75,1273.89 L120,1274.15 L120.25,1274.43 L120.5,1274.72 L120.75,1274.19 L121,1273.65 L121.25,1273.1 L121.5,1272.54 L121.75,1271.98 L122,1271.42 L122.25,1271.36 L122.5,1271.58 L122.75,1271.81 L123,1272.04 L123.25,1272.28 L123.5,1272.53 L123.75,1272.68 L124,1272.42 L124.25,1272.15 L124.5,1271.89 L124.75,1271.63 L125,1271.36 L125.25,1271.09 L125.5,1270.49 L125.75,1269.8 L126,1269.1 L126.25,1268.39 L126.5,1267.68 L126.75,1267.24 L127,1267.05 L127.25,1266.98 L127.5,1266.91 L127.75,1266.84 L128,1266.78 L128.25,1266.73 L128.5,1266.67 L128.75,1267.47 L129,1268.26 L129.25,1269.04 L129.5,1269.82 L129.75,1270.59 L130,1271.34 L130.25,1271.6 L130.5,1271.54 L130.75,1271.47 L131,1271.42 L131.25,1271.44 L131.5,1271.47 L131.75,1271.58 L132,1271.99 L132.25,1272.4 L132.5,1272.81 L132.75,1273.21 L133,1273.61 L133.25,1274.01 L133.5,1274.49 L133.75,1274.98 L134,1275.47 L134.25,1275.95 L134.5,1276.43 L134.75,1276.9 L135,1277.24 L135.25,1277.39 L135.5,1277.55 L135.75,1277.71 L136,1277.88 L136.25,1277.78 L136.5,1277.69 L136.75,1277.84 L137,1278 L137.25,1278.15 L137.5,1278.3 L137.75,1278.45 L138,1278.6 L138.25,1278.88 L138.5,1279.24 L138.75,1279.6 L139,1279.96 L139.25,1280.32 L139.5,1280.67 L139.75,1280.88 L140,1280.48 L140.25,1280.09 L140.5,1279.71 L140.75,1279.32 L141,1278.94 L141.25,1278.56 L141.5,1278.59 L141.75,1278.72 L142,1278.85 L142.25,1278.98 L142.5,1279.1 L142.75,1279.23 L143,1279.41 L143.25,1279.67 L143.5,1279.92 L143.75,1280.17 L144,1280.42 L144.25,1280.67 L144.5,1280.92 L144.75,1280.87 L145,1280.83 L145.25,1280.75 L145.5,1280.67 L145.75,1280.58 L146,1280.5 L146.25,1280.24 L146.5,1279.88 L146.75,1279.51 L147,1279.14 L147.25,1278.77 L147.5,1278.4 L147.75,1278.25 L148,1278.99 L148.25,1279.72 L148.5,1280.46 L148.75,1281.2 L149,1281.94 L149.25,1282.67 L149.5,1282.51 L149.75,1282.12 L150,1281.74 L150.25,1281.35 L150.5,1280.97 L150.75,1280.58 L151,1280.3 L151.25,1280.17 L151.5,1280.04 L151.75,1279.91 L152,1279.79 L152.25,1279.66 L152.5,1279.53 L152.75,1279.28 L153,1279.02 L153.25,1278.77 L153.5,1278.52 L153.75,1278.26 L154,1278.01 L154.25,1278.25 L154.5,1278.83 L154.75,1279.4 L155,1279.97 L155.25,1280.55 L155.5,1281.12 L155.75,1281.57 L156,1281.52 L156.25,1281.47 L156.5,1281.41 L156.75,1281.36 L157,1281.31 L157.25,1281.26 L157.5,1281.43 L157.75,1281.66 L158,1281.89 L158.25,1282.12 L158.5,1282.35 L158.75,1282.58 L159,1282.45 L159.25,1281.78 L159.5,1281.12 L159.75,1280.45 L160,1279.79 L160.25,1279.12 L160.5,1278.45 L160.75,1279.09 L161,1279.72 L161.25,1280.35 L161.5,1280.98 L161.75,1281.61 L162,1282.24 L162.25,1282.37 L162.5,1282.17 L162.75,1281.97 L163,1281.78 L163.25,1281.58 L163.5,1281.38 L163.75,1281.22 L164,1281.21 L164.25,1281.2 L164.5,1281.19 L164.75,1281.18 L165,1281.18 L165.25,1281.17 L165.5,1280.99 L165.75,1280.77 L166,1280.55 L166.25,1280.33 L166.5,1280.1 L166.75,1279.88 L167,1279.61 L167.25,1279.28 L167.5,1278.94 L167.75,1278.6 L168,1278.26 L168.25,1277.92 L168.5,1277.58 L168.75,1278.16 L169,1278.75 L169.25,1279.33 L169.5,1279.92 L169.75,1280.5 L170,1281.09 L170.25,1281.35 L170.5,1281.39 L170.75,1281.44 L171,1281.48 L171.25,1281.53 L171.5,1281.57 L171.75,1281.55 L172,1281.28 L172.25,1281.01 L172.5,1280.74 L172.75,1280.47 L173,1280.19 L173.25,1279.92 L173.5,1280.12 L173.75,1280.44 L174,1280.76 L174.25,1281.07 L174.5,1281.39 L174.75,1281.71 L175,1281.78 L175.25,1281.41 L175.5,1281.04 L175.75,1280.67 L176,1280.29 L176.25,1279.91 L176.5,1279.52 L176.75,1279.09 L177,1278.66 L177.25,1278.22 L177.5,1277.76 L177.75,1277.28 L178,1276.78 L178.25,1276.75 L178.5,1277.01 L178.75,1277.22 L179,1277.36 L179.25,1277.41 L179.5,1277.35 L179.75,1277.14 L180,1276.69 L180.25,1276.12 L180.5,1275.45 L180.75,1274.73 L181,1274 L181.25,1273.32 L181.5,1272.01 L181.75,1270.69 L182,1269.58 L182.25,1268.72 L182.5,1268.14 L182.75,1267.81 L183,1267.91 L183.25,1268.47 L183.5,1269.18 L183.75,1269.95 L184,1270.74 L184.25,1271.48 L184.5,1272.14 L184.75,1272.99 L185,1273.72 L185.25,1274.94 L185.5,1276.04 L185.75,1277.03 L186,1277.92 L186.25,1278.63 L186.5,1279.21 L186.75,1279.76 L187,1280.28 L187.25,1279.95 L187.5,1279.6 L187.75,1279.31 L188,1279.24 L188.25,1279.19 L188.5,1279.14 L188.75,1279.11 L189,1279.08 L189.25,1279.07 L189.5,1278.74 L189.75,1278.32 L190,1277.9 L190.25,1277.75 L190.5,1277.58 L190.75,1277.41 L191,1277.05 L191.25,1276.32 L191.5,1275.05 L191.75,1272.58 L192,1267.79 L192.25,1259.27 L192.5,1245.67 L192.75,1226.28 L193,1201.27 L193.25,1171.99 L193.5,1140.62 L193.75,1109.66 L194,1081.33 L194.25,1057.97 L194.5,1040.05 L194.75,1027.07 L195,1018.47 L195.25,1013.43 L195.5,1010.99 L195.75,1010.02 L196,1009.01 L196.25,1008.43 L196.5,1007.93 L196.75,1007.4 L197,1006.92 L197.25,1006.8 L197.5,1007.49 L197.75,1009.73 L198,1014.4 L198.25,1022.39 L198.5,1034.48 L198.75,1051.16 L199,1072.66 L199.25,1098.34 L199.5,1126.12 L199.75,1153.75 L200,1178.68 L200.25,1198.69 L200.5,1212.4 L200.75,1218.83 L201,1219.51 L201.25,1215.86 L201.5,1209.37 L201.75,1201.25 L202,1192.34 L202.25,1183.61 L202.5,1175.23 L202.75,1167.15 L203,1159.58 L203.25,1152.77 L203.5,1146.9 L203.75,1142.05 L204,1138.01 L204.25,1135.37 L204.5,1134.2 L204.75,1134.52 L205,1136.31 L205.25,1139.47 L205.5,1144.26 L205.75,1150.21 L206,1157.05 L206.25,1164.54 L206.5,1172.46 L206.75,1180.58 L207,1188.73 L207.25,1196.72 L207.5,1204.32 L207.75,1211.38 L208,1217.81 L208.25,1223.53 L208.5,1228.52 L208.75,1231.52 L209,1233.8 L209.25,1235.43 L209.5,1236.47 L209.75,1237 L210,1237.13 L210.25,1237.73 L210.5,1238.63 L210.75,1239.42 L211,1240.17 L211.25,1240.94 L211.5,1241.81 L211.75,1242.61 L212,1242.78 L212.25,1243.04 L212.5,1243.46 L212.75,1244.04 L213,1244.76 L213.25,1245.59 L213.5,1247.18 L213.75,1249 L214,1250.85 L214.25,1252.69 L214.5,1254.5 L214.75,1256.25 L215,1257.97 L215.25,1259.68 L215.5,1261.27 L215.75,1262.75 L216,1264.11 L216.25,1264.72 L216.5,1265.22 L216.75,1265.07 L217,1264.81 L217.25,1265.08 L217.5,1265.26 L217.75,1265.37 L218,1265.41 L218.25,1265.7 L218.5,1266.15 L218.75,1266.57 L219,1266.96 L219.25,1268.22 L219.5,1269.44 L219.75,1270.6 L220,1271.57 L220.25,1272.52 L220.5,1273.46 L220.75,1274.38 L221,1275.28 L221.25,1276.17 L221.5,1276.38 L221.75,1276.46 L222,1276.58 L222.25,1276.06 L222.5,1275.55 L222.75,1275.05 L223,1274.92 L223.25,1275.34 L223.5,1275.76 L223.75,1276.17 L224,1276.58 L224.25,1276.98 L224.5,1277.39 L224.75,1277.04 L225,1276.7 L225.25,1276.11 L225.5,1275.52 L225.75,1274.92 L226,1274.31 L226.25,1274.21 L226.5,1274.46 L226.75,1274.71 L227,1274.96 L227.25,1275.23 L227.5,1275.49 L227.75,1275.8 L228,1276.26 L228.25,1276.72 L228.5,1277.19 L228.75,1278 L229,1279.02 L229.25,1280.01 L229.5,1280.06 L229.75,1279.9 L230,1279.77 L230.25,1279.68 L230.5,1279.63 L230.75,1279.61 L231,1279.76 L231.25,1279.89 L231.5,1280.02 L231.75,1280.16 L232,1280.31 L232.25,1280.46 L232.5,1280.63 L232.75,1281.03 L233,1281.43 L233.25,1281.82 L233.5,1282.21 L233.75,1282.59 L234,1282.96 L234.25,1282.99 L234.5,1282.98 L234.75,1282.96 L235,1282.95 L235.25,1282.94 L235.5,1282.93 L235.75,1282.93 L236,1282.96 L236.25,1283 L236.5,1283.03 L236.75,1283.07 L237,1283.11 L237.25,1283.14 L237.5,1283.06 L237.75,1282.94 L238,1282.82 L238.25,1282.71 L238.5,1282.59 L238.75,1282.47 L239,1282.46 L239.25,1282.61 L239.5,1282.77 L239.75,1282.92 L240,1283.07 L240.25,1283.22 L240.5,1283.37 L240.75,1283.55 L241,1283.74 L241.25,1283.92 L241.5,1284.11 L241.75,1284.29 L242,1284.48 L242.25,1284.52 L242.5,1284.46 L242.75,1284.39 L243,1284.33 L243.25,1284.27 L243.5,1284.21 L243.75,1284.13 L244,1283.95 L244.25,1283.77 L244.5,1283.58 L244.75,1283.4 L245,1283.22 L245.25,1283.04 L245.5,1283.17 L245.75,1283.37 L246,1283.57 L246.25,1283.77 L246.5,1283.97 L246.75,1284.17 L247,1284.22 L247.25,1284.03 L247.5,1283.85 L247.75,1283.66 L248,1283.47 L248.25,1283.29 L248.5,1283.1 L248.75,1283.27 L249,1283.44 L249.25,1283.6 L249.5,1283.77 L249.75,1283.94 L250,1284.1 L250.25,1284.05 L250.5,1283.86 L250.75,1283.67 L251,1283.48 L251.25,1283.29 L251.5,1283.1 L251.75,1282.98 L252,1283.15 L252.25,1283.32 L252.5,1283.49 L252.75,1283.66 L253,1283.83 L253.25,1284 L253.5,1284.12 L253.75,1284.22 L254,1284.33 L254.25,1284.44 L254.5,1284.54 L254.75,1284.65 L255,1284.63 L255.25,1284.43 L255.5,1284.23 L255.75,1284.03 L256,1283.83 L256.25,1283.63 L256.5,1283.42 L256.75,1283.48 L257,1283.54 L257.25,1283.6 L257.5,1283.64 L257.75,1283.68 L258,1283.71 L258.25,1283.62 L258.5,1283.44 L258.75,1283.25 L259,1283.03 L259.25,1282.79 L259.5,1282.52 L259.75,1282.19 L260,1281.69 L260.25,1281.16 L260.5,1280.58 L260.75,1279.97 L261,1279.31 L261.25,1278.62 L261.5,1278.42 L261.75,1278.32 L262,1278.19 L262.25,1278.05 L262.5,1277.89 L262.75,1277.73 L263,1277.33 L263.25,1276.56 L263.5,1275.82 L263.75,1275.13 L264,1274.5 L264.25,1273.95 L264.5,1273.47 L264.75,1273.53 L265,1273.68 L265.25,1273.92 L265.5,1274.25 L265.75,1274.66 L266,1275.15 L266.25,1275.62 L266.5,1276.1 L266.75,1276.62 L267,1277.18 L267.25,1277.76 L267.5,1278.36 L267.75,1278.9 L268,1279.23 L268.25,1279.55 L268.5,1279.83 L268.75,1280.08 L269,1280.3 L269.25,1280.48 L269.5,1280.87 L269.75,1281.28 L270,1281.65 L270.25,1281.98 L270.5,1282.29 L270.75,1282.56 L271,1282.78 L271.25,1282.95 L271.5,1283.1 L271.75,1283.24 L272,1283.36 L272.25,1283.46 L272.5,1283.56 L272.75,1283.61 L273,1283.66 L273.25,1283.7 L273.5,1283.74 L273.75,1283.78 L274,1283.81 L274.25,1283.74 L274.5,1283.6 L274.75,1283.46 L275,1283.32 L275.25,1283.18 L275.5,1283.04 L275.75,1282.95 L276,1283.08 L276.25,1283.21 L276.5,1283.33 L276.75,1283.46 L277,1283.59 L277.25,1283.72 L277.5,1283.83 L277.75,1283.95 L278,1284.06 L278.25,1284.17 L278.5,1284.28 L278.75,1284.4 L279,1284.29 L279.25,1283.85 L279.5,1283.41 L279.75,1282.97 L280,1282.54 L280.25,1282.1 L280.5,1281.66 L280.75,1282.07 L281,1282.48 L281.25,1282.89 L281.5,1283.3 L281.75,1283.71 L282,1284.12 L282.25,1284.14 L282.5,1283.91 L282.75,1283.67 L283,1283.43 L283.25,1283.2 L283.5,1282.96 L283.75,1282.77 L284,1282.75 L284.25,1282.72 L284.5,1282.7 L284.75,1282.67 L285,1282.65 L285.25,1282.63 L285.5,1282.84 L285.75,1283.12 L286,1283.4 L286.25,1283.67 L286.5,1283.95 L286.75,1284.23 L287,1284.29 L287.25,1284.04 L287.5,1283.78 L287.75,1283.53 L288,1283.27 L288.25,1283.02 L288.5,1282.76 L288.75,1282.82 L289,1282.87 L289.25,1282.92 L289.5,1282.98 L289.75,1283.03 L290,1283.08 L290.25,1283.17 L290.5,1283.29 L290.75,1283.4 L291,1283.52 L291.25,1283.63 L291.5,1283.74 L291.75,1283.83 L292,1283.83 L292.25,1283.82 L292.5,1283.82 L292.75,1283.81 L293,1283.79 L293.25,1283.77 L293.5,1283.87 L293.75,1283.98 L294,1284.09 L294.25,1284.18 L294.5,1284.26 L294.75,1284.33 L295,1284.33 L295.25,1284.25 L295.5,1284.14 L295.75,1284.02 L296,1283.88 L296.25,1283.72 L296.5,1283.54 L296.75,1283.08 L297,1282.6 L297.25,1282.11 L297.5,1281.62 L297.75,1281.13 L298,1280.64 L298.25,1280.37 L298.5,1280.25 L298.75,1280.15 L299,1280.08 L299.25,1280.04 L299.5,1280.04 L299.75,1280.02 L300,1279.86 L300.25,1279.73 L300.5,1279.64 L300.75,1279.59 L301,1279.58 L301.25,1279.6 L301.5,1279.89 L301.75,1280.27 L302,1280.67 L302.25,1281.07 L302.5,1281.49 L302.75,1281.9 L303,1282.18 L303.25,1282.28 L303.5,1282.36 L303.75,1282.43 L304,1282.48 L304.25,1282.51 L304.5,1282.53 L304.75,1282.86 L305,1283.18 L305.25,1283.47 L305.5,1283.76 L305.75,1284.03 L306,1284.28 L306.25,1284.44 L306.5,1284.52 L306.75,1284.6 L307,1284.67 L307.25,1284.73 L307.5,1284.79 L307.75,1284.74 L308,1284.25 L308.25,1283.77 L308.5,1283.28 L308.75,1282.79 L309,1282.3 L309.25,1281.81 L309.5,1281.97 L309.75,1282.3 L310,1282.63 L310.25,1282.96 L310.5,1283.28 L310.75,1283.61 L311,1283.74 L311.25,1283.56 L311.5,1283.39 L311.75,1283.21 L312,1283.04 L312.25,1282.86 L312.5,1282.69 L312.75,1282.96 L313,1283.23 L313.25,1283.5 L313.5,1283.77 L313.75,1284.04 L314,1284.31 L314.25,1284.28 L314.5,1284.04 L314.75,1283.81 L315,1283.57 L315.25,1283.33 L315.5,1283.09 L315.75,1282.9 L316,1282.85 L316.25,1282.8 L316.5,1282.75 L316.75,1282.71 L317,1282.66 L317.25,1282.61 L317.5,1282.65 L317.75,1282.71 L318,1282.77 L318.25,1282.82 L318.5,1282.88 L318.75,1282.94 L319,1283 L319.25,1283.06 L319.5,1283.12 L319.75,1283.18 L320,1283.23 L320.25,1283.29 L320.5,1283.35 L320.75,1283.23 L321,1283.12 L321.25,1283 L321.5,1282.88 L321.75,1282.76 L322,1282.65 L322.25,1282.65 L322.5,1282.74 L322.75,1282.83 L323,1282.92 L323.25,1283.01 L323.5,1283.1 L323.75,1283.17 L324,1283.17 L324.25,1283.18 L324.5,1283.18 L324.75,1283.19 L325,1283.2 L325.25,1283.2 L325.5,1283.17 L325.75,1283.13 L326,1283.09 L326.25,1283.05 L326.5,1283.01 L326.75,1282.97 L327,1283.04 L327.25,1283.26 L327.5,1283.49 L327.75,1283.71 L328,1283.94 L328.25,1284.17 L328.5,1284.39 L328.75,1284.3 L329,1284.2 L329.25,1284.11 L329.5,1284.01 L329.75,1283.92 L330,1283.82 L330.25,1283.8 L330.5,1283.83 L330.75,1283.85 L331,1283.87 L331.25,1283.9 L331.5,1283.92 L331.75,1283.89 L332,1283.6 L332.25,1283.32 L332.5,1283.04 L332.75,1282.75 L333,1282.47 L333.25,1282.19 L333.5,1282.46 L333.75,1282.88 L334,1283.29 L334.25,1283.7 L334.5,1284.12 L334.75,1284.53 L335,1284.63 L335.25,1284.26 L335.5,1283.89 L335.75,1283.53 L336,1283.16 L336.25,1282.79 L336.5,1282.42 L336.75,1282.69 L337,1282.96 L337.25,1283.23 L337.5,1283.5 L337.75,1283.78 L338,1284.05 L338.25,1284.03 L338.5,1283.83 L338.75,1283.63 L339,1283.42 L339.25,1283.22 L339.5,1283.01 L339.75,1282.91 L340,1283.22 L340.25,1283.54 L340.5,1283.85 L340.75,1284.16 L341,1284.47 L341.25,1284.78 L341.5,1284.69 L341.75,1284.49 L342,1284.29 L342.25,1284.1 L342.5,1283.9 L342.75,1283.71 L343,1283.67 L343.25,1283.88 L343.5,1284.09 L343.75,1284.3 L344,1284.51 L344.25,1284.72 L344.5,1284.8 L344.75,1284.78 L345,1284.64 L345.25,1284.49 L345.5,1284.34 L345.75,1284.18 L346,1284.02 L346.25,1283.94 L346.5,1283.9 L346.75,1283.86 L347,1283.8 L347.25,1283.73 L347.5,1283.64 L347.75,1283.58 L348,1283.72 L348.25,1283.83 L348.5,1283.89 L348.75,1283.91 L349,1283.85 L349.25,1283.72 L349.5,1282.92 L349.75,1281.87 L350,1280.7 L350.25,1279.38 L350.5,1277.91 L350.75,1276.26 L351,1274.6 L351.25,1273.02 L351.5,1271.2 L351.75,1269.12 L352,1266.76 L352.25,1264.11 L352.5,1261.16 L352.75,1257.77 L353,1254.08 L353.25,1250.08 L353.5,1245.8 L353.75,1241.25 L354,1236.47 L354.25,1231.69 L354.5,1226.89 L354.75,1221.99 L355,1217.05 L355.25,1212.14 L355.5,1207.33 L355.75,1202.63 L356,1197.96 L356.25,1193.62 L356.5,1189.68 L356.75,1186.21 L357,1183.27 L357.25,1180.92 L357.5,1179.07 L357.75,1177.85 L358,1177.32 L358.25,1177.48 L358.5,1178.31 L358.75,1179.81 L359,1182.11 L359.25,1185.24 L359.5,1188.9 L359.75,1193.03 L360,1197.56 L360.25,1202.42 L360.5,1207.53 L360.75,1212.37 L361,1217.32 L361.25,1222.29 L361.5,1227.23 L361.75,1232.06 L362,1236.74 L362.25,1241.38 L362.5,1245.89 L362.75,1250.13 L363,1254.08 L363.25,1257.73 L363.5,1261.08 L363.75,1264.17 L364,1267.14 L364.25,1269.82 L364.5,1272.22 L364.75,1274.37 L365,1276.27 L365.25,1277.95 L365.5,1279.06 L365.75,1279.9 L366,1280.57 L366.25,1281.11 L366.5,1281.53 L366.75,1281.84 L367,1282.12 L367.25,1282.41 L367.5,1282.64 L367.75,1282.82 L368,1282.95 L368.25,1283.05 L368.5,1283.12 L368.75,1283.19 L369,1283.25 L369.25,1283.29 L369.5,1283.31 L369.75,1283.33 L370,1283.34 L370.25,1283.55 L370.5,1283.89 L370.75,1284.23 L371,1284.57 L371.25,1284.8 L371.5,1284.8 L371.75,1284.8 L372,1284.8 L372.25,1284.8 L372.5,1284.56 L372.75,1284.27 L373,1283.97 L373.25,1283.68 L373.5,1283.54 L373.75,1283.44 L374,1283.35 L374.25,1283.25 L374.5,1283.15 L374.75,1283.05 L375,1283.03 L375.25,1283.13 L375.5,1283.23 L375.75,1283.33 L376,1283.43 L376.25,1283.53 L376.5,1283.63 L376.75,1283.31 L377,1282.98 L377.25,1282.66 L377.5,1282.34 L377.75,1282.02 L378,1281.69 L378.25,1281.87 L378.5,1282.38 L378.75,1282.88 L379,1283.38 L379.25,1283.88 L379.5,1284.37 L379.75,1284.71 L380,1284.53 L380.25,1284.34 L380.5,1284.13 L380.75,1283.9 L381,1283.64 L381.25,1283.36 L381.5,1283.21 L381.75,1283.06 L382,1282.88 L382.25,1282.65 L382.5,1282.38 L382.75,1282.05 L383,1281.68 L383.25,1281.24 L383.5,1280.76 L383.75,1280.22 L384,1279.64 L384.25,1279 L384.5,1278.33 L384.75,1277.42 L385,1276.49 L385.25,1275.55 L385.5,1274.61 L385.75,1273.69 L386,1272.8 L386.25,1272 L386.5,1271.3 L386.75,1270.68 L387,1270.14 L387.25,1269.7 L387.5,1269.36 L387.75,1269.18 L388,1269.28 L388.25,1269.49 L388.5,1269.82 L388.75,1270.27 L389,1270.82 L389.25,1271.47 L389.5,1271.83 L389.75,1272.18 L390,1272.59 L390.25,1273.04 L390.5,1273.52 L390.75,1274.02 L391,1274.65 L391.25,1275.46 L391.5,1276.25 L391.75,1277.01 L392,1277.73 L392.25,1278.41 L392.5,1279.03 L392.75,1279.61 L393,1280.13 L393.25,1280.6 L393.5,1281.02 L393.75,1281.39 L394,1281.71 L394.25,1281.97 L394.5,1282.17 L394.75,1282.34 L395,1282.47 L395.25,1282.58 L395.5,1282.66 L395.75,1282.73 L396,1282.83 L396.25,1282.9 L396.5,1282.97 L396.75,1283.03 L397,1283.08 L397.25,1283.12 L397.5,1283.14 L397.75,1283.15 L398,1283.17 L398.25,1283.17 L398.5,1283.18 L398.75,1283.19 L399,1283.28 L399.25,1283.5 L399.5,1283.71 L399.75,1283.93 L400,1284.15 L400.25,1284.37 L400.5,1284.59 L400.75,1284.3 L401,1284.02 L401.25,1283.73 L401.5,1283.45 L401.75,1283.16 L402,1282.88 L402.25,1282.83 L402.5,1282.94 L402.75,1283.05 L403,1283.16 L403.25,1283.27 L403.5,1283.38 L403.75,1283.47 L404,1283.44 L404.25,1283.42 L404.5,1283.4 L404.75,1283.38 L405,1283.36 L405.25,1283.34 L405.5,1283.25 L405.75,1283.13 L406,1283.02 L406.25,1282.9 L406.5,1282.79 L406.75,1282.67 L407,1282.6 L407.25,1282.57 L407.5,1282.55 L407.75,1282.52 L408,1282.5 L408.25,1282.47 L408.5,1282.45 L408.75,1282.75 L409,1283.04 L409.25,1283.34 L409.5,1283.64 L409.75,1283.94 L410,1284.24 L410.25,1284.27 L410.5,1284.13 L410.75,1283.99 L411,1283.85 L411.25,1283.71 L411.5,1283.57 L411.75,1283.45 L412,1283.43 L412.25,1283.41 L412.5,1283.4 L412.75,1283.38 L413,1283.36 L413.25,1283.34 L413.5,1283.41 L413.75,1283.49 L414,1283.58 L414.25,1283.67 L414.5,1283.75 L414.75,1283.84 L415,1283.85 L415.25,1283.74 L415.5,1283.64 L415.75,1283.53 L416,1283.43 L416.25,1283.32 L416.5,1283.21 L416.75,1283.32 L417,1283.43 L417.25,1283.53 L417.5,1283.64 L417.75,1283.74 L418,1283.85 L418.25,1283.94 L418.5,1284.03 L418.75,1284.12 L419,1284.21 L419.25,1284.3 L419.5,1284.39 L419.75,1284.42 L420,1284.24 L420.25,1284.07 L420.5,1283.89 L420.75,1283.72 L421,1283.54 L421.25,1283.36 L421.5,1283.29 L421.75,1283.25 L422,1283.2 L422.25,1283.16 L422.5,1283.11 L422.75,1283.06 L423,1283.13 L423.25,1283.35 L423.5,1283.57 L423.75,1283.79 L424,1284.01 L424.25,1284.23 L424.5,1284.45 L424.75,1284.44 L425,1284.43 L425.25,1284.42 L425.5,1284.41 L425.75,1284.4 L426,1284.39 L426.25,1284.35 L426.5,1284.29 L426.75,1284.24 L427,1284.18 L427.25,1284.13 L427.5,1284.07 L427.75,1284.04 L428,1284.12 L428.25,1284.2 L428.5,1284.27 L428.75,1284.35 L429,1284.43 L429.25,1284.51 L429.5,1284.66 L429.75,1284.8 L430,1284.8 L430.25,1284.8 L430.5,1284.8 L430.75,1284.8 L431,1284.8 L431.25,1284.8 L431.5,1284.8 L431.75,1284.68 L432,1284.4 L432.25,1284.12 L432.5,1283.84 L432.75,1283.63 L433,1283.42 L433.25,1283.21 L433.5,1283 L433.75,1282.79 L434,1282.58 L434.25,1282.53 L434.5,1282.58 L434.75,1282.63 L435,1282.68 L435.25,1282.73 L435.5,1282.78 L435.75,1282.83 L436,1282.87 L436.25,1282.91 L436.5,1282.95 L436.75,1282.98 L437,1283.02 L437.25,1283.06 L437.5,1283.34 L437.75,1283.68 L438,1284.02 L438.25,1284.36 L438.5,1284.71 L438.75,1284.8 L439,1284.8 L439.25,1284.8 L439.5,1284.8 L439.75,1284.8 L440,1284.8 L440.25,1284.8 L440.5,1284.73 L440.75,1284.32 L441,1283.92 L441.25,1283.52 L441.5,1283.12 L441.75,1282.72 L442,1282.32 L442.25,1282.26 L442.5,1282.43 L442.75,1282.6 L443,1282.78 L443.25,1282.95 L443.5,1283.12 L443.75,1283.24 L444,1283.14 L444.25,1283.03 L444.5,1282.93 L444.75,1282.83 L445,1282.72 L445.25,1282.62 L445.5,1282.84 L445.75,1283.14 L446,1283.45 L446.25,1283.75 L446.5,1284.05 L446.75,1284.36 L447,1284.59 L447.25,1284.7 L447.5,1284.8 L447.75,1284.8 L448,1284.8 L448.25,1284.8 L448.5,1284.8 L448.75,1284.8 L449,1284.65 L449.25,1284.32 L449.5,1284 L449.75,1283.68 L450,1283.36 L450.25,1283.28 L450.5,1283.37 L450.75,1283.46 L451,1283.55 L451.25,1283.64 L451.5,1283.73 L451.75,1283.86 L452,1284.17 L452.25,1284.48 L452.5,1284.79 L452.75,1284.8 L453,1284.8 L453.25,1284.8 L453.5,1284.8 L453.75,1284.8 L454,1284.8 L454.25,1284.8 L454.5,1284.8 L454.75,1284.78 L455,1284.63 L455.25,1284.51 L455.5,1284.4 L455.75,1284.29 L456,1284.17 L456.25,1284.06 L456.5,1283.95 L456.75,1284.02 L457,1284.09 L457.25,1284.16 L457.5,1284.24 L457.75,1284.31 L458,1284.38 L458.25,1284.41 L458.5,1284.42 L458.75,1284.42 L459,1284.42 L459.25,1284.42 L459.5,1284.43 L459.75,1284.45 L460,1284.54 L460.25,1284.63 L460.5,1284.73 L460.75,1284.8 L461,1284.8 L461.25,1284.8 L461.5,1284.8 L461.75,1284.74 L462,1284.58 L462.25,1284.42 L462.5,1284.26 L462.75,1284.1 L463,1283.93 L463.25,1283.73 L463.5,1283.53 L463.75,1283.33 L464,1283.13 L464.25,1282.94 L464.5,1282.74 L464.75,1282.79 L465,1282.84 L465.25,1282.89 L465.5,1282.94 L465.75,1282.99 L466,1283.04 L466.25,1283.18 L466.5,1283.38 L466.75,1283.57 L467,1283.77 L467.25,1283.96 L467.5,1284.16 L467.75,1284.32 L468,1284.36 L468.25,1284.4 L468.5,1284.44 L468.75,1284.47 L469,1284.51 L469.25,1284.55 L469.5,1284.49 L469.75,1284.41 L470,1284.33 L470.25,1284.25 L470.5,1284.17 L470.75,1284.09 L471,1283.99 L471.25,1283.86 L471.5,1283.73 L471.75,1283.61 L472,1283.48 L472.25,1283.35 L472.5,1283.23 L472.75,1283.27 L473,1283.32 L473.25,1283.37 L473.5,1283.42 L473.75,1283.47 L474,1283.51 L474.25,1283.48 L474.5,1283.39 L474.75,1283.31 L475,1283.22 L475.25,1283.13 L475.5,1283.05 L475.75,1282.98 L476,1282.99 L476.25,1283 L476.5,1283.01 L476.75,1283.02 L477,1283.03 L477.25,1283.04 L477.5,1283.22 L477.75,1283.43 L478,1283.64 L478.25,1283.86 L478.5,1284.07 L478.75,1284.28 L479,1284.41 L479.25,1284.42 L479.5,1284.42 L479.75,1284.42 L480,1284.42 L480.25,1284.43 L480.5,1284.43 L480.75,1284.29 L481,1284.16 L481.25,1284.02 L481.5,1283.88 L481.75,1283.74 L482,1283.6 L482.25,1283.5 L482.5,1283.42 L482.75,1283.34 L483,1283.26 L483.25,1283.18 L483.5,1283.1 L483.75,1283.05 L484,1283.12 L484.25,1283.2 L484.5,1283.27 L484.75,1283.34 L485,1283.41 L485.25,1283.49 L485.5,1283.84 L485.75,1284.26 L486,1284.68 L486.25,1284.8 L486.5,1284.8 L486.75,1284.8 L487,1284.8 L487.25,1284.8 L487.5,1284.8 L487.75,1284.8 L488,1284.48 L488.25,1284.09 L488.5,1283.69 L488.75,1283.83 L489,1283.97 L489.25,1284.11 L489.5,1284.24 L489.75,1284.38 L490,1284.52 L490.25,1284.53 L490.5,1284.47 L490.75,1284.4 L491,1284.34 L491.25,1284.27 L491.5,1284.2 L491.75,1284.15 L492,1284.15 L492.25,1284.15 L492.5,1284.15 L492.75,1284.15 L493,1284.15 L493.25,1284.15 L493.5,1284.17 L493.75,1284.2 L494,1284.23 L494.25,1284.27 L494.5,1284.3 L494.75,1284.33 L495,1284.34 L495.25,1284.31 L495.5,1284.28 L495.75,1284.25 L496,1284.22 L496.25,1284.2 L496.5,1284.17 L496.75,1284.19 L497,1284.21 L497.25,1284.23 L497.5,1284.26 L497.75,1284.28 L498,1284.3 L498.25,1284.31 L498.5,1284.3 L498.75,1284.3 L499,1284.3 L499.25,1284.29 L499.5,1284.29 L499.75,1284.28 L500,1284.24 L500.25,1284.21 L500.5,1284.17 L500.75,1284.14 L501,1284.1 L501.25,1284.07 L501.5,1284.01 L501.75,1283.94 L502,1283.88 L502.25,1283.82 L502.5,1283.75 L502.75,1283.69 L503,1283.62 L503.25,1283.57 L503.5,1283.51 L503.75,1283.45 L504,1283.39 L504.25,1283.33 L504.5,1283.27 L504.75,1283.51 L505,1283.75 L505.25,1283.98 L505.5,1284.22 L505.75,1284.46 L506,1284.7 L506.25,1284.66 L506.5,1284.46 L506.75,1284.25 L507,1284.04 L507.25,1283.83 L507.5,1283.62 L507.75,1283.42 L508,1283.29 L508.25,1283.15 L508.5,1283.01 L508.75,1282.88 L509,1282.74 L509.25,1282.6 L509.5,1282.93 L509.75,1283.38 L510,1283.83 L510.25,1284.27 L510.5,1284.72 L510.75,1284.8 L511,1284.8 L511.25,1284.8 L511.5,1284.53 L511.75,1284.16 L512,1283.78 L512.25,1283.41 L512.5,1283.03 L512.75,1283.17 L513,1283.31 L513.25,1283.44 L513.5,1283.58 L513.75,1283.71 L514,1283.85 L514.25,1284.07 L514.5,1284.34 L514.75,1284.61 L515,1284.8 L515.25,1284.8 L515.5,1284.8 L515.75,1284.8 L516,1284.8 L516.25,1284.8 L516.5,1284.8 L516.75,1284.57 L517,1284.31 L517.25,1284.05 L517.5,1283.74 L517.75,1283.42 L518,1283.1 L518.25,1282.77 L518.5,1282.45 L518.75,1282.13 L519,1282.03 L519.25,1282.25 L519.5,1282.48 L519.75,1282.71 L520,1282.94 L520.25,1283.17 L520.5,1283.4 L520.75,1283.65 L521,1283.91 L521.25,1284.16 L521.5,1284.41 L521.75,1284.66 L522,1284.8 L522.25,1284.8 L522.5,1284.65 L522.75,1284.43 L523,1284.2 L523.25,1283.97 L523.5,1283.75 L523.75,1283.61 L524,1283.86 L524.25,1284.1 L524.5,1284.35 L524.75,1284.59 L525,1284.8 L525.25,1284.8 L525.5,1284.8 L525.75,1284.5 L526,1284.16 L526.25,1283.81 L526.5,1283.46 L526.75,1283.11 L527,1283.08 L527.25,1283.53 L527.5,1283.97 L527.75,1284.42 L528,1284.8 L528.25,1284.8 L528.5,1284.8 L528.75,1284.8 L529,1284.8 L529.25,1284.4 L529.5,1283.95 L529.75,1283.5 L530,1283.05 L530.25,1283.09 L530.5,1283.46 L530.75,1283.83 L531,1284.19 L531.25,1284.56 L531.5,1284.8 L531.75,1284.8 L532,1284.8 L532.25,1284.8 L532.5,1284.72 L532.75,1284.56 L533,1284.4 L533.25,1284.24 L533.5,1284.02 L533.75,1283.78 L534,1283.54 L534.25,1283.3 L534.5,1283.06 L534.75,1282.83 L535,1282.8 L535.25,1283.08 L535.5,1283.37 L535.75,1283.65 L536,1283.93 L536.25,1284.22 L536.5,1284.5 L536.75,1284.45 L537,1284.4 L537.25,1284.35 L537.5,1284.29 L537.75,1284.24 L538,1284.19 L538.25,1284.26 L538.5,1284.41 L538.75,1284.57 L539,1284.72 L539.25,1284.8 L539.5,1284.8 L539.75,1284.8 L540,1284.8 L540.25,1284.72 L540.5,1284.53 L540.75,1284.34 L541,1284.14 L541.25,1283.95 L541.5,1283.88 L541.75,1283.86 L542,1283.83 L542.25,1283.8 L542.5,1283.77 L542.75,1283.74 L543,1283.69 L543.25,1283.58 L543.5,1283.48 L543.75,1283.38 L544,1283.28 L544.25,1283.18 L544.5,1283.08 L544.75,1283.18 L545,1283.28 L545.25,1283.38 L545.5,1283.49 L545.75,1283.59 L546,1283.69 L546.25,1283.73 L546.5,1283.73 L546.75,1283.72 L547,1283.72 L547.25,1283.71 L547.5,1283.71 L547.75,1283.74 L548,1283.9 L548.25,1284.06 L548.5,1284.22 L548.75,1284.38 L549,1284.54 L549.25,1284.7 L549.5,1284.63 L549.75,1284.51 L550,1284.38 L550.25,1284.26 L550.5,1284.13 L550.75,1284 L551,1283.91 L551.25,1283.87 L551.5,1283.83 L551.75,1283.79 L552,1283.75 L552.25,1283.71 L552.5,1283.67 L552.75,1283.93 L553,1284.19 L553.25,1284.45 L553.5,1284.71 L553.75,1284.8 L554,1284.8 L554.25,1284.8 L554.5,1284.8 L554.75,1284.8 L555,1284.8 L555.25,1284.68 L555.5,1284.54 L555.75,1284.35 L556,1283.97 L556.25,1283.59 L556.5,1283.21 L556.75,1282.83 L557,1282.46 L557.25,1282.08 L557.5,1282.37 L557.75,1282.82 L558,1283.28 L558.25,1283.74 L558.5,1284.2 L558.75,1284.65 L559,1284.8 L559.25,1284.8 L559.5,1284.8 L559.75,1284.8 L560,1284.8 L560.25,1284.8 L560.5,1284.8 L560.75,1284.8 L561,1284.8 L561.25,1284.8 L561.5,1284.65 L561.75,1284.34 L562,1284.02 L562.25,1283.79 L562.5,1283.61 L562.75,1283.43 L563,1283.25 L563.25,1283.07 L563.5,1282.89 L563.75,1282.8 L564,1283.08 L564.25,1283.35 L564.5,1283.63 L564.75,1283.9 L565,1284.17 L565.25,1284.45 L565.5,1284.56 L565.75,1284.64 L566,1284.72 L566.25,1284.8 L566.5,1284.8 L566.75,1284.8 L567,1284.8 L567.25,1284.57 L567.5,1284.26 L567.75,1283.95 L568,1283.65 L568.25,1283.34 L568.5,1283.03 L568.75,1283.28 L569,1283.53 L569.25,1283.78 L569.5,1284.03 L569.75,1284.28 L570,1284.53 L570.25,1284.64 L570.5,1284.65 L570.75,1284.67 L571,1284.68 L571.25,1284.7 L571.5,1284.72 L571.75,1284.72 L572,1284.7 L572.25,1284.68 L572.5,1284.67 L572.75,1284.65 L573,1284.63 L573.25,1284.61 L573.5,1284.6 L573.75,1284.59 L574,1284.58 L574.25,1284.57 L574.5,1284.56 L574.75,1284.55 L575,1284.46 L575.25,1284.28 L575.5,1284.09 L575.75,1283.91 L576,1283.72 L576.25,1283.53 L576.5,1283.35 L576.75,1283.61 L577,1283.87 L577.25,1284.13 L577.5,1284.39 L577.75,1284.65 L578,1284.8 L578.25,1284.8 L578.5,1284.72 L578.75,1284.53 L579,1284.34 L579.25,1284.16 L579.5,1283.97 L579.75,1283.79 L580,1283.67 L580.25,1283.54 L580.5,1283.42 L580.75,1283.29 L581,1283.17 L581.25,1283.04 L581.5,1283.05 L581.75,1283.09 L582,1283.13 L582.25,1283.18 L582.5,1283.22 L582.75,1283.26 L583,1283.35 L583.25,1283.51 L583.5,1283.68 L583.75,1283.84 L584,1284 L584.25,1284.16 L584.5,1284.32 L584.75,1284.69 L585,1284.8 L585.25,1284.8 L585.5,1284.8 L585.75,1284.8 L586,1284.8 L586.25,1284.8 L586.5,1284.8 L586.75,1284.8 L587,1284.8 L587.25,1284.44 L587.5,1283.96 L587.75,1283.6 L588,1283.71 L588.25,1283.82 L588.5,1283.94 L588.75,1284.05 L589,1284.17 L589.25,1284.28 L589.5,1284 L589.75,1283.63 L590,1283.26 L590.25,1282.89 L590.5,1282.51 L590.75,1282.14 L591,1282.01 L591.25,1282.26 L591.5,1282.51 L591.75,1282.75 L592,1283 L592.25,1283.25 L592.5,1283.49 L592.75,1283.71 L593,1283.94 L593.25,1284.16 L593.5,1284.38 L593.75,1284.6 L594,1284.8 L594.25,1284.8 L594.5,1284.8 L594.75,1284.8 L595,1284.8 L595.25,1284.8 L595.5,1284.8 L595.75,1284.8 L596,1284.8 L596.25,1284.41 L596.5,1284 L596.75,1283.59 L597,1283.17 L597.25,1282.76 L597.5,1282.78 L597.75,1282.92 L598,1283.05 L598.25,1283.18 L598.5,1283.32 L598.75,1283.45 L599,1283.65 L599.25,1283.94 L599.5,1284.24 L599.75,1284.54 L600,1284.8 L600.25,1284.8 L600.5,1284.8 L600.75,1284.8 L601,1284.8 L601.25,1284.8 L601.5,1284.64 L601.75,1284.45 L602,1284.25 L602.25,1284.09 L602.5,1283.96 L602.75,1283.83 L603,1283.7 L603.25,1283.57 L603.5,1283.44 L603.75,1283.36 L604,1283.48 L604.25,1283.59 L604.5,1283.71 L604.75,1283.82 L605,1283.94 L605.25,1284.06 L605.5,1284.13 L605.75,1284.19 L606,1284.25 L606.25,1284.32 L606.5,1284.38 L606.75,1284.44 L607,1284.39 L607.25,1284.17 L607.5,1283.94 L607.75,1283.72 L608,1283.5 L608.25,1283.28 L608.5,1283.05 L608.75,1283.11 L609,1283.17 L609.25,1283.22 L609.5,1283.28 L609.75,1283.34 L610,1283.4 L610.25,1283.52 L610.5,1283.68 L610.75,1283.84 L611,1284 L611.25,1284.16 L611.5,1284.32 L611.75,1284.43 L612,1284.31 L612.25,1284.18 L612.5,1284.06 L612.75,1283.94 L613,1283.81 L613.25,1283.69 L613.5,1283.71 L613.75,1283.78 L614,1283.84 L614.25,1283.9 L614.5,1283.96 L614.75,1284.02 L615,1284.13 L615.25,1284.31 L615.5,1284.49 L615.75,1284.67 L616,1284.8 L616.25,1284.8 L616.5,1284.8 L616.75,1284.8 L617,1284.8 L617.25,1284.8 L617.5,1284.8 L617.75,1284.8 L618,1284.8 L618.25,1284.8 L618.5,1284.8 L618.75,1284.8 L619,1284.8 L619,1287 Z" fill="#ffff00"/>
<rect x="405.1" y="1144.2" width="210.4" height="46" fill="#e8e8e8"/>
<rect x="405.1" y="1190.2" width="210.4" height="46.1" fill="#c8c8c8"/>
<rect x="405.1" y="1236.3" width="210.4" height="46" fill="#e8e8e8"/>
<rect x="405.1" y="1144.2" width="210.4" height="138.1" fill="none" stroke="#000" stroke-width="2.6"/>
<line x1="510.6" y1="1144.2" x2="510.6" y2="1282.3" stroke="#000" stroke-width="2.3"/>
<line x1="405.1" y1="1190.2" x2="615.5" y2="1190.2" stroke="#000" stroke-width="2.3"/>
<line x1="405.1" y1="1236.3" x2="615.5" y2="1236.3" stroke="#000" stroke-width="2.3"/>
<text x="457.85" y="1175" font-size="21.3" font-weight="bold" text-anchor="middle">Element</text>
<text x="563.05" y="1175" font-size="21" font-weight="bold" text-anchor="middle">Atomic %</text>
<text x="457.85" y="1219.65" font-size="21.3" font-weight="bold" text-anchor="middle">O</text>
<text x="457.85" y="1265.9" font-size="21.3" font-weight="bold" text-anchor="middle">Sn</text>
<text x="563.05" y="1221.75" font-size="23.5" font-weight="bold" fill="#ff0000" text-anchor="middle">47.69</text>
<text x="563.05" y="1267.8" font-size="23.5" font-weight="bold" fill="#ff0000" text-anchor="middle">52.31</text>
<text x="563" y="1044.1" font-size="57.5" font-weight="bold" fill="#fff">d</text>
<path d="M2,1342 L2,982 L619,982" fill="none" stroke="#0b1420" stroke-width="2"/>
<line x1="1.2" y1="1341" x2="619" y2="1341" stroke="#0b1420" stroke-width="2"/></g><circle cx="101.3" cy="1140.3" r="26.3" fill="url(#gp)"/>
<circle cx="101.3" cy="1140.3" r="26.3" fill="url(#gshade)"/>
<circle cx="101.3" cy="1140.3" r="26.3" fill="url(#grimp)"/>
<text x="101.3" y="1148.9" font-size="28.5" font-weight="bold" fill="#ffff00" text-anchor="middle">O</text>
<circle cx="84.6" cy="1188" r="26.3" fill="url(#gg)"/>
<circle cx="84.6" cy="1188" r="26.3" fill="url(#gshade)"/>
<circle cx="84.6" cy="1188" r="26.3" fill="url(#grimg)"/>
<text x="84.6" y="1196.6" font-size="28.5" font-weight="bold" fill="#000" text-anchor="middle">C</text>
<circle cx="197.5" cy="1006" r="26.3" fill="url(#gp)"/>
<circle cx="197.5" cy="1006" r="26.3" fill="url(#gshade)"/>
<circle cx="197.5" cy="1006" r="26.3" fill="url(#grimp)"/>
<text x="197.5" y="1014.6" font-size="28.5" font-weight="bold" fill="#ffff00" text-anchor="middle">Sn</text>
<polygon points="207,1257.7 216.9,1273.2 222.4,1267.2 231.4,1266.7 232.1,1261.7" fill="#123a62" fill-opacity="0.55" stroke="#6a8cb0" stroke-width="0.9" stroke-opacity="0.8"/>
<circle cx="223.5" cy="1238.7" r="26.3" fill="url(#gp)"/>
<circle cx="223.5" cy="1238.7" r="26.3" fill="url(#gshade)"/>
<circle cx="223.5" cy="1238.7" r="26.3" fill="url(#grimp)"/>
<text x="223.5" y="1247.3" font-size="28.5" font-weight="bold" fill="#ffff00" text-anchor="middle">Sn</text>
<circle cx="358.5" cy="1146" r="26.3" fill="url(#gg)"/>
<circle cx="358.5" cy="1146" r="26.3" fill="url(#gshade)"/>
<circle cx="358.5" cy="1146" r="26.3" fill="url(#grimg)"/>
<text x="358.5" y="1154.6" font-size="28.5" font-weight="bold" fill="#000" text-anchor="middle">Cu</text>
<g clip-path="url(#cp_e)"><rect x="624" y="981" width="618" height="361" fill="url(#gbg)"/>
<line x1="675.8" y1="1286.9" x2="688.4" y2="1286.9" stroke="#c3cedc" stroke-width="3.2"/>
<line x1="682.3" y1="1265.9" x2="688.4" y2="1265.9" stroke="#c3cedc" stroke-width="3.2"/>
<line x1="682.3" y1="1244.9" x2="688.4" y2="1244.9" stroke="#c3cedc" stroke-width="3.2"/>
<line x1="682.3" y1="1223.9" x2="688.4" y2="1223.9" stroke="#c3cedc" stroke-width="3.2"/>
<line x1="682.3" y1="1202.9" x2="688.4" y2="1202.9" stroke="#c3cedc" stroke-width="3.2"/>
<line x1="682.3" y1="1181.9" x2="688.4" y2="1181.9" stroke="#c3cedc" stroke-width="3.2"/>
<line x1="682.3" y1="1160.9" x2="688.4" y2="1160.9" stroke="#c3cedc" stroke-width="3.2"/>
<line x1="682.3" y1="1139.9" x2="688.4" y2="1139.9" stroke="#c3cedc" stroke-width="3.2"/>
<line x1="682.3" y1="1118.9" x2="688.4" y2="1118.9" stroke="#c3cedc" stroke-width="3.2"/>
<line x1="682.3" y1="1097.9" x2="688.4" y2="1097.9" stroke="#c3cedc" stroke-width="3.2"/>
<line x1="675.8" y1="1076.9" x2="688.4" y2="1076.9" stroke="#c3cedc" stroke-width="3.2"/>
<line x1="682.3" y1="1055.9" x2="688.4" y2="1055.9" stroke="#c3cedc" stroke-width="3.2"/>
<line x1="682.3" y1="1034.9" x2="688.4" y2="1034.9" stroke="#c3cedc" stroke-width="3.2"/>
<line x1="682.3" y1="1013.9" x2="688.4" y2="1013.9" stroke="#c3cedc" stroke-width="3.2"/>
<line x1="682.3" y1="992.9" x2="688.4" y2="992.9" stroke="#c3cedc" stroke-width="3.2"/>
<text transform="translate(673,1294.9) scale(0.72,1)" font-size="23" fill="#b4c2d4" text-anchor="end">0</text>
<text transform="translate(673,1084.9) scale(0.72,1)" font-size="23" fill="#b4c2d4" text-anchor="end">5</text>
<text transform="translate(643.2,1137) rotate(-90)" font-size="17" letter-spacing="1.6" fill="#8fa5bf" text-anchor="middle">cps/eV</text>
<line x1="698.2" y1="1290.5" x2="698.2" y2="1307.9" stroke="#c3cedc" stroke-width="3"/>
<line x1="715.8" y1="1290.5" x2="715.8" y2="1299.2" stroke="#c3cedc" stroke-width="3"/>
<line x1="733.4" y1="1290.5" x2="733.4" y2="1302.7" stroke="#c3cedc" stroke-width="3"/>
<line x1="751" y1="1290.5" x2="751" y2="1299.2" stroke="#c3cedc" stroke-width="3"/>
<line x1="768.6" y1="1290.5" x2="768.6" y2="1302.7" stroke="#c3cedc" stroke-width="3"/>
<line x1="786.2" y1="1290.5" x2="786.2" y2="1299.2" stroke="#c3cedc" stroke-width="3"/>
<line x1="803.8" y1="1290.5" x2="803.8" y2="1302.7" stroke="#c3cedc" stroke-width="3"/>
<line x1="821.4" y1="1290.5" x2="821.4" y2="1299.2" stroke="#c3cedc" stroke-width="3"/>
<line x1="839" y1="1290.5" x2="839" y2="1302.7" stroke="#c3cedc" stroke-width="3"/>
<line x1="856.6" y1="1290.5" x2="856.6" y2="1299.2" stroke="#c3cedc" stroke-width="3"/>
<line x1="874.2" y1="1290.5" x2="874.2" y2="1307.9" stroke="#c3cedc" stroke-width="3"/>
<line x1="891.8" y1="1290.5" x2="891.8" y2="1299.2" stroke="#c3cedc" stroke-width="3"/>
<line x1="909.4" y1="1290.5" x2="909.4" y2="1302.7" stroke="#c3cedc" stroke-width="3"/>
<line x1="927" y1="1290.5" x2="927" y2="1299.2" stroke="#c3cedc" stroke-width="3"/>
<line x1="944.6" y1="1290.5" x2="944.6" y2="1302.7" stroke="#c3cedc" stroke-width="3"/>
<line x1="962.2" y1="1290.5" x2="962.2" y2="1299.2" stroke="#c3cedc" stroke-width="3"/>
<line x1="979.8" y1="1290.5" x2="979.8" y2="1302.7" stroke="#c3cedc" stroke-width="3"/>
<line x1="997.4" y1="1290.5" x2="997.4" y2="1299.2" stroke="#c3cedc" stroke-width="3"/>
<line x1="1015" y1="1290.5" x2="1015" y2="1302.7" stroke="#c3cedc" stroke-width="3"/>
<line x1="1032.6" y1="1290.5" x2="1032.6" y2="1299.2" stroke="#c3cedc" stroke-width="3"/>
<line x1="1050.2" y1="1290.5" x2="1050.2" y2="1307.9" stroke="#c3cedc" stroke-width="3"/>
<line x1="1067.8" y1="1290.5" x2="1067.8" y2="1299.2" stroke="#c3cedc" stroke-width="3"/>
<line x1="1085.4" y1="1290.5" x2="1085.4" y2="1302.7" stroke="#c3cedc" stroke-width="3"/>
<line x1="1103" y1="1290.5" x2="1103" y2="1299.2" stroke="#c3cedc" stroke-width="3"/>
<line x1="1120.6" y1="1290.5" x2="1120.6" y2="1302.7" stroke="#c3cedc" stroke-width="3"/>
<line x1="1138.2" y1="1290.5" x2="1138.2" y2="1299.2" stroke="#c3cedc" stroke-width="3"/>
<line x1="1155.8" y1="1290.5" x2="1155.8" y2="1302.7" stroke="#c3cedc" stroke-width="3"/>
<line x1="1173.4" y1="1290.5" x2="1173.4" y2="1299.2" stroke="#c3cedc" stroke-width="3"/>
<line x1="1191" y1="1290.5" x2="1191" y2="1302.7" stroke="#c3cedc" stroke-width="3"/>
<line x1="1208.6" y1="1290.5" x2="1208.6" y2="1299.2" stroke="#c3cedc" stroke-width="3"/>
<line x1="1226.2" y1="1290.5" x2="1226.2" y2="1307.9" stroke="#c3cedc" stroke-width="3"/>
<text transform="translate(698.2,1332.2) scale(0.72,1)" font-size="23" fill="#b4c2d4" text-anchor="middle">0</text>
<text transform="translate(874.2,1332.2) scale(0.72,1)" font-size="23" fill="#b4c2d4" text-anchor="middle">5</text>
<text transform="translate(1050.2,1332.2) scale(0.72,1)" font-size="23" fill="#b4c2d4" text-anchor="middle">10</text>
<text transform="translate(1226.2,1332.2) scale(0.72,1)" font-size="23" fill="#b4c2d4" text-anchor="middle">15</text>
<path d="M695.3,1287.5 L695.3,1285.3 L695.55,1285.3 L695.8,1283.9 L696.05,1283.88 L696.3,1283.65 L696.55,1281.83 L696.8,1273.71 L697.05,1251.18 L697.3,1209.36 L697.55,1154.05 L697.8,1099.15 L698.05,1056.73 L698.3,1030.84 L698.55,1018.62 L698.8,1014.58 L699.05,1013.91 L699.3,1013.9 L699.55,1014.3 L699.8,1017.33 L700.05,1027.47 L700.3,1050.25 L700.55,1089.41 L700.8,1142.56 L701.05,1198.98 L701.3,1244.27 L701.55,1270.68 L701.8,1280.97 L702.05,1283.51 L702.3,1283.86 L702.55,1283.86 L702.8,1283.84 L703.05,1283.82 L703.3,1283.8 L703.55,1283.7 L703.8,1283.6 L704.05,1283.49 L704.3,1283.37 L704.55,1283.23 L704.8,1283.05 L705.05,1282.91 L705.3,1282.72 L705.55,1282.41 L705.8,1281.94 L706.05,1281.28 L706.3,1280.39 L706.55,1279.19 L706.8,1277.37 L707.05,1275.41 L707.3,1273.43 L707.55,1271.54 L707.8,1269.91 L708.05,1268.66 L708.3,1268.3 L708.55,1268.56 L708.8,1269.3 L709.05,1270.44 L709.3,1271.84 L709.55,1273.36 L709.8,1274.76 L710.05,1275.88 L710.3,1276.8 L710.55,1277.5 L710.8,1277.96 L711.05,1278.23 L711.3,1278.34 L711.55,1278.46 L711.8,1278.5 L712.05,1278.49 L712.3,1278.44 L712.55,1278.37 L712.8,1278.29 L713.05,1278.52 L713.3,1278.97 L713.55,1279.4 L713.8,1279.84 L714.05,1280.26 L714.3,1280.68 L714.55,1280.96 L714.8,1280.72 L715.05,1279.46 L715.3,1276.28 L715.55,1271.28 L715.8,1265.3 L716.05,1259.68 L716.3,1255.64 L716.55,1253.28 L716.8,1252.23 L717.05,1252 L717.3,1252.12 L717.55,1252.33 L717.8,1252.46 L718.05,1252.6 L718.3,1253.26 L718.55,1254.95 L718.8,1258.12 L719.05,1262.89 L719.3,1268.69 L719.55,1274.44 L719.8,1278.76 L720.05,1281.18 L720.3,1282.11 L720.55,1282.37 L720.8,1282.43 L721.05,1282.61 L721.3,1282.9 L721.55,1283.2 L721.8,1283.49 L722.05,1283.78 L722.3,1284.07 L722.55,1284.29 L722.8,1284.24 L723.05,1284.19 L723.3,1284.14 L723.55,1284.08 L723.8,1284.03 L724.05,1283.98 L724.3,1283.6 L724.55,1283.13 L724.8,1282.67 L725.05,1282.2 L725.3,1281.74 L725.55,1281.27 L725.8,1281.14 L726.05,1281.49 L726.3,1281.84 L726.55,1282.18 L726.8,1282.52 L727.05,1282.85 L727.3,1283.16 L727.55,1283.03 L727.8,1282.86 L728.05,1282.64 L728.3,1282.35 L728.55,1281.96 L728.8,1281.45 L729.05,1280.94 L729.3,1280.35 L729.55,1279.6 L729.8,1278.67 L730.05,1277.6 L730.3,1276.43 L730.55,1275.15 L730.8,1273.65 L731.05,1272.26 L731.3,1271.06 L731.55,1270.12 L731.8,1269.53 L732.05,1269.31 L732.3,1269.65 L732.55,1270.4 L732.8,1271.45 L733.05,1272.75 L733.3,1274.2 L733.55,1275.72 L733.8,1277.17 L734.05,1278.46 L734.3,1279.63 L734.55,1280.63 L734.8,1281.46 L735.05,1282.12 L735.3,1282.61 L735.55,1283.03 L735.8,1283.35 L736.05,1283.58 L736.3,1283.74 L736.55,1283.86 L736.8,1283.95 L737.05,1283.87 L737.3,1283.67 L737.55,1283.47 L737.8,1283.26 L738.05,1283.05 L738.3,1282.83 L738.55,1282.68 L738.8,1282.76 L739.05,1282.85 L739.3,1282.93 L739.55,1283.01 L739.8,1283.1 L740.05,1283.18 L740.3,1283.22 L740.55,1283.25 L740.8,1283.28 L741.05,1283.31 L741.3,1283.34 L741.55,1283.37 L741.8,1283.29 L742.05,1283.03 L742.3,1282.77 L742.55,1282.51 L742.8,1282.26 L743.05,1282 L743.3,1281.74 L743.55,1281.81 L743.8,1281.87 L744.05,1281.94 L744.3,1282.01 L744.55,1282.07 L744.8,1282.14 L745.05,1282.3 L745.3,1282.51 L745.55,1282.72 L745.8,1282.94 L746.05,1283.15 L746.3,1283.37 L746.55,1283.54 L746.8,1283.53 L747.05,1283.53 L747.3,1283.53 L747.55,1283.52 L747.8,1283.52 L748.05,1283.52 L748.3,1283.71 L748.55,1283.95 L748.8,1284.2 L749.05,1284.44 L749.3,1284.68 L749.55,1284.92 L749.8,1285.02 L750.05,1284.9 L750.3,1284.78 L750.55,1284.65 L750.8,1284.53 L751.05,1284.41 L751.3,1284.29 L751.55,1284.13 L751.8,1283.98 L752.05,1283.82 L752.3,1283.66 L752.55,1283.5 L752.8,1283.35 L753.05,1283.31 L753.3,1283.34 L753.55,1283.38 L753.8,1283.41 L754.05,1283.45 L754.3,1283.49 L754.55,1283.49 L754.8,1283.38 L755.05,1283.27 L755.3,1283.17 L755.55,1283.06 L755.8,1282.95 L756.05,1282.84 L756.3,1282.85 L756.55,1282.88 L756.8,1282.92 L757.05,1282.96 L757.3,1282.99 L757.55,1283.03 L757.8,1283.21 L758.05,1283.59 L758.3,1283.98 L758.55,1284.36 L758.8,1284.75 L759.05,1285.13 L759.3,1285.3 L759.55,1285.16 L759.8,1284.81 L760.05,1284.45 L760.3,1284.1 L760.55,1283.74 L760.8,1283.39 L761.05,1283.4 L761.3,1283.67 L761.55,1283.94 L761.8,1284.2 L762.05,1284.47 L762.3,1284.74 L762.55,1284.88 L762.8,1284.54 L763.05,1284.2 L763.3,1283.85 L763.55,1283.51 L763.8,1283.17 L764.05,1282.83 L764.3,1282.71 L764.55,1282.65 L764.8,1282.58 L765.05,1282.52 L765.3,1282.46 L765.55,1282.4 L765.8,1282.38 L766.05,1282.42 L766.3,1282.46 L766.55,1282.5 L766.8,1282.55 L767.05,1282.59 L767.3,1282.63 L767.55,1282.37 L767.8,1282.12 L768.05,1281.86 L768.3,1281.6 L768.55,1281.35 L768.8,1281.09 L769.05,1281.3 L769.3,1281.81 L769.55,1282.33 L769.8,1282.85 L770.05,1283.37 L770.3,1283.88 L770.55,1284.3 L770.8,1284.29 L771.05,1284.29 L771.3,1284.29 L771.55,1284.28 L771.8,1284.28 L772.05,1284.27 L772.3,1284.18 L772.55,1284.06 L772.8,1283.95 L773.05,1283.83 L773.3,1283.72 L773.55,1283.6 L773.8,1283.56 L774.05,1283.63 L774.3,1283.71 L774.55,1283.78 L774.8,1283.86 L775.05,1283.93 L775.3,1284.01 L775.55,1283.94 L775.8,1283.87 L776.05,1283.8 L776.3,1283.73 L776.55,1283.66 L776.8,1283.59 L777.05,1283.64 L777.3,1283.77 L777.55,1283.89 L777.8,1284.02 L778.05,1284.14 L778.3,1284.27 L778.55,1284.34 L778.8,1284.22 L779.05,1284.09 L779.3,1283.97 L779.55,1283.84 L779.8,1283.72 L780.05,1283.6 L780.3,1283.67 L780.55,1283.79 L780.8,1283.91 L781.05,1284.03 L781.3,1284.15 L781.55,1284.27 L781.8,1284.33 L782.05,1284.29 L782.3,1284.26 L782.55,1284.22 L782.8,1284.18 L783.05,1284.15 L783.3,1284.11 L783.55,1284.01 L783.8,1283.91 L784.05,1283.82 L784.3,1283.72 L784.55,1283.62 L784.8,1283.52 L785.05,1283.53 L785.3,1283.61 L785.55,1283.69 L785.8,1283.77 L786.05,1283.85 L786.3,1283.93 L786.55,1283.98 L786.8,1283.89 L787.05,1283.81 L787.3,1283.72 L787.55,1283.63 L787.8,1283.55 L788.05,1283.46 L788.3,1283.53 L788.55,1283.65 L788.8,1283.77 L789.05,1283.88 L789.3,1284 L789.55,1284.12 L789.8,1284.1 L790.05,1283.88 L790.3,1283.66 L790.55,1283.43 L790.8,1283.21 L791.05,1282.99 L791.3,1282.77 L791.55,1282.85 L791.8,1282.93 L792.05,1283.01 L792.3,1283.09 L792.55,1283.17 L792.8,1283.25 L793.05,1283.27 L793.3,1283.25 L793.55,1283.23 L793.8,1283.21 L794.05,1283.19 L794.3,1283.17 L794.55,1283.2 L794.8,1283.46 L795.05,1283.71 L795.3,1283.97 L795.55,1284.22 L795.8,1284.48 L796.05,1284.73 L796.3,1284.75 L796.55,1284.72 L796.8,1284.68 L797.05,1284.64 L797.3,1284.61 L797.55,1284.57 L797.8,1284.57 L798.05,1284.63 L798.3,1284.69 L798.55,1284.75 L798.8,1284.82 L799.05,1284.88 L799.3,1284.94 L799.55,1284.94 L799.8,1284.95 L800.05,1284.95 L800.3,1284.95 L800.55,1284.95 L800.8,1284.94 L801.05,1284.92 L801.3,1284.89 L801.55,1284.85 L801.8,1284.82 L802.05,1284.78 L802.3,1284.75 L802.55,1284.73 L802.8,1284.8 L803.05,1284.86 L803.3,1284.92 L803.55,1284.99 L803.8,1285.05 L804.05,1285.12 L804.3,1284.87 L804.55,1284.55 L804.8,1284.22 L805.05,1283.9 L805.3,1283.57 L805.55,1283.24 L805.8,1283.06 L806.05,1283.11 L806.3,1283.15 L806.55,1283.2 L806.8,1283.24 L807.05,1283.29 L807.3,1283.34 L807.55,1283.4 L807.8,1283.46 L808.05,1283.53 L808.3,1283.59 L808.55,1283.65 L808.8,1283.72 L809.05,1283.77 L809.3,1283.82 L809.55,1283.86 L809.8,1283.91 L810.05,1283.95 L810.3,1284 L810.55,1284.02 L810.8,1283.98 L811.05,1283.94 L811.3,1283.89 L811.55,1283.83 L811.8,1283.76 L812.05,1283.67 L812.3,1283.43 L812.55,1283.14 L812.8,1282.83 L813.05,1282.48 L813.3,1282.08 L813.55,1281.62 L813.8,1281.13 L814.05,1280.6 L814.3,1279.98 L814.55,1279.25 L814.8,1278.4 L815.05,1277.42 L815.3,1276.29 L815.55,1275.12 L815.8,1273.79 L816.05,1272.28 L816.3,1270.6 L816.55,1268.74 L816.8,1266.72 L817.05,1264.18 L817.3,1261.27 L817.55,1258.23 L817.8,1255.12 L818.05,1251.96 L818.3,1248.8 L818.55,1245.87 L818.8,1243.73 L819.05,1241.76 L819.3,1240.02 L819.55,1238.55 L819.8,1237.39 L820.05,1236.59 L820.3,1236.19 L820.55,1236.19 L820.8,1236.6 L821.05,1237.4 L821.3,1238.58 L821.55,1240.11 L821.8,1241.72 L822.05,1243.24 L822.3,1244.96 L822.55,1246.82 L822.8,1248.77 L823.05,1250.74 L823.3,1252.67 L823.55,1254.53 L823.8,1256.24 L824.05,1257.77 L824.3,1259.09 L824.55,1260.16 L824.8,1260.97 L825.05,1261.57 L825.3,1261.99 L825.55,1262.18 L825.8,1262.16 L826.05,1261.96 L826.3,1261.63 L826.55,1261.25 L826.8,1260.99 L827.05,1260.72 L827.3,1260.49 L827.55,1260.33 L827.8,1260.27 L828.05,1260.34 L828.3,1260.46 L828.55,1260.72 L828.8,1261.12 L829.05,1261.67 L829.3,1262.35 L829.55,1263.13 L829.8,1264.03 L830.05,1265.02 L830.3,1266.04 L830.55,1267.06 L830.8,1268.04 L831.05,1268.97 L831.3,1269.82 L831.55,1270.59 L831.8,1271.25 L832.05,1271.84 L832.3,1272.39 L832.55,1272.85 L832.8,1273.22 L833.05,1273.45 L833.3,1273.57 L833.55,1273.65 L833.8,1273.7 L834.05,1273.73 L834.3,1273.76 L834.55,1273.83 L834.8,1274.09 L835.05,1274.36 L835.3,1274.67 L835.55,1275.01 L835.8,1275.39 L836.05,1275.79 L836.3,1275.9 L836.55,1275.95 L836.8,1276.03 L837.05,1276.14 L837.3,1276.25 L837.55,1276.37 L837.8,1276.85 L838.05,1277.85 L838.3,1278.82 L838.55,1279.76 L838.8,1280.68 L839.05,1281.56 L839.3,1282.42 L839.55,1281.86 L839.8,1281.28 L840.05,1280.7 L840.3,1280.09 L840.55,1279.49 L840.8,1278.87 L841.05,1278.93 L841.3,1279.43 L841.55,1279.91 L841.8,1280.38 L842.05,1280.84 L842.3,1281.28 L842.55,1281.6 L842.8,1281.46 L843.05,1281.31 L843.3,1281.17 L843.55,1281.02 L843.8,1280.88 L844.05,1280.74 L844.3,1281.28 L844.55,1281.99 L844.8,1282.68 L845.05,1283.37 L845.3,1284.04 L845.55,1284.71 L845.8,1284.96 L846.05,1284.6 L846.3,1284.24 L846.55,1283.9 L846.8,1283.56 L847.05,1283.22 L847.3,1282.89 L847.55,1282.91 L847.8,1282.92 L848.05,1282.93 L848.3,1282.95 L848.55,1282.97 L848.8,1282.99 L849.05,1283.03 L849.3,1283.09 L849.55,1283.15 L849.8,1283.21 L850.05,1283.25 L850.3,1283.24 L850.55,1283.26 L850.8,1283.35 L851.05,1283.45 L851.3,1283.54 L851.55,1283.64 L851.8,1283.74 L852.05,1283.83 L852.3,1283.73 L852.55,1283.57 L852.8,1283.42 L853.05,1283.26 L853.3,1283.11 L853.55,1282.95 L853.8,1282.86 L854.05,1282.86 L854.3,1282.86 L854.55,1282.86 L854.8,1282.86 L855.05,1282.87 L855.3,1282.87 L855.55,1282.93 L855.8,1283 L856.05,1283.06 L856.3,1283.12 L856.55,1283.19 L856.8,1283.25 L857.05,1283.39 L857.3,1283.59 L857.55,1283.78 L857.8,1283.98 L858.05,1284.17 L858.3,1284.37 L858.55,1284.48 L858.8,1284.28 L859.05,1284.08 L859.3,1283.88 L859.55,1283.68 L859.8,1283.48 L860.05,1283.28 L860.3,1283.28 L860.55,1283.33 L860.8,1283.38 L861.05,1283.42 L861.3,1283.47 L861.55,1283.52 L861.8,1283.6 L862.05,1283.72 L862.3,1283.85 L862.55,1283.98 L862.8,1284.1 L863.05,1284.23 L863.3,1284.35 L863.55,1284.56 L863.8,1284.77 L864.05,1284.98 L864.3,1285.19 L864.55,1285.3 L864.8,1285.3 L865.05,1285.3 L865.3,1284.92 L865.55,1284.43 L865.8,1283.94 L866.05,1283.46 L866.3,1282.97 L866.55,1282.6 L866.8,1282.67 L867.05,1282.73 L867.3,1282.8 L867.55,1282.87 L867.8,1282.94 L868.05,1283.01 L868.3,1282.91 L868.55,1282.77 L868.8,1282.63 L869.05,1282.48 L869.3,1282.34 L869.55,1282.2 L869.8,1282.31 L870.05,1282.79 L870.3,1283.26 L870.55,1283.74 L870.8,1284.22 L871.05,1284.7 L871.3,1285.17 L871.55,1285.11 L871.8,1285.05 L872.05,1284.99 L872.3,1284.93 L872.55,1284.87 L872.8,1284.8 L873.05,1284.83 L873.3,1284.91 L873.55,1285 L873.8,1285.08 L874.05,1285.17 L874.3,1285.25 L874.55,1285.26 L874.8,1284.96 L875.05,1284.66 L875.3,1284.36 L875.55,1284.07 L875.8,1283.77 L876.05,1283.47 L876.3,1283.3 L876.55,1283.16 L876.8,1283.02 L877.05,1282.88 L877.3,1282.74 L877.55,1282.6 L877.8,1282.65 L878.05,1282.99 L878.3,1283.33 L878.55,1283.67 L878.8,1284.01 L879.05,1284.35 L879.3,1284.69 L879.55,1284.42 L879.8,1284.15 L880.05,1283.88 L880.3,1283.61 L880.55,1283.33 L880.8,1283.06 L881.05,1283.08 L881.3,1283.29 L881.55,1283.49 L881.8,1283.7 L882.05,1283.89 L882.3,1284.08 L882.55,1284.21 L882.8,1284.08 L883.05,1283.94 L883.3,1283.79 L883.55,1283.61 L883.8,1283.42 L884.05,1283.19 L884.3,1283.09 L884.55,1283 L884.8,1282.86 L885.05,1282.69 L885.3,1282.47 L885.55,1282.21 L885.8,1281.82 L886.05,1281.27 L886.3,1280.68 L886.55,1280.04 L886.8,1279.38 L887.05,1278.68 L887.3,1277.97 L887.55,1277.42 L887.8,1276.87 L888.05,1276.35 L888.3,1275.86 L888.55,1275.42 L888.8,1275.05 L889.05,1274.53 L889.3,1273.96 L889.55,1273.48 L889.8,1273.1 L890.05,1272.83 L890.3,1272.66 L890.55,1272.68 L890.8,1273.13 L891.05,1273.66 L891.3,1274.27 L891.55,1274.94 L891.8,1275.66 L892.05,1276.41 L892.3,1277.06 L892.55,1277.7 L892.8,1278.32 L893.05,1278.93 L893.3,1279.51 L893.55,1280.06 L893.8,1280.58 L894.05,1281.07 L894.3,1281.52 L894.55,1281.92 L894.8,1282.27 L895.05,1282.58 L895.3,1282.85 L895.55,1283.12 L895.8,1283.36 L896.05,1283.57 L896.3,1283.75 L896.55,1283.91 L896.8,1284.05 L897.05,1284.11 L897.3,1284.12 L897.55,1284.12 L897.8,1284.11 L898.05,1284.1 L898.3,1284.07 L898.55,1284.06 L898.8,1284.07 L899.05,1284.09 L899.3,1284.1 L899.55,1284.11 L899.8,1284.11 L900.05,1284.12 L900.3,1284.16 L900.55,1284.2 L900.8,1284.24 L901.05,1284.28 L901.3,1284.32 L901.55,1284.35 L901.8,1284.46 L902.05,1284.67 L902.3,1284.87 L902.55,1285.08 L902.8,1285.28 L903.05,1285.3 L903.3,1285.3 L903.55,1285.24 L903.8,1284.8 L904.05,1284.35 L904.3,1283.9 L904.55,1283.45 L904.8,1283 L905.05,1282.95 L905.3,1283.17 L905.55,1283.4 L905.8,1283.62 L906.05,1283.84 L906.3,1284.06 L906.55,1284.24 L906.8,1284.23 L907.05,1284.22 L907.3,1284.21 L907.55,1284.2 L907.8,1284.19 L908.05,1284.18 L908.3,1284.12 L908.55,1284.04 L908.8,1283.97 L909.05,1283.9 L909.3,1283.82 L909.55,1283.75 L909.8,1283.65 L910.05,1283.5 L910.3,1283.35 L910.55,1283.2 L910.8,1283.05 L911.05,1282.9 L911.3,1282.75 L911.55,1283.07 L911.8,1283.38 L912.05,1283.7 L912.3,1284.01 L912.55,1284.33 L912.8,1284.65 L913.05,1284.9 L913.3,1285.12 L913.55,1285.3 L913.8,1285.3 L914.05,1285.3 L914.3,1285.3 L914.55,1285.3 L914.8,1285.3 L915.05,1284.86 L915.3,1284.27 L915.55,1283.67 L915.8,1283.08 L916.05,1282.48 L916.3,1282.79 L916.55,1283.31 L916.8,1283.84 L917.05,1284.36 L917.3,1284.88 L917.55,1285.3 L917.8,1285.3 L918.05,1285.3 L918.3,1285.16 L918.55,1284.92 L918.8,1284.67 L919.05,1284.42 L919.3,1284.16 L919.55,1284.06 L919.8,1283.95 L920.05,1283.83 L920.3,1283.7 L920.55,1283.57 L920.8,1283.43 L921.05,1283.25 L921.3,1283.04 L921.55,1282.83 L921.8,1282.61 L922.05,1282.41 L922.3,1282.21 L922.55,1282.06 L922.8,1282.09 L923.05,1282.14 L923.3,1282.2 L923.55,1282.28 L923.8,1282.39 L924.05,1282.51 L924.3,1282.56 L924.55,1282.61 L924.8,1282.68 L925.05,1282.77 L925.3,1282.87 L925.55,1282.99 L925.8,1283.04 L926.05,1282.99 L926.3,1282.94 L926.55,1282.9 L926.8,1282.86 L927.05,1282.81 L927.3,1282.76 L927.55,1283.19 L927.8,1283.62 L928.05,1284.03 L928.3,1284.44 L928.55,1284.84 L928.8,1285.23 L929.05,1285.26 L929.3,1285.04 L929.55,1284.81 L929.8,1284.58 L930.05,1284.35 L930.3,1284.11 L930.55,1283.9 L930.8,1283.87 L931.05,1283.84 L931.3,1283.81 L931.55,1283.77 L931.8,1283.73 L932.05,1283.69 L932.3,1283.77 L932.55,1283.88 L932.8,1284 L933.05,1284.11 L933.3,1284.22 L933.55,1284.33 L933.8,1284.43 L934.05,1284.51 L934.3,1284.6 L934.55,1284.68 L934.8,1284.77 L935.05,1284.85 L935.3,1284.94 L935.55,1284.87 L935.8,1284.81 L936.05,1284.74 L936.3,1284.68 L936.55,1284.61 L936.8,1284.55 L937.05,1284.48 L937.3,1284.41 L937.55,1284.35 L937.8,1284.28 L938.05,1284.21 L938.3,1284.15 L938.55,1284.09 L938.8,1284.07 L939.05,1284.05 L939.3,1284.04 L939.55,1284.02 L939.8,1284 L940.05,1283.99 L940.3,1284.06 L940.55,1284.16 L940.8,1284.27 L941.05,1284.37 L941.3,1284.47 L941.55,1284.57 L941.8,1284.62 L942.05,1284.58 L942.3,1284.54 L942.55,1284.5 L942.8,1284.46 L943.05,1284.42 L943.3,1284.38 L943.55,1284.3 L943.8,1284.22 L944.05,1284.14 L944.3,1284.06 L944.55,1283.97 L944.8,1283.89 L945.05,1283.8 L945.3,1283.71 L945.55,1283.61 L945.8,1283.51 L946.05,1283.42 L946.3,1283.32 L946.55,1283.31 L946.8,1283.6 L947.05,1283.9 L947.3,1284.2 L947.55,1284.5 L947.8,1284.8 L948.05,1285.1 L948.3,1284.91 L948.55,1284.61 L948.8,1284.3 L949.05,1284 L949.3,1283.69 L949.55,1283.39 L949.8,1283.29 L950.05,1283.49 L950.3,1283.7 L950.55,1283.91 L950.8,1284.12 L951.05,1284.33 L951.3,1284.53 L951.55,1284.5 L951.8,1284.46 L952.05,1284.43 L952.3,1284.4 L952.55,1284.36 L952.8,1284.33 L953.05,1284.24 L953.3,1284.12 L953.55,1284 L953.8,1283.88 L954.05,1283.76 L954.3,1283.64 L954.55,1283.6 L954.8,1283.9 L955.05,1284.2 L955.3,1284.49 L955.55,1284.79 L955.8,1285.09 L956.05,1285.3 L956.3,1285.3 L956.55,1285.3 L956.8,1285.25 L957.05,1285.18 L957.3,1285.1 L957.55,1285.03 L957.8,1284.99 L958.05,1285.01 L958.3,1285.02 L958.55,1285.03 L958.8,1285.04 L959.05,1285.06 L959.3,1285.07 L959.55,1284.92 L959.8,1284.78 L960.05,1284.63 L960.3,1284.49 L960.55,1284.34 L960.8,1284.2 L961.05,1284.08 L961.3,1283.99 L961.55,1283.9 L961.8,1283.8 L962.05,1283.71 L962.3,1283.61 L962.55,1283.56 L962.8,1283.66 L963.05,1283.75 L963.3,1283.85 L963.55,1283.95 L963.8,1284.05 L964.05,1284.15 L964.3,1284.21 L964.55,1284.26 L964.8,1284.31 L965.05,1284.35 L965.3,1284.4 L965.55,1284.45 L965.8,1284.56 L966.05,1284.77 L966.3,1284.98 L966.55,1285.19 L966.8,1285.3 L967.05,1285.3 L967.3,1285.3 L967.55,1285.3 L967.8,1285.17 L968.05,1284.85 L968.3,1284.52 L968.55,1284.19 L968.8,1283.87 L969.05,1283.87 L969.3,1284.11 L969.55,1284.33 L969.8,1284.56 L970.05,1284.78 L970.3,1284.99 L970.55,1285.12 L970.8,1284.92 L971.05,1284.71 L971.3,1284.47 L971.55,1284.21 L971.8,1283.91 L972.05,1283.57 L972.3,1283.25 L972.55,1282.88 L972.8,1282.42 L973.05,1281.85 L973.3,1281.13 L973.55,1280.24 L973.8,1279.1 L974.05,1277.64 L974.3,1275.88 L974.55,1273.78 L974.8,1271.29 L975.05,1268.34 L975.3,1264.87 L975.55,1261.08 L975.8,1256.65 L976.05,1251.5 L976.3,1245.59 L976.55,1238.85 L976.8,1231.23 L977.05,1222.84 L977.3,1213.6 L977.55,1203.43 L977.8,1192.35 L978.05,1180.41 L978.3,1167.66 L978.55,1154.06 L978.8,1139.27 L979.05,1124.04 L979.3,1108.53 L979.55,1092.94 L979.8,1077.48 L980.05,1062.38 L980.3,1048.27 L980.55,1035.08 L980.8,1022.96 L981.05,1012.13 L981.3,1002.8 L981.55,995.15 L981.8,989.36 L982.05,985.56 L982.3,983.79 L982.55,984.1 L982.8,986.48 L983.05,990.88 L983.3,997.22 L983.55,1005.49 L983.8,1015.41 L984.05,1026.78 L984.3,1039.4 L984.55,1053.05 L984.8,1067.47 L985.05,1082.12 L985.3,1096.87 L985.55,1111.71 L985.8,1126.43 L986.05,1140.83 L986.3,1154.76 L986.55,1168.21 L986.8,1181.45 L987.05,1193.87 L987.3,1205.41 L987.55,1216.04 L987.8,1225.74 L988.05,1234.53 L988.3,1241.94 L988.55,1248.37 L988.8,1253.99 L989.05,1258.85 L989.3,1263.01 L989.55,1266.53 L989.8,1269.68 L990.05,1272.61 L990.3,1275.09 L990.55,1277.19 L990.8,1278.96 L991.05,1280.44 L991.3,1281.68 L991.55,1282.36 L991.8,1282.88 L992.05,1283.26 L992.3,1283.54 L992.55,1283.72 L992.8,1283.83 L993.05,1283.94 L993.3,1284.04 L993.55,1284.11 L993.8,1284.15 L994.05,1284.17 L994.3,1284.17 L994.55,1284.16 L994.8,1284.16 L995.05,1284.15 L995.3,1284.14 L995.55,1284.12 L995.8,1284.1 L996.05,1284.08 L996.3,1284.05 L996.55,1284.02 L996.8,1284 L997.05,1283.97 L997.3,1283.94 L997.55,1283.91 L997.8,1283.9 L998.05,1283.92 L998.3,1283.93 L998.55,1283.95 L998.8,1283.97 L999.05,1283.98 L999.3,1284 L999.55,1283.87 L999.8,1283.74 L1000.05,1283.61 L1000.3,1283.48 L1000.55,1283.34 L1000.8,1283.21 L1001.05,1283.16 L1001.3,1283.17 L1001.55,1283.18 L1001.8,1283.18 L1002.05,1283.18 L1002.3,1283.17 L1002.55,1283.23 L1002.8,1283.58 L1003.05,1283.91 L1003.3,1284.23 L1003.55,1284.53 L1003.8,1284.8 L1004.05,1285.04 L1004.3,1284.73 L1004.55,1284.25 L1004.8,1283.71 L1005.05,1283.11 L1005.3,1282.43 L1005.55,1281.66 L1005.8,1280.86 L1006.05,1280.05 L1006.3,1279.12 L1006.55,1278.05 L1006.8,1276.83 L1007.05,1275.45 L1007.3,1273.9 L1007.55,1272.32 L1007.8,1270.56 L1008.05,1268.65 L1008.3,1266.57 L1008.55,1264.35 L1008.8,1262.01 L1009.05,1259.41 L1009.3,1256.64 L1009.55,1253.83 L1009.8,1251.04 L1010.05,1248.3 L1010.3,1245.65 L1010.55,1243.25 L1010.8,1241.4 L1011.05,1239.78 L1011.3,1238.44 L1011.55,1237.42 L1011.8,1236.74 L1012.05,1236.42 L1012.3,1236.44 L1012.55,1236.84 L1012.8,1237.62 L1013.05,1238.76 L1013.3,1240.24 L1013.55,1242.03 L1013.8,1243.96 L1014.05,1245.91 L1014.3,1248.05 L1014.55,1250.33 L1014.8,1252.71 L1015.05,1255.15 L1015.3,1257.59 L1015.55,1260.08 L1015.8,1262.51 L1016.05,1264.83 L1016.3,1267.04 L1016.55,1269.1 L1016.8,1271 L1017.05,1272.76 L1017.3,1274.36 L1017.55,1275.79 L1017.8,1277.05 L1018.05,1278.16 L1018.3,1279.11 L1018.55,1279.92 L1018.8,1280.54 L1019.05,1281.05 L1019.3,1281.46 L1019.55,1281.78 L1019.8,1282.02 L1020.05,1282.2 L1020.3,1282.48 L1020.55,1282.77 L1020.8,1283.01 L1021.05,1283.23 L1021.3,1283.41 L1021.55,1283.58 L1021.8,1283.75 L1022.05,1283.95 L1022.3,1284.13 L1022.55,1284.3 L1022.8,1284.47 L1023.05,1284.64 L1023.3,1284.8 L1023.55,1284.77 L1023.8,1284.75 L1024.05,1284.72 L1024.3,1284.69 L1024.55,1284.66 L1024.8,1284.63 L1025.05,1284.59 L1025.3,1284.53 L1025.55,1284.48 L1025.8,1284.43 L1026.05,1284.38 L1026.3,1284.32 L1026.55,1284.29 L1026.8,1284.31 L1027.05,1284.34 L1027.3,1284.36 L1027.55,1284.39 L1027.8,1284.41 L1028.05,1284.44 L1028.3,1284.33 L1028.55,1284.19 L1028.8,1284.05 L1029.05,1283.9 L1029.3,1283.76 L1029.55,1283.62 L1029.8,1283.54 L1030.05,1283.55 L1030.3,1283.56 L1030.55,1283.56 L1030.8,1283.57 L1031.05,1283.58 L1031.3,1283.59 L1031.55,1283.72 L1031.8,1283.85 L1032.05,1283.98 L1032.3,1284.11 L1032.55,1284.24 L1032.8,1284.37 L1033.05,1284.32 L1033.3,1284.14 L1033.55,1283.97 L1033.8,1283.79 L1034.05,1283.62 L1034.3,1283.44 L1034.55,1283.36 L1034.8,1283.67 L1035.05,1283.97 L1035.3,1284.27 L1035.55,1284.57 L1035.8,1284.87 L1036.05,1285.18 L1036.3,1285.14 L1036.55,1285.03 L1036.8,1284.91 L1037.05,1284.8 L1037.3,1284.68 L1037.55,1284.57 L1037.8,1284.44 L1038.05,1284.29 L1038.3,1284.14 L1038.55,1284 L1038.8,1283.85 L1039.05,1283.71 L1039.3,1283.56 L1039.55,1283.7 L1039.8,1283.84 L1040.05,1283.98 L1040.3,1284.13 L1040.55,1284.27 L1040.8,1284.41 L1041.05,1284.45 L1041.3,1284.41 L1041.55,1284.38 L1041.8,1284.35 L1042.05,1284.32 L1042.3,1284.28 L1042.55,1284.32 L1042.8,1284.65 L1043.05,1284.98 L1043.3,1285.3 L1043.55,1285.3 L1043.8,1285.3 L1044.05,1285.3 L1044.3,1285.3 L1044.55,1285.3 L1044.8,1285.18 L1045.05,1284.76 L1045.3,1284.33 L1045.55,1283.91 L1045.8,1283.69 L1046.05,1283.79 L1046.3,1283.89 L1046.55,1283.99 L1046.8,1284.09 L1047.05,1284.19 L1047.3,1284.29 L1047.55,1284.35 L1047.8,1284.41 L1048.05,1284.46 L1048.3,1284.52 L1048.55,1284.58 L1048.8,1284.64 L1049.05,1284.68 L1049.3,1284.7 L1049.55,1284.73 L1049.8,1284.75 L1050.05,1284.78 L1050.3,1284.8 L1050.55,1284.84 L1050.8,1284.93 L1051.05,1285.02 L1051.3,1285.11 L1051.55,1285.2 L1051.8,1285.29 L1052.05,1285.3 L1052.3,1285.3 L1052.55,1285.2 L1052.8,1285.09 L1053.05,1284.98 L1053.3,1284.88 L1053.55,1284.77 L1053.8,1284.69 L1054.05,1284.65 L1054.3,1284.62 L1054.55,1284.58 L1054.8,1284.55 L1055.05,1284.51 L1055.3,1284.48 L1055.55,1284.43 L1055.8,1284.38 L1056.05,1284.33 L1056.3,1284.28 L1056.55,1284.24 L1056.8,1284.19 L1057.05,1284.11 L1057.3,1284.01 L1057.55,1283.9 L1057.8,1283.8 L1058.05,1283.7 L1058.3,1283.6 L1058.55,1283.55 L1058.8,1283.69 L1059.05,1283.84 L1059.3,1283.98 L1059.55,1284.13 L1059.8,1284.27 L1060.05,1284.41 L1060.3,1284.48 L1060.55,1284.53 L1060.8,1284.57 L1061.05,1284.62 L1061.3,1284.66 L1061.55,1284.71 L1061.8,1284.76 L1062.05,1284.82 L1062.3,1284.87 L1062.55,1284.93 L1062.8,1284.99 L1063.05,1285.05 L1063.3,1285.11 L1063.55,1285 L1063.8,1284.89 L1064.05,1284.79 L1064.3,1284.68 L1064.55,1284.57 L1064.8,1284.47 L1065.05,1284.51 L1065.3,1284.67 L1065.55,1284.82 L1065.8,1284.97 L1066.05,1285.12 L1066.3,1285.27 L1066.55,1285.3 L1066.8,1285.23 L1067.05,1285.09 L1067.3,1284.95 L1067.55,1284.81 L1067.8,1284.67 L1068.05,1284.53 L1068.3,1284.46 L1068.55,1284.41 L1068.8,1284.37 L1069.05,1284.32 L1069.3,1284.27 L1069.55,1284.22 L1069.8,1284.26 L1070.05,1284.44 L1070.3,1284.61 L1070.55,1284.79 L1070.8,1284.97 L1071.05,1285.14 L1071.3,1285.3 L1071.55,1285.08 L1071.8,1284.83 L1072.05,1284.59 L1072.3,1284.35 L1072.55,1284.11 L1072.8,1283.87 L1073.05,1283.84 L1073.3,1283.95 L1073.55,1284.06 L1073.8,1284.16 L1074.05,1284.27 L1074.3,1284.38 L1074.55,1284.5 L1074.8,1284.66 L1075.05,1284.81 L1075.3,1284.97 L1075.55,1285.13 L1075.8,1285.29 L1076.05,1285.3 L1076.3,1285.3 L1076.55,1285.08 L1076.8,1284.86 L1077.05,1284.65 L1077.3,1284.43 L1077.55,1284.21 L1077.8,1284.14 L1078.05,1284.28 L1078.3,1284.43 L1078.55,1284.57 L1078.8,1284.72 L1079.05,1284.87 L1079.3,1285.01 L1079.55,1284.7 L1079.8,1284.38 L1080.05,1284.06 L1080.3,1283.75 L1080.55,1283.43 L1080.8,1283.12 L1081.05,1283.14 L1081.3,1283.4 L1081.55,1283.65 L1081.8,1283.9 L1082.05,1284.16 L1082.3,1284.41 L1082.55,1284.61 L1082.8,1284.57 L1083.05,1284.52 L1083.3,1284.48 L1083.55,1284.44 L1083.8,1284.4 L1084.05,1284.36 L1084.3,1284.5 L1084.55,1284.7 L1084.8,1284.9 L1085.05,1285.09 L1085.3,1285.29 L1085.55,1285.3 L1085.8,1285.3 L1086.05,1285.3 L1086.3,1285.2 L1086.55,1285.03 L1086.8,1284.86 L1087.05,1284.7 L1087.3,1284.53 L1087.55,1284.56 L1087.8,1284.58 L1088.05,1284.61 L1088.3,1284.64 L1088.55,1284.66 L1088.8,1284.69 L1089.05,1284.67 L1089.3,1284.62 L1089.55,1284.58 L1089.8,1284.53 L1090.05,1284.48 L1090.3,1284.43 L1090.55,1284.41 L1090.8,1284.48 L1091.05,1284.55 L1091.3,1284.63 L1091.55,1284.7 L1091.8,1284.77 L1092.05,1284.85 L1092.3,1284.71 L1092.55,1284.52 L1092.8,1284.33 L1093.05,1284.14 L1093.3,1283.95 L1093.55,1283.76 L1093.8,1283.62 L1094.05,1283.58 L1094.3,1283.53 L1094.55,1283.48 L1094.8,1283.44 L1095.05,1283.39 L1095.3,1283.34 L1095.55,1283.62 L1095.8,1283.89 L1096.05,1284.16 L1096.3,1284.43 L1096.55,1284.7 L1096.8,1284.97 L1097.05,1285 L1097.3,1284.85 L1097.55,1284.71 L1097.8,1284.57 L1098.05,1284.43 L1098.3,1284.28 L1098.55,1284.2 L1098.8,1284.38 L1099.05,1284.55 L1099.3,1284.72 L1099.55,1284.89 L1099.8,1285.06 L1100.05,1285.23 L1100.3,1284.92 L1100.55,1284.48 L1100.8,1284.05 L1101.05,1283.61 L1101.3,1283.18 L1101.55,1282.75 L1101.8,1282.57 L1102.05,1282.79 L1102.3,1283.01 L1102.55,1283.23 L1102.8,1283.44 L1103.05,1283.66 L1103.3,1283.88 L1103.55,1283.99 L1103.8,1284.1 L1104.05,1284.2 L1104.3,1284.31 L1104.55,1284.42 L1104.8,1284.53 L1105.05,1284.6 L1105.3,1284.64 L1105.55,1284.68 L1105.8,1284.72 L1106.05,1284.76 L1106.3,1284.8 L1106.55,1284.81 L1106.8,1284.67 L1107.05,1284.54 L1107.3,1284.4 L1107.55,1284.26 L1107.8,1284.13 L1108.05,1283.99 L1108.3,1284.02 L1108.55,1284.1 L1108.8,1284.17 L1109.05,1284.24 L1109.3,1284.32 L1109.55,1284.39 L1109.8,1284.42 L1110.05,1284.39 L1110.3,1284.36 L1110.55,1284.33 L1110.8,1284.3 L1111.05,1284.27 L1111.3,1284.24 L1111.55,1284.49 L1111.8,1284.73 L1112.05,1284.97 L1112.3,1285.21 L1112.55,1285.3 L1112.8,1285.3 L1113.05,1285.3 L1113.3,1285.17 L1113.55,1284.78 L1113.8,1284.39 L1114.05,1284 L1114.3,1283.61 L1114.55,1283.28 L1114.8,1283.19 L1115.05,1283.09 L1115.3,1282.99 L1115.55,1282.9 L1115.8,1282.8 L1116.05,1282.71 L1116.3,1282.87 L1116.55,1283.09 L1116.8,1283.32 L1117.05,1283.54 L1117.3,1283.76 L1117.55,1283.99 L1117.8,1284.09 L1118.05,1284.01 L1118.3,1283.94 L1118.55,1283.86 L1118.8,1283.78 L1119.05,1283.7 L1119.3,1283.63 L1119.55,1283.58 L1119.8,1283.54 L1120.05,1283.49 L1120.3,1283.45 L1120.55,1283.4 L1120.8,1283.36 L1121.05,1283.54 L1121.3,1283.87 L1121.55,1284.2 L1121.8,1284.54 L1122.05,1284.87 L1122.3,1285.2 L1122.55,1285.3 L1122.8,1285.3 L1123.05,1285.3 L1123.3,1285.3 L1123.55,1285.3 L1123.8,1285.3 L1124.05,1285.3 L1124.3,1285.3 L1124.55,1285.3 L1124.8,1285.3 L1125.05,1285.3 L1125.3,1285.3 L1125.55,1285.3 L1125.8,1285.3 L1126.05,1285.3 L1126.3,1285.3 L1126.55,1285.3 L1126.8,1285.22 L1127.05,1284.94 L1127.3,1284.66 L1127.55,1284.54 L1127.8,1284.41 L1128.05,1284.28 L1128.3,1284.16 L1128.55,1284.03 L1128.8,1283.9 L1129.05,1283.94 L1129.3,1284.07 L1129.55,1284.21 L1129.8,1284.35 L1130.05,1284.48 L1130.3,1284.62 L1130.55,1284.73 L1130.8,1284.74 L1131.05,1284.76 L1131.3,1284.77 L1131.55,1284.78 L1131.8,1284.79 L1132.05,1284.8 L1132.3,1284.9 L1132.55,1285.02 L1132.8,1285.14 L1133.05,1285.26 L1133.3,1285.3 L1133.55,1285.3 L1133.8,1285.3 L1134.05,1285.3 L1134.3,1285.3 L1134.55,1285.3 L1134.8,1285.3 L1135.05,1285.3 L1135.3,1285.3 L1135.55,1285.3 L1135.8,1285.3 L1136.05,1285.3 L1136.3,1285.3 L1136.55,1285.3 L1136.8,1285.3 L1137.05,1285.3 L1137.3,1285.3 L1137.55,1284.94 L1137.8,1284.44 L1138.05,1283.93 L1138.3,1283.42 L1138.55,1283.07 L1138.8,1283.31 L1139.05,1283.55 L1139.3,1283.8 L1139.55,1284.04 L1139.8,1284.28 L1140.05,1284.53 L1140.3,1284.78 L1140.55,1285.05 L1140.8,1285.3 L1141.05,1285.3 L1141.3,1285.3 L1141.55,1285.3 L1141.8,1285.3 L1142.05,1285.3 L1142.3,1285.3 L1142.55,1285.02 L1142.8,1284.66 L1143.05,1284.3 L1143.3,1283.94 L1143.55,1284.04 L1143.8,1284.15 L1144.05,1284.25 L1144.3,1284.36 L1144.55,1284.46 L1144.8,1284.57 L1145.05,1284.63 L1145.3,1284.67 L1145.55,1284.71 L1145.8,1284.74 L1146.05,1284.78 L1146.3,1284.82 L1146.55,1284.85 L1146.8,1284.87 L1147.05,1284.89 L1147.3,1284.91 L1147.55,1284.92 L1147.8,1284.94 L1148.05,1284.96 L1148.3,1284.89 L1148.55,1284.8 L1148.8,1284.71 L1149.05,1284.62 L1149.3,1284.53 L1149.55,1284.44 L1149.8,1284.39 L1150.05,1284.39 L1150.3,1284.38 L1150.55,1284.38 L1150.8,1284.38 L1151.05,1284.38 L1151.3,1284.38 L1151.55,1284.68 L1151.8,1284.99 L1152.05,1285.29 L1152.3,1285.3 L1152.55,1285.3 L1152.8,1285.3 L1153.05,1285.3 L1153.3,1285.3 L1153.55,1284.75 L1153.8,1284.15 L1154.05,1283.55 L1154.3,1282.95 L1154.55,1282.56 L1154.8,1282.99 L1155.05,1283.42 L1155.3,1283.85 L1155.55,1284.28 L1155.8,1284.7 L1156.05,1285.13 L1156.3,1285.06 L1156.55,1284.85 L1156.8,1284.65 L1157.05,1284.45 L1157.3,1284.24 L1157.55,1284.04 L1157.8,1283.82 L1158.05,1283.57 L1158.3,1283.32 L1158.55,1283.08 L1158.8,1282.83 L1159.05,1282.59 L1159.3,1282.34 L1159.55,1282.76 L1159.8,1283.17 L1160.05,1283.59 L1160.3,1284 L1160.55,1284.42 L1160.8,1284.83 L1161.05,1284.92 L1161.3,1284.79 L1161.55,1284.66 L1161.8,1284.53 L1162.05,1284.4 L1162.3,1284.27 L1162.55,1284.17 L1162.8,1284.18 L1163.05,1284.19 L1163.3,1284.2 L1163.55,1284.21 L1163.8,1284.22 L1164.05,1284.23 L1164.3,1284.15 L1164.55,1284.05 L1164.8,1283.95 L1165.05,1283.85 L1165.3,1283.74 L1165.55,1283.64 L1165.8,1283.72 L1166.05,1284.07 L1166.3,1284.42 L1166.55,1284.77 L1166.8,1285.12 L1167.05,1285.3 L1167.3,1285.3 L1167.55,1285.3 L1167.8,1285.3 L1168.05,1285.3 L1168.3,1285.3 L1168.55,1285.3 L1168.8,1285.3 L1169.05,1285.21 L1169.3,1285.11 L1169.55,1285.01 L1169.8,1284.91 L1170.05,1284.81 L1170.3,1284.71 L1170.55,1284.66 L1170.8,1284.82 L1171.05,1284.97 L1171.3,1285.12 L1171.55,1285.28 L1171.8,1285.3 L1172.05,1285.3 L1172.3,1285.3 L1172.55,1285.3 L1172.8,1285.3 L1173.05,1285.3 L1173.3,1285.3 L1173.55,1285.3 L1173.8,1285.3 L1174.05,1285.3 L1174.3,1285.3 L1174.55,1285.3 L1174.8,1285.3 L1175.05,1285.3 L1175.3,1285.24 L1175.55,1285.09 L1175.8,1284.94 L1176.05,1284.79 L1176.3,1284.64 L1176.55,1284.49 L1176.8,1284.34 L1177.05,1284.2 L1177.3,1284.07 L1177.55,1283.94 L1177.8,1283.81 L1178.05,1283.68 L1178.3,1283.54 L1178.55,1283.51 L1178.8,1283.88 L1179.05,1284.25 L1179.3,1284.62 L1179.55,1284.99 L1179.8,1285.3 L1180.05,1285.3 L1180.3,1285.3 L1180.55,1285.15 L1180.8,1284.8 L1181.05,1284.44 L1181.3,1284.08 L1181.55,1283.72 L1181.8,1283.56 L1182.05,1283.7 L1182.3,1283.84 L1182.55,1283.98 L1182.8,1284.12 L1183.05,1284.26 L1183.3,1284.39 L1183.55,1284.29 L1183.8,1284.18 L1184.05,1284.07 L1184.3,1283.96 L1184.55,1283.85 L1184.8,1283.75 L1185.05,1283.8 L1185.3,1283.95 L1185.55,1284.11 L1185.8,1284.27 L1186.05,1284.43 L1186.3,1284.58 L1186.55,1284.69 L1186.8,1284.59 L1187.05,1284.49 L1187.3,1284.38 L1187.55,1284.28 L1187.8,1284.18 L1188.05,1284.08 L1188.3,1284.29 L1188.55,1284.57 L1188.8,1284.86 L1189.05,1285.15 L1189.3,1285.3 L1189.55,1285.3 L1189.8,1285.3 L1190.05,1285.3 L1190.3,1285.3 L1190.55,1285.19 L1190.8,1284.98 L1191.05,1284.78 L1191.3,1284.57 L1191.55,1284.53 L1191.8,1284.5 L1192.05,1284.46 L1192.3,1284.42 L1192.55,1284.38 L1192.8,1284.35 L1193.05,1284.23 L1193.3,1284.07 L1193.55,1283.91 L1193.8,1283.74 L1194.05,1283.58 L1194.3,1283.42 L1194.55,1283.34 L1194.8,1283.6 L1195.05,1283.86 L1195.3,1284.12 L1195.55,1284.39 L1195.8,1284.65 L1196.05,1284.91 L1196.3,1284.9 L1196.55,1284.82 L1196.8,1284.74 L1197.05,1284.66 L1197.3,1284.59 L1197.55,1284.51 L1197.8,1284.47 L1198.05,1284.5 L1198.3,1284.54 L1198.55,1284.57 L1198.8,1284.6 L1199.05,1284.63 L1199.3,1284.66 L1199.55,1284.58 L1199.8,1284.5 L1200.05,1284.43 L1200.3,1284.35 L1200.55,1284.27 L1200.8,1284.2 L1201.05,1284.14 L1201.3,1284.09 L1201.55,1284.04 L1201.8,1283.99 L1202.05,1283.94 L1202.3,1283.89 L1202.55,1283.88 L1202.8,1284.01 L1203.05,1284.13 L1203.3,1284.26 L1203.55,1284.38 L1203.8,1284.51 L1204.05,1284.63 L1204.3,1284.43 L1204.55,1284.15 L1204.8,1283.87 L1205.05,1283.59 L1205.3,1283.3 L1205.55,1283.02 L1205.8,1282.9 L1206.05,1283 L1206.3,1283.11 L1206.55,1283.21 L1206.8,1283.32 L1207.05,1283.42 L1207.3,1283.53 L1207.55,1283.63 L1207.8,1283.72 L1208.05,1283.82 L1208.3,1283.92 L1208.55,1284.01 L1208.8,1284.11 L1209.05,1284.16 L1209.3,1284.17 L1209.55,1284.19 L1209.8,1284.2 L1210.05,1284.22 L1210.3,1284.23 L1210.55,1284.28 L1210.8,1284.48 L1211.05,1284.67 L1211.3,1284.87 L1211.55,1285.06 L1211.8,1285.26 L1212.05,1285.3 L1212.3,1285.3 L1212.55,1285.3 L1212.8,1285.3 L1213.05,1285.29 L1213.3,1285.24 L1213.55,1285.18 L1213.8,1285.04 L1214.05,1284.77 L1214.3,1284.5 L1214.55,1284.23 L1214.8,1283.96 L1215.05,1283.69 L1215.3,1283.42 L1215.55,1283.58 L1215.8,1283.73 L1216.05,1283.88 L1216.3,1284.04 L1216.55,1284.19 L1216.8,1284.35 L1217.05,1284.52 L1217.3,1284.72 L1217.55,1284.91 L1217.8,1285.1 L1218.05,1285.29 L1218.3,1285.3 L1218.55,1285.3 L1218.8,1285.3 L1219.05,1285.03 L1219.3,1284.75 L1219.55,1284.48 L1219.8,1284.2 L1220.05,1283.92 L1220.3,1283.95 L1220.55,1284.05 L1220.8,1284.15 L1221.05,1284.26 L1221.3,1284.36 L1221.55,1284.46 L1221.8,1284.41 L1222.05,1284.12 L1222.3,1283.83 L1222.55,1283.54 L1222.8,1283.25 L1223.05,1282.96 L1223.3,1282.67 L1223.55,1282.65 L1223.8,1282.64 L1224.05,1282.62 L1224.3,1282.61 L1224.55,1282.6 L1224.8,1282.58 L1225.05,1282.73 L1225.3,1282.99 L1225.55,1283.25 L1225.8,1283.51 L1226.05,1283.77 L1226.3,1284.03 L1226.55,1284.24 L1226.8,1284.24 L1227.05,1284.24 L1227.3,1284.24 L1227.55,1284.24 L1227.8,1284.24 L1228.05,1284.24 L1228.3,1284.39 L1228.55,1284.58 L1228.8,1284.77 L1229.05,1284.97 L1229.3,1285.16 L1229.55,1285.3 L1229.8,1285.3 L1230.05,1285.02 L1230.3,1284.7 L1230.55,1284.39 L1230.8,1284.07 L1231.05,1283.75 L1231.3,1283.43 L1231.55,1283.56 L1231.8,1283.68 L1232.05,1283.81 L1232.3,1283.93 L1232.55,1284.06 L1232.8,1284.18 L1233.05,1284.22 L1233.3,1284.19 L1233.55,1284.17 L1233.8,1284.14 L1234.05,1284.12 L1234.3,1284.09 L1234.55,1284.09 L1234.8,1284.22 L1235.05,1284.34 L1235.3,1284.46 L1235.55,1284.59 L1235.8,1284.71 L1236.05,1284.83 L1236.3,1284.77 L1236.55,1284.67 L1236.8,1284.56 L1237.05,1284.46 L1237.3,1284.35 L1237.55,1284.25 L1237.8,1284.17 L1238.05,1284.14 L1238.3,1284.1 L1238.55,1284.06 L1238.8,1284.03 L1239.05,1283.99 L1239.3,1283.96 L1239.55,1283.99 L1239.8,1284.02 L1240.05,1284.05 L1240.3,1284.08 L1240.55,1284.12 L1240.8,1284.15 L1241.05,1284.34 L1241.3,1284.65 L1241.55,1284.95 L1241.8,1285.25 L1242,1287.5 Z" fill="#ffff00"/>
<rect x="1029.4" y="1144.6" width="210.6" height="45.6" fill="#e8e8e8"/>
<rect x="1029.4" y="1190.2" width="210.6" height="46.1" fill="#c8c8c8"/>
<rect x="1029.4" y="1236.3" width="210.6" height="46.3" fill="#e8e8e8"/>
<rect x="1029.4" y="1144.6" width="210.6" height="138" fill="none" stroke="#000" stroke-width="2.6"/>
<line x1="1134.7" y1="1144.6" x2="1134.7" y2="1282.6" stroke="#000" stroke-width="2.3"/>
<line x1="1029.4" y1="1190.2" x2="1240" y2="1190.2" stroke="#000" stroke-width="2.3"/>
<line x1="1029.4" y1="1236.3" x2="1240" y2="1236.3" stroke="#000" stroke-width="2.3"/>
<text x="1082.05" y="1175.2" font-size="21.3" font-weight="bold" text-anchor="middle">Element</text>
<text x="1187.35" y="1175.2" font-size="21" font-weight="bold" text-anchor="middle">Atomic %</text>
<text x="1082.05" y="1219.65" font-size="21.3" font-weight="bold" text-anchor="middle">O</text>
<text x="1082.05" y="1266.05" font-size="21.3" font-weight="bold" text-anchor="middle">Sn</text>
<text x="1187.35" y="1221.75" font-size="23.5" font-weight="bold" fill="#ff0000" text-anchor="middle">59.19</text>
<text x="1187.35" y="1267.95" font-size="23.5" font-weight="bold" fill="#ff0000" text-anchor="middle">40.81</text>
<text x="1185.8" y="1044.1" font-size="57.5" font-weight="bold" fill="#fff">e</text>
<path d="M624.8,1342 L624.8,982 L1242,982" fill="none" stroke="#0b1420" stroke-width="2"/>
<line x1="624" y1="1341" x2="1242" y2="1341" stroke="#0b1420" stroke-width="2"/></g><circle cx="717.2" cy="1224.6" r="26.3" fill="url(#gp)"/>
<circle cx="717.2" cy="1224.6" r="26.3" fill="url(#gshade)"/>
<circle cx="717.2" cy="1224.6" r="26.3" fill="url(#grimp)"/>
<text x="717.2" y="1233.2" font-size="28.5" font-weight="bold" fill="#ffff00" text-anchor="middle">O</text>
<circle cx="819.5" cy="1209" r="26.3" fill="url(#gp)"/>
<circle cx="819.5" cy="1209" r="26.3" fill="url(#gshade)"/>
<circle cx="819.5" cy="1209" r="26.3" fill="url(#grimp)"/>
<text x="819.5" y="1217.6" font-size="28.5" font-weight="bold" fill="#ffff00" text-anchor="middle">Sn</text>
<polygon points="836.2,1269.3 846.1,1284.8 851.6,1278.8 860.6,1278.3 861.3,1273.3" fill="#123a62" fill-opacity="0.55" stroke="#6a8cb0" stroke-width="0.9" stroke-opacity="0.8"/>
<circle cx="852.7" cy="1250.3" r="26.3" fill="url(#gp)"/>
<circle cx="852.7" cy="1250.3" r="26.3" fill="url(#gshade)"/>
<circle cx="852.7" cy="1250.3" r="26.3" fill="url(#grimp)"/>
<text x="852.7" y="1258.9" font-size="28.5" font-weight="bold" fill="#ffff00" text-anchor="middle">Sn</text>
<circle cx="982.7" cy="1011" r="26.3" fill="url(#gg)"/>
<circle cx="982.7" cy="1011" r="26.3" fill="url(#gshade)"/>
<circle cx="982.7" cy="1011" r="26.3" fill="url(#grimg)"/>
<text x="982.7" y="1019.6" font-size="28.5" font-weight="bold" fill="#000" text-anchor="middle">Cu</text>
<g clip-path="url(#cp_tem)">
<rect x="290.5" y="1354.5" width="656.0" height="656.5" fill="url(#gdark)"/>
<rect x="290.5" y="1354.5" width="656.0" height="656.5" fill="url(#gdark2)"/>
<rect x="290.5" y="1354.5" width="656.0" height="656.5" fill="url(#gcorner)"/>
<path d="M598.3,1350 C597.25,1355 594.57,1370.83 592,1380 C589.43,1389.17 585.9,1397.5 582.9,1405 C579.9,1412.5 576.78,1418.5 574,1425 C571.22,1431.5 568.62,1437.67 566.2,1444 C563.78,1450.33 561.53,1457.33 559.5,1463 C557.47,1468.67 555.58,1473.17 554,1478 C552.42,1482.83 551.5,1487 550,1492 C548.5,1497 546.78,1502 545,1508 C543.22,1514 541.22,1521.5 539.3,1528 C537.38,1534.5 535.43,1540.67 533.5,1547 C531.57,1553.33 529.32,1559.58 527.7,1566 C526.08,1572.42 525.25,1579 523.8,1585.5 C522.35,1592 520.43,1598.58 519,1605 C517.57,1611.42 516.48,1617.67 515.2,1624 C513.92,1630.33 512.6,1636.5 511.3,1643 C510,1649.5 508.62,1656.5 507.4,1663 C506.18,1669.5 506.37,1673.68 504,1682 C501.63,1690.32 495.95,1702.27 493.2,1712.9 C490.45,1723.53 489.55,1734.83 487.5,1745.8 C485.45,1756.77 483.52,1767.73 480.9,1778.7 C478.28,1789.67 474.68,1800.63 471.8,1811.6 C468.92,1822.57 465.92,1833.53 463.6,1844.5 C461.28,1855.47 459.68,1866.43 457.9,1877.4 C456.12,1888.37 454.55,1899.33 452.9,1910.3 C451.25,1921.27 449.63,1932.22 448,1943.2 C446.37,1954.18 444.62,1965.23 443.1,1976.2 C441.58,1987.17 439.67,2002.7 438.9,2009 C438.13,2015.3 438.57,2013.17 438.5,2014" fill="none" stroke="#555555" stroke-width="56" filter="url(#blur12)" opacity="0.85"/>
<rect x="290.5" y="1354.5" width="656.0" height="656.5" fill="url(#lat)" opacity="0.3"/>
<path d="M288.5,1350.5 L572.3,1350 C571.25,1355 568.57,1370.83 566,1380 C563.43,1389.17 559.9,1397.5 556.9,1405 C553.9,1412.5 550.78,1418.5 548,1425 C545.22,1431.5 542.62,1437.67 540.2,1444 C537.78,1450.33 535.53,1457.33 533.5,1463 C531.47,1468.67 529.58,1473.17 528,1478 C526.42,1482.83 525.5,1487 524,1492 C522.5,1497 520.78,1502 519,1508 C517.22,1514 515.22,1521.5 513.3,1528 C511.38,1534.5 509.43,1540.67 507.5,1547 C505.57,1553.33 503.32,1559.58 501.7,1566 C500.08,1572.42 499.25,1579 497.8,1585.5 C496.35,1592 494.43,1598.58 493,1605 C491.57,1611.42 490.48,1617.67 489.2,1624 C487.92,1630.33 486.6,1636.5 485.3,1643 C484,1649.5 482.62,1656.5 481.4,1663 C480.18,1669.5 480.37,1673.68 478,1682 C475.63,1690.32 469.95,1702.27 467.2,1712.9 C464.45,1723.53 463.55,1734.83 461.5,1745.8 C459.45,1756.77 457.52,1767.73 454.9,1778.7 C452.28,1789.67 448.68,1800.63 445.8,1811.6 C442.92,1822.57 439.92,1833.53 437.6,1844.5 C435.28,1855.47 433.68,1866.43 431.9,1877.4 C430.12,1888.37 428.55,1899.33 426.9,1910.3 C425.25,1921.27 423.63,1932.22 422,1943.2 C420.37,1954.18 418.62,1965.23 417.1,1976.2 C415.58,1987.17 413.67,2002.7 412.9,2009 C412.13,2015.3 412.57,2013.17 412.5,2014 L288.5,2015 Z" fill="#c4c4c4"/>
<path d="M288.5,1350.5 L572.3,1350 C571.25,1355 568.57,1370.83 566,1380 C563.43,1389.17 559.9,1397.5 556.9,1405 C553.9,1412.5 550.78,1418.5 548,1425 C545.22,1431.5 542.62,1437.67 540.2,1444 C537.78,1450.33 535.53,1457.33 533.5,1463 C531.47,1468.67 529.58,1473.17 528,1478 C526.42,1482.83 525.5,1487 524,1492 C522.5,1497 520.78,1502 519,1508 C517.22,1514 515.22,1521.5 513.3,1528 C511.38,1534.5 509.43,1540.67 507.5,1547 C505.57,1553.33 503.32,1559.58 501.7,1566 C500.08,1572.42 499.25,1579 497.8,1585.5 C496.35,1592 494.43,1598.58 493,1605 C491.57,1611.42 490.48,1617.67 489.2,1624 C487.92,1630.33 486.6,1636.5 485.3,1643 C484,1649.5 482.62,1656.5 481.4,1663 C480.18,1669.5 480.37,1673.68 478,1682 C475.63,1690.32 469.95,1702.27 467.2,1712.9 C464.45,1723.53 463.55,1734.83 461.5,1745.8 C459.45,1756.77 457.52,1767.73 454.9,1778.7 C452.28,1789.67 448.68,1800.63 445.8,1811.6 C442.92,1822.57 439.92,1833.53 437.6,1844.5 C435.28,1855.47 433.68,1866.43 431.9,1877.4 C430.12,1888.37 428.55,1899.33 426.9,1910.3 C425.25,1921.27 423.63,1932.22 422,1943.2 C420.37,1954.18 418.62,1965.23 417.1,1976.2 C415.58,1987.17 413.67,2002.7 412.9,2009 C412.13,2015.3 412.57,2013.17 412.5,2014 L288.5,2015 Z" fill="#c4c4c4" filter="url(#noise)"/>
<path d="M553.7,1350 C553,1355 550.9,1370.83 549.5,1380 C548.1,1389.17 547.13,1397.5 545.3,1405 C543.47,1412.5 540.65,1418.5 538.5,1425 C536.35,1431.5 534.07,1437.83 532.4,1444 C530.73,1450.17 529.73,1456.33 528.5,1462 C527.27,1467.67 526.12,1473 525,1478 C523.88,1483 522.97,1487 521.8,1492 C520.63,1497 519.58,1502 518,1508 C516.42,1514 514.22,1521.5 512.3,1528 C510.38,1534.5 508.43,1540.67 506.5,1547 C504.57,1553.33 502.32,1559.58 500.7,1566 C499.08,1572.42 498.25,1579 496.8,1585.5 C495.35,1592 493.43,1598.58 492,1605 C490.57,1611.42 489.48,1617.67 488.2,1624 C486.92,1630.33 485.6,1636.5 484.3,1643 C483,1649.5 481.62,1656.5 480.4,1663 C479.18,1669.5 479.37,1673.68 477,1682 C474.63,1690.32 468.95,1702.27 466.2,1712.9 C463.45,1723.53 462.55,1734.83 460.5,1745.8 C458.45,1756.77 456.52,1767.73 453.9,1778.7 C451.28,1789.67 447.68,1800.63 444.8,1811.6 C441.92,1822.57 438.92,1833.53 436.6,1844.5 C434.28,1855.47 432.68,1866.43 430.9,1877.4 C429.12,1888.37 427.55,1899.33 425.9,1910.3 C424.25,1921.27 422.63,1932.22 421,1943.2 C419.37,1954.18 417.62,1965.23 416.1,1976.2 C414.58,1987.17 412.67,2002.7 411.9,2009 C411.13,2015.3 411.57,2013.17 411.5,2014 L412.5,2014 C412.57,2013.17 412.13,2015.3 412.9,2009 C413.67,2002.7 415.58,1987.17 417.1,1976.2 C418.62,1965.23 420.37,1954.18 422,1943.2 C423.63,1932.22 425.25,1921.27 426.9,1910.3 C428.55,1899.33 430.12,1888.37 431.9,1877.4 C433.68,1866.43 435.28,1855.47 437.6,1844.5 C439.92,1833.53 442.92,1822.57 445.8,1811.6 C448.68,1800.63 452.28,1789.67 454.9,1778.7 C457.52,1767.73 459.45,1756.77 461.5,1745.8 C463.55,1734.83 464.45,1723.53 467.2,1712.9 C469.95,1702.27 475.63,1690.32 478,1682 C480.37,1673.68 480.18,1669.5 481.4,1663 C482.62,1656.5 484,1649.5 485.3,1643 C486.6,1636.5 487.92,1630.33 489.2,1624 C490.48,1617.67 491.57,1611.42 493,1605 C494.43,1598.58 496.35,1592 497.8,1585.5 C499.25,1579 500.08,1572.42 501.7,1566 C503.32,1559.58 505.57,1553.33 507.5,1547 C509.43,1540.67 511.38,1534.5 513.3,1528 C515.22,1521.5 517.22,1514 519,1508 C520.78,1502 522.5,1497 524,1492 C525.5,1487 526.42,1482.83 528,1478 C529.58,1473.17 531.47,1468.67 533.5,1463 C535.53,1457.33 537.78,1450.33 540.2,1444 C542.62,1437.67 545.22,1431.5 548,1425 C550.78,1418.5 553.9,1412.5 556.9,1405 C559.9,1397.5 563.43,1389.17 566,1380 C568.57,1370.83 571.25,1355 572.3,1350 Z" fill="#000" fill-opacity="0.1"/>
<path d="M543.7,1350 C543,1355 540.9,1370.83 539.5,1380 C538.1,1389.17 537.13,1397.5 535.3,1405 C533.47,1412.5 530.65,1418.5 528.5,1425 C526.35,1431.5 524.07,1437.83 522.4,1444 C520.73,1450.17 519.73,1456.33 518.5,1462 C517.27,1467.67 516.12,1473 515,1478 C513.88,1483 512.97,1487 511.8,1492 C510.63,1497 509.58,1502 508,1508 C506.42,1514 504.22,1521.5 502.3,1528 C500.38,1534.5 498.43,1540.67 496.5,1547 C494.57,1553.33 492.32,1559.58 490.7,1566 C489.08,1572.42 488.25,1579 486.8,1585.5 C485.35,1592 483.43,1598.58 482,1605 C480.57,1611.42 479.48,1617.67 478.2,1624 C476.92,1630.33 475.6,1636.5 474.3,1643 C473,1649.5 471.62,1656.5 470.4,1663 C469.18,1669.5 469.37,1673.68 467,1682 C464.63,1690.32 458.95,1702.27 456.2,1712.9 C453.45,1723.53 452.55,1734.83 450.5,1745.8 C448.45,1756.77 446.52,1767.73 443.9,1778.7 C441.28,1789.67 437.68,1800.63 434.8,1811.6 C431.92,1822.57 428.92,1833.53 426.6,1844.5 C424.28,1855.47 422.68,1866.43 420.9,1877.4 C419.12,1888.37 417.55,1899.33 415.9,1910.3 C414.25,1921.27 412.63,1932.22 411,1943.2 C409.37,1954.18 407.62,1965.23 406.1,1976.2 C404.58,1987.17 402.67,2002.7 401.9,2009 C401.13,2015.3 401.57,2013.17 401.5,2014" fill="none" stroke="#dadada" stroke-width="18" opacity="0.55" filter="url(#blur3)"/>
<path d="M552.3,1350 C551.6,1355 549.5,1370.83 548.1,1380 C546.7,1389.17 545.73,1397.5 543.9,1405 C542.07,1412.5 539.25,1418.5 537.1,1425 C534.95,1431.5 532.67,1437.83 531,1444 C529.33,1450.17 528.33,1456.33 527.1,1462 C525.87,1467.67 524.72,1473 523.6,1478 C522.48,1483 521.57,1487 520.4,1492 C519.23,1497 518.18,1502 516.6,1508 C515.02,1514 512.82,1521.5 510.9,1528 C508.98,1534.5 507.03,1540.67 505.1,1547 C503.17,1553.33 500.92,1559.58 499.3,1566 C497.68,1572.42 496.85,1579 495.4,1585.5 C493.95,1592 492.03,1598.58 490.6,1605 C489.17,1611.42 488.08,1617.67 486.8,1624 C485.52,1630.33 484.2,1636.5 482.9,1643 C481.6,1649.5 480.22,1656.5 479,1663 C477.78,1669.5 477.97,1673.68 475.6,1682 C473.23,1690.32 467.55,1702.27 464.8,1712.9 C462.05,1723.53 461.15,1734.83 459.1,1745.8 C457.05,1756.77 455.12,1767.73 452.5,1778.7 C449.88,1789.67 446.28,1800.63 443.4,1811.6 C440.52,1822.57 437.52,1833.53 435.2,1844.5 C432.88,1855.47 431.28,1866.43 429.5,1877.4 C427.72,1888.37 426.15,1899.33 424.5,1910.3 C422.85,1921.27 421.23,1932.22 419.6,1943.2 C417.97,1954.18 416.22,1965.23 414.7,1976.2 C413.18,1987.17 411.27,2002.7 410.5,2009 C409.73,2015.3 410.17,2013.17 410.1,2014" fill="none" stroke="#f4f4f4" stroke-width="3.6" filter="url(#blur07)"/>
</g>
<rect x="287.25" y="1351.25" width="662.75" height="663.25" rx="5" fill="none" stroke="#000" stroke-width="6.5"/>
<line x1="640.3" y1="1609.1" x2="720.6" y2="1664.9" stroke="#ffff00" stroke-width="3"/><line x1="636.2" y1="1617.4" x2="716.3" y2="1672.5" stroke="#ffff00" stroke-width="3"/>
<line x1="724" y1="1575.3" x2="682.6" y2="1635" stroke="#ffff00" stroke-width="3"/><polyline points="684.1,1617.4 682.6,1635 699.2,1627.5" fill="none" stroke="#ffff00" stroke-width="3"/>
<line x1="634.6" y1="1709.7" x2="675.6" y2="1648.5" stroke="#ffff00" stroke-width="3"/><polyline points="674,1667 675.6,1648.5 659.4,1657.2" fill="none" stroke="#ffff00" stroke-width="3"/>
<text x="815.9000000000001" y="1611.8" font-size="23.5" font-weight="bold" fill="#000" fill-opacity="0.75" text-anchor="middle">SnO (002)</text><text x="814.7" y="1610.6" font-size="23.5" font-weight="bold" fill="#ffff00" text-anchor="middle">SnO (002)</text>
<text x="815.9000000000001" y="1639.5" font-size="23.5" font-weight="bold" fill="#000" fill-opacity="0.75" text-anchor="middle">d = 0.556 nm</text><text x="814.7" y="1638.3" font-size="23.5" font-weight="bold" fill="#ffff00" text-anchor="middle">d = 0.556 nm</text>
<line x1="472.1" y1="1832.1" x2="483.6" y2="1919.9" stroke="#f47a10" stroke-width="2.6"/><line x1="478.4" y1="1831" x2="489.9" y2="1918.8" stroke="#f47a10" stroke-width="2.6"/>
<line x1="416.7" y1="1891.7" x2="474.2" y2="1880.2" stroke="#f47a10" stroke-width="2.6"/><polyline points="456.4,1875 474.2,1880.2 459.6,1892.1" fill="none" stroke="#f47a10" stroke-width="2.6"/>
<line x1="544.8" y1="1865.5" x2="487.8" y2="1877" stroke="#f47a10" stroke-width="2.6"/><polyline points="502.4,1866.6 487.8,1877 505.5,1882.3" fill="none" stroke="#f47a10" stroke-width="2.6"/>
<text x="570.4000000000001" y="1793.6000000000001" font-size="23.5" font-weight="bold" fill="#000" fill-opacity="0.75" text-anchor="middle">Sn (111)</text><text x="569.2" y="1792.4" font-size="23.5" font-weight="bold" fill="#f47a10" text-anchor="middle">Sn (111)</text>
<text x="570.4000000000001" y="1820.8" font-size="23.5" font-weight="bold" fill="#000" fill-opacity="0.75" text-anchor="middle">d = 0.375 nm</text><text x="569.2" y="1819.6" font-size="23.5" font-weight="bold" fill="#f47a10" text-anchor="middle">d = 0.375 nm</text>
<line x1="748.5" y1="1796.4" x2="760" y2="1892.6" stroke="#3a9dc0" stroke-width="2.6"/><line x1="755.2" y1="1794.8" x2="766.7" y2="1890.5" stroke="#3a9dc0" stroke-width="2.6"/>
<line x1="694.6" y1="1856.6" x2="752.1" y2="1845.5" stroke="#3a9dc0" stroke-width="2.6"/><polyline points="733.3,1839.9 752.1,1845.5 736.4,1856.6" fill="none" stroke="#3a9dc0" stroke-width="2.6"/>
<line x1="821.1" y1="1831.3" x2="764.6" y2="1842.4" stroke="#3a9dc0" stroke-width="2.6"/><polyline points="778.2,1832 764.6,1842.4 782.4,1848.3" fill="none" stroke="#3a9dc0" stroke-width="2.6"/>
<text x="853.6" y="1775.7" font-size="23.5" font-weight="bold" fill="#000" fill-opacity="0.75" text-anchor="middle">SnO<tspan font-size="16" dy="4.5">2</tspan><tspan dy="-4.5"> (110)</tspan></text><text x="852.4" y="1774.5" font-size="23.5" font-weight="bold" fill="#3a9dc0" text-anchor="middle">SnO<tspan font-size="16" dy="4.5">2</tspan><tspan dy="-4.5"> (110)</tspan></text>
<text x="853.6" y="1802.9" font-size="23.5" font-weight="bold" fill="#000" fill-opacity="0.75" text-anchor="middle">d = 0.334 nm</text><text x="852.4" y="1801.7" font-size="23.5" font-weight="bold" fill="#3a9dc0" text-anchor="middle">d = 0.334 nm</text>
<text transform="translate(909.8,1419.9) scale(1.1,1)" font-size="56" font-weight="bold" fill="#fff">f</text>
<text x="318.5" y="1954.6" font-family="Liberation Serif" font-size="35.5" font-weight="bold" letter-spacing="1.2" fill="#555" opacity="0.8">5 nm</text>
<text x="317.5" y="1953.4" font-family="Liberation Serif" font-size="35.5" font-weight="bold" letter-spacing="1.2" fill="#fff">5 nm</text>
<rect x="317" y="1961.6" width="60" height="5.3" rx="2.6" fill="#fff" stroke="#777" stroke-width="1"/>
</svg>
</body></html>
